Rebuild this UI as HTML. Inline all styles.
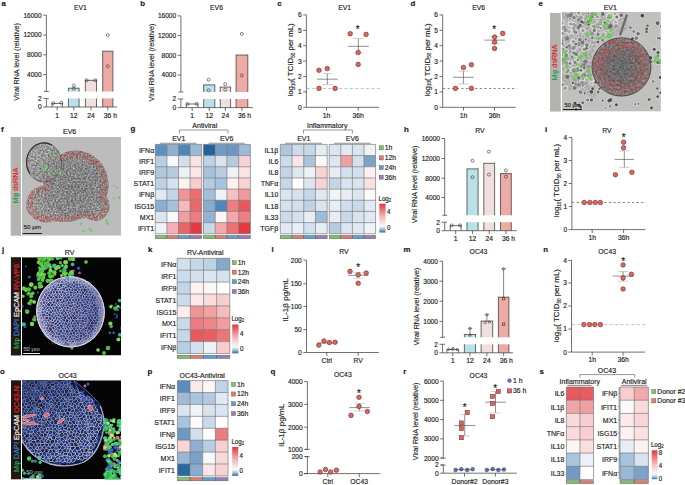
<!DOCTYPE html>
<html><head><meta charset="utf-8"><style>
html,body{margin:0;padding:0;background:#fff;}
svg{display:block;font-family:"Liberation Sans", sans-serif;font-size:6.8px;fill:#1e1e1e;}
text{stroke:#1e1e1e;stroke-width:0.16px;}
</style></head><body>
<svg width="685" height="485" viewBox="0 0 685 485">
<rect width="685" height="485" fill="#fff"/>
<text x="1.5" y="6" font-weight="bold" fill="#1a1414" stroke="#1a1414" font-size="7.9">a</text>
<line x1="46.4" y1="15.2" x2="46.4" y2="91.5" stroke="#333" stroke-width="0.7"/>
<line x1="43.2" y1="15.2" x2="46.4" y2="15.2" stroke="#333" stroke-width="0.7"/>
<text x="41.7" y="17.65" text-anchor="end" font-size="6.6" transform="matrix(1 0 0 1.1 0 -1.77)">16000</text>
<line x1="43.2" y1="35" x2="46.4" y2="35" stroke="#333" stroke-width="0.7"/>
<text x="41.7" y="37.45" text-anchor="end" font-size="6.6" transform="matrix(1 0 0 1.1 0 -3.75)">12000</text>
<line x1="43.2" y1="54.8" x2="46.4" y2="54.8" stroke="#333" stroke-width="0.7"/>
<text x="41.7" y="57.25" text-anchor="end" font-size="6.6" transform="matrix(1 0 0 1.1 0 -5.73)">8000</text>
<line x1="43.2" y1="74.6" x2="46.4" y2="74.6" stroke="#333" stroke-width="0.7"/>
<text x="41.7" y="77.05" text-anchor="end" font-size="6.6" transform="matrix(1 0 0 1.1 0 -7.71)">4000</text>
<line x1="44" y1="91.5" x2="48.8" y2="91.5" stroke="#333" stroke-width="0.7"/>
<line x1="46.4" y1="98.4" x2="46.4" y2="107" stroke="#333" stroke-width="0.7"/>
<line x1="43.2" y1="98.4" x2="46.4" y2="98.4" stroke="#333" stroke-width="0.7"/>
<text x="41.7" y="100.85" text-anchor="end" font-size="6.6" transform="matrix(1 0 0 1.1 0 -10.09)">2</text>
<line x1="43.2" y1="107" x2="46.4" y2="107" stroke="#333" stroke-width="0.7"/>
<text x="41.7" y="109.45" text-anchor="end" font-size="6.6" transform="matrix(1 0 0 1.1 0 -10.95)">0</text>
<line x1="46.4" y1="98.4" x2="48.8" y2="98.4" stroke="#333" stroke-width="0.7"/>
<rect x="52" y="103.4" width="10.4" height="3.6" fill="#ffffff"/>
<line x1="52" y1="103.4" x2="62.4" y2="103.4" stroke="#444" stroke-width="0.8"/>
<line x1="52" y1="103" x2="52" y2="107" stroke="#444" stroke-width="0.8"/>
<line x1="62.4" y1="103" x2="62.4" y2="107" stroke="#444" stroke-width="0.8"/>
<line x1="57.2" y1="107" x2="57.2" y2="110.4" stroke="#333" stroke-width="0.7"/>
<text x="57.2" y="117.6" text-anchor="middle" transform="matrix(1 0 0 1.15 0 -17.64)">1</text>
<rect x="68.4" y="88.2" width="10.7" height="3.3" fill="#b9e1e7"/>
<rect x="68.4" y="98.4" width="10.7" height="8.6" fill="#b9e1e7"/>
<line x1="68.4" y1="88.2" x2="79.1" y2="88.2" stroke="#444" stroke-width="0.8"/>
<line x1="68.4" y1="87.8" x2="68.4" y2="91.5" stroke="#444" stroke-width="0.8"/>
<line x1="68.4" y1="98.4" x2="68.4" y2="107" stroke="#444" stroke-width="0.8"/>
<line x1="79.1" y1="87.8" x2="79.1" y2="91.5" stroke="#444" stroke-width="0.8"/>
<line x1="79.1" y1="98.4" x2="79.1" y2="107" stroke="#444" stroke-width="0.8"/>
<line x1="73.75" y1="107" x2="73.75" y2="110.4" stroke="#333" stroke-width="0.7"/>
<text x="73.75" y="117.6" text-anchor="middle" transform="matrix(1 0 0 1.15 0 -17.64)">12</text>
<rect x="85.4" y="80.3" width="11.1" height="11.2" fill="#efdfdf"/>
<rect x="85.4" y="98.4" width="11.1" height="8.6" fill="#efdfdf"/>
<line x1="85.4" y1="80.3" x2="96.5" y2="80.3" stroke="#444" stroke-width="0.8"/>
<line x1="85.4" y1="79.9" x2="85.4" y2="91.5" stroke="#444" stroke-width="0.8"/>
<line x1="85.4" y1="98.4" x2="85.4" y2="107" stroke="#444" stroke-width="0.8"/>
<line x1="96.5" y1="79.9" x2="96.5" y2="91.5" stroke="#444" stroke-width="0.8"/>
<line x1="96.5" y1="98.4" x2="96.5" y2="107" stroke="#444" stroke-width="0.8"/>
<line x1="90.95" y1="107" x2="90.95" y2="110.4" stroke="#333" stroke-width="0.7"/>
<text x="90.95" y="117.6" text-anchor="middle" transform="matrix(1 0 0 1.15 0 -17.64)">24</text>
<rect x="102.7" y="51.2" width="10.2" height="40.3" fill="#eeaaa5"/>
<rect x="102.7" y="98.4" width="10.2" height="8.6" fill="#eeaaa5"/>
<line x1="102.7" y1="51.2" x2="112.9" y2="51.2" stroke="#444" stroke-width="0.8"/>
<line x1="102.7" y1="50.8" x2="102.7" y2="91.5" stroke="#444" stroke-width="0.8"/>
<line x1="102.7" y1="98.4" x2="102.7" y2="107" stroke="#444" stroke-width="0.8"/>
<line x1="112.9" y1="50.8" x2="112.9" y2="91.5" stroke="#444" stroke-width="0.8"/>
<line x1="112.9" y1="98.4" x2="112.9" y2="107" stroke="#444" stroke-width="0.8"/>
<line x1="107.8" y1="107" x2="107.8" y2="110.4" stroke="#333" stroke-width="0.7"/>
<text x="110.4" y="117.6" text-anchor="middle" transform="matrix(1 0 0 1.15 0 -17.64)">36 h</text>
<line x1="46.4" y1="107" x2="117" y2="107" stroke="#333" stroke-width="0.7"/>
<text x="80.4" y="9.8" text-anchor="middle" transform="matrix(1 0 0 1.09 0 -0.88)">EV1</text>
<text x="19.2" y="61.9" text-anchor="middle" font-size="7.2" transform="matrix(1 0 0 1 0 -0) rotate(-90 19.2 61.9)">Viral RNA level (relative)</text>
<circle cx="53.2" cy="103.2" r="1.5" fill="none" stroke="#333" stroke-width="0.6"/>
<circle cx="61.4" cy="102.8" r="1.5" fill="none" stroke="#333" stroke-width="0.6"/>
<circle cx="73.8" cy="85.6" r="1.5" fill="none" stroke="#333" stroke-width="0.6"/>
<circle cx="73.8" cy="88.6" r="1.5" fill="none" stroke="#333" stroke-width="0.6"/>
<circle cx="86.6" cy="80.3" r="1.5" fill="none" stroke="#333" stroke-width="0.6"/>
<circle cx="95.3" cy="80.3" r="1.5" fill="none" stroke="#333" stroke-width="0.6"/>
<circle cx="107.8" cy="35.1" r="1.5" fill="none" stroke="#333" stroke-width="0.6"/>
<circle cx="107.8" cy="66.3" r="1.5" fill="none" stroke="#333" stroke-width="0.6"/>
<text x="140.2" y="6" font-weight="bold" fill="#1a1414" stroke="#1a1414" font-size="7.9">b</text>
<line x1="180.9" y1="15.9" x2="180.9" y2="92" stroke="#333" stroke-width="0.7"/>
<line x1="177.7" y1="15.9" x2="180.9" y2="15.9" stroke="#333" stroke-width="0.7"/>
<text x="176.2" y="18.35" text-anchor="end" font-size="6.6" transform="matrix(1 0 0 1.1 0 -1.84)">16000</text>
<line x1="177.7" y1="35.6" x2="180.9" y2="35.6" stroke="#333" stroke-width="0.7"/>
<text x="176.2" y="38.05" text-anchor="end" font-size="6.6" transform="matrix(1 0 0 1.1 0 -3.81)">12000</text>
<line x1="177.7" y1="55.3" x2="180.9" y2="55.3" stroke="#333" stroke-width="0.7"/>
<text x="176.2" y="57.75" text-anchor="end" font-size="6.6" transform="matrix(1 0 0 1.1 0 -5.78)">8000</text>
<line x1="177.7" y1="75" x2="180.9" y2="75" stroke="#333" stroke-width="0.7"/>
<text x="176.2" y="77.45" text-anchor="end" font-size="6.6" transform="matrix(1 0 0 1.1 0 -7.75)">4000</text>
<line x1="178.5" y1="92" x2="183.3" y2="92" stroke="#333" stroke-width="0.7"/>
<line x1="180.9" y1="99" x2="180.9" y2="107.6" stroke="#333" stroke-width="0.7"/>
<line x1="177.7" y1="99" x2="180.9" y2="99" stroke="#333" stroke-width="0.7"/>
<text x="176.2" y="101.45" text-anchor="end" font-size="6.6" transform="matrix(1 0 0 1.1 0 -10.15)">2</text>
<line x1="177.7" y1="107.6" x2="180.9" y2="107.6" stroke="#333" stroke-width="0.7"/>
<text x="176.2" y="110.05" text-anchor="end" font-size="6.6" transform="matrix(1 0 0 1.1 0 -11.01)">0</text>
<line x1="180.9" y1="99" x2="183.3" y2="99" stroke="#333" stroke-width="0.7"/>
<rect x="186.3" y="104" width="11.7" height="3.6" fill="#ffffff"/>
<line x1="186.3" y1="104" x2="198" y2="104" stroke="#444" stroke-width="0.8"/>
<line x1="186.3" y1="103.6" x2="186.3" y2="107.6" stroke="#444" stroke-width="0.8"/>
<line x1="198" y1="103.6" x2="198" y2="107.6" stroke="#444" stroke-width="0.8"/>
<line x1="192.15" y1="107.6" x2="192.15" y2="111" stroke="#333" stroke-width="0.7"/>
<text x="192.15" y="118" text-anchor="middle" transform="matrix(1 0 0 1.15 0 -17.7)">1</text>
<rect x="203.7" y="84.9" width="11.1" height="7.1" fill="#b9e1e7"/>
<rect x="203.7" y="99" width="11.1" height="8.6" fill="#b9e1e7"/>
<line x1="203.7" y1="84.9" x2="214.8" y2="84.9" stroke="#444" stroke-width="0.8"/>
<line x1="203.7" y1="84.5" x2="203.7" y2="92" stroke="#444" stroke-width="0.8"/>
<line x1="203.7" y1="99" x2="203.7" y2="107.6" stroke="#444" stroke-width="0.8"/>
<line x1="214.8" y1="84.5" x2="214.8" y2="92" stroke="#444" stroke-width="0.8"/>
<line x1="214.8" y1="99" x2="214.8" y2="107.6" stroke="#444" stroke-width="0.8"/>
<line x1="209.25" y1="107.6" x2="209.25" y2="111" stroke="#333" stroke-width="0.7"/>
<text x="209.25" y="118" text-anchor="middle" transform="matrix(1 0 0 1.15 0 -17.7)">12</text>
<rect x="220.2" y="87.1" width="10.4" height="4.9" fill="#efdfdf"/>
<rect x="220.2" y="99" width="10.4" height="8.6" fill="#efdfdf"/>
<line x1="220.2" y1="87.1" x2="230.6" y2="87.1" stroke="#444" stroke-width="0.8"/>
<line x1="220.2" y1="86.7" x2="220.2" y2="92" stroke="#444" stroke-width="0.8"/>
<line x1="220.2" y1="99" x2="220.2" y2="107.6" stroke="#444" stroke-width="0.8"/>
<line x1="230.6" y1="86.7" x2="230.6" y2="92" stroke="#444" stroke-width="0.8"/>
<line x1="230.6" y1="99" x2="230.6" y2="107.6" stroke="#444" stroke-width="0.8"/>
<line x1="225.4" y1="107.6" x2="225.4" y2="111" stroke="#333" stroke-width="0.7"/>
<text x="225.4" y="118" text-anchor="middle" transform="matrix(1 0 0 1.15 0 -17.7)">24</text>
<rect x="236.1" y="55" width="11.7" height="37" fill="#eeaaa5"/>
<rect x="236.1" y="99" width="11.7" height="8.6" fill="#eeaaa5"/>
<line x1="236.1" y1="55" x2="247.8" y2="55" stroke="#444" stroke-width="0.8"/>
<line x1="236.1" y1="54.6" x2="236.1" y2="92" stroke="#444" stroke-width="0.8"/>
<line x1="236.1" y1="99" x2="236.1" y2="107.6" stroke="#444" stroke-width="0.8"/>
<line x1="247.8" y1="54.6" x2="247.8" y2="92" stroke="#444" stroke-width="0.8"/>
<line x1="247.8" y1="99" x2="247.8" y2="107.6" stroke="#444" stroke-width="0.8"/>
<line x1="241.95" y1="107.6" x2="241.95" y2="111" stroke="#333" stroke-width="0.7"/>
<text x="244.55" y="118" text-anchor="middle" transform="matrix(1 0 0 1.15 0 -17.7)">36 h</text>
<line x1="180.9" y1="107.6" x2="253" y2="107.6" stroke="#333" stroke-width="0.7"/>
<text x="216.5" y="10.2" text-anchor="middle" transform="matrix(1 0 0 1.09 0 -0.92)">EV6</text>
<text x="153.6" y="62.5" text-anchor="middle" font-size="7.2" transform="matrix(1 0 0 1 0 -0) rotate(-90 153.6 62.5)">Viral RNA level (relative)</text>
<circle cx="187.6" cy="104" r="1.5" fill="none" stroke="#333" stroke-width="0.6"/>
<circle cx="196.6" cy="103.8" r="1.5" fill="none" stroke="#333" stroke-width="0.6"/>
<circle cx="208.6" cy="79.7" r="1.5" fill="none" stroke="#333" stroke-width="0.6"/>
<circle cx="208.6" cy="90.3" r="1.5" fill="none" stroke="#333" stroke-width="0.6"/>
<circle cx="225.2" cy="84.2" r="1.5" fill="none" stroke="#333" stroke-width="0.6"/>
<circle cx="225.2" cy="89.6" r="1.5" fill="none" stroke="#333" stroke-width="0.6"/>
<circle cx="241.8" cy="33.9" r="1.5" fill="none" stroke="#333" stroke-width="0.6"/>
<circle cx="241.8" cy="75.5" r="1.5" fill="none" stroke="#333" stroke-width="0.6"/>
<text x="277.3" y="6" font-weight="bold" fill="#1a1414" stroke="#1a1414" font-size="7.9">c</text>
<line x1="306.4" y1="14.9" x2="306.4" y2="107.3" stroke="#333" stroke-width="0.7"/>
<line x1="303.2" y1="107.3" x2="306.4" y2="107.3" stroke="#333" stroke-width="0.7"/>
<text x="301.7" y="109.75" text-anchor="end" font-size="6.6" transform="matrix(1 0 0 1.1 0 -10.98)">0</text>
<line x1="303.2" y1="91.9" x2="306.4" y2="91.9" stroke="#333" stroke-width="0.7"/>
<text x="301.7" y="94.35" text-anchor="end" font-size="6.6" transform="matrix(1 0 0 1.1 0 -9.44)">1</text>
<line x1="303.2" y1="76.5" x2="306.4" y2="76.5" stroke="#333" stroke-width="0.7"/>
<text x="301.7" y="78.95" text-anchor="end" font-size="6.6" transform="matrix(1 0 0 1.1 0 -7.9)">2</text>
<line x1="303.2" y1="61.1" x2="306.4" y2="61.1" stroke="#333" stroke-width="0.7"/>
<text x="301.7" y="63.55" text-anchor="end" font-size="6.6" transform="matrix(1 0 0 1.1 0 -6.36)">3</text>
<line x1="303.2" y1="45.7" x2="306.4" y2="45.7" stroke="#333" stroke-width="0.7"/>
<text x="301.7" y="48.15" text-anchor="end" font-size="6.6" transform="matrix(1 0 0 1.1 0 -4.82)">4</text>
<line x1="303.2" y1="30.3" x2="306.4" y2="30.3" stroke="#333" stroke-width="0.7"/>
<text x="301.7" y="32.75" text-anchor="end" font-size="6.6" transform="matrix(1 0 0 1.1 0 -3.28)">5</text>
<line x1="303.2" y1="14.9" x2="306.4" y2="14.9" stroke="#333" stroke-width="0.7"/>
<text x="301.7" y="17.35" text-anchor="end" font-size="6.6" transform="matrix(1 0 0 1.1 0 -1.74)">6</text>
<line x1="306.4" y1="107.3" x2="379" y2="107.3" stroke="#333" stroke-width="0.7"/>
<line x1="326.6" y1="107.3" x2="326.6" y2="110.7" stroke="#333" stroke-width="0.7"/>
<text x="326.6" y="117.6" text-anchor="middle" transform="matrix(1 0 0 1.15 0 -17.64)">1h</text>
<line x1="358.2" y1="107.3" x2="358.2" y2="110.7" stroke="#333" stroke-width="0.7"/>
<text x="358.2" y="117.6" text-anchor="middle" transform="matrix(1 0 0 1.15 0 -17.64)">36h</text>
<text x="344.6" y="9.8" text-anchor="middle" transform="matrix(1 0 0 1.09 0 -0.88)">EV1</text>
<text x="293.4" y="59.9" text-anchor="middle" font-size="7.9" transform="matrix(1 0 0 1 0 -0) rotate(-90 293.4 59.9)">log<tspan font-size="4.6" dy="1.3">10</tspan><tspan dy="-1.3">( TCID</tspan><tspan font-size="4.6" dy="1.3">50</tspan><tspan dy="-1.3"> per mL)</tspan></text>
<line x1="306.7" y1="88.5" x2="381" y2="88.5" stroke="#bbb" stroke-width="0.9" stroke-dasharray="3 2.4"/>
<line x1="317" y1="79.2" x2="337.6" y2="79.2" stroke="#444" stroke-width="0.6"/>
<line x1="327.3" y1="73.5" x2="327.3" y2="84.7" stroke="#444" stroke-width="0.6"/>
<line x1="322.3" y1="73.5" x2="332.3" y2="73.5" stroke="#bbb" stroke-width="0.7"/>
<line x1="322.3" y1="84.7" x2="332.3" y2="84.7" stroke="#bbb" stroke-width="0.7"/>
<line x1="347.8" y1="46.3" x2="368.8" y2="46.3" stroke="#444" stroke-width="0.6"/>
<line x1="358.3" y1="38.4" x2="358.3" y2="53.2" stroke="#444" stroke-width="0.6"/>
<line x1="353.3" y1="38.4" x2="363.3" y2="38.4" stroke="#bbb" stroke-width="0.7"/>
<line x1="353.3" y1="53.2" x2="363.3" y2="53.2" stroke="#bbb" stroke-width="0.7"/>
<circle cx="319" cy="70.3" r="2.3" fill="#e8625c" stroke="#4a2828" stroke-width="0.55"/>
<circle cx="327.2" cy="68.6" r="2.3" fill="#e8625c" stroke="#4a2828" stroke-width="0.55"/>
<circle cx="319" cy="88.4" r="2.3" fill="#e8625c" stroke="#4a2828" stroke-width="0.55"/>
<circle cx="335.1" cy="88.4" r="2.3" fill="#e8625c" stroke="#4a2828" stroke-width="0.55"/>
<circle cx="350.2" cy="33.7" r="2.3" fill="#e8625c" stroke="#4a2828" stroke-width="0.55"/>
<circle cx="366.1" cy="34.4" r="2.3" fill="#e8625c" stroke="#4a2828" stroke-width="0.55"/>
<circle cx="358.2" cy="52.5" r="2.3" fill="#e8625c" stroke="#4a2828" stroke-width="0.55"/>
<circle cx="358.2" cy="64.4" r="2.3" fill="#e8625c" stroke="#4a2828" stroke-width="0.55"/>
<text x="357.6" y="33.5" text-anchor="middle" font-size="10" transform="matrix(1 0 0 1.09 0 -3.02)" stroke-width="0">*</text>
<text x="410.5" y="6" font-weight="bold" fill="#1a1414" stroke="#1a1414" font-size="7.9">d</text>
<line x1="442.7" y1="14.9" x2="442.7" y2="107.3" stroke="#333" stroke-width="0.7"/>
<line x1="439.5" y1="107.3" x2="442.7" y2="107.3" stroke="#333" stroke-width="0.7"/>
<text x="438" y="109.75" text-anchor="end" font-size="6.6" transform="matrix(1 0 0 1.1 0 -10.98)">0</text>
<line x1="439.5" y1="91.9" x2="442.7" y2="91.9" stroke="#333" stroke-width="0.7"/>
<text x="438" y="94.35" text-anchor="end" font-size="6.6" transform="matrix(1 0 0 1.1 0 -9.44)">1</text>
<line x1="439.5" y1="76.5" x2="442.7" y2="76.5" stroke="#333" stroke-width="0.7"/>
<text x="438" y="78.95" text-anchor="end" font-size="6.6" transform="matrix(1 0 0 1.1 0 -7.9)">2</text>
<line x1="439.5" y1="61.1" x2="442.7" y2="61.1" stroke="#333" stroke-width="0.7"/>
<text x="438" y="63.55" text-anchor="end" font-size="6.6" transform="matrix(1 0 0 1.1 0 -6.36)">3</text>
<line x1="439.5" y1="45.7" x2="442.7" y2="45.7" stroke="#333" stroke-width="0.7"/>
<text x="438" y="48.15" text-anchor="end" font-size="6.6" transform="matrix(1 0 0 1.1 0 -4.82)">4</text>
<line x1="439.5" y1="30.3" x2="442.7" y2="30.3" stroke="#333" stroke-width="0.7"/>
<text x="438" y="32.75" text-anchor="end" font-size="6.6" transform="matrix(1 0 0 1.1 0 -3.28)">5</text>
<line x1="439.5" y1="14.9" x2="442.7" y2="14.9" stroke="#333" stroke-width="0.7"/>
<text x="438" y="17.35" text-anchor="end" font-size="6.6" transform="matrix(1 0 0 1.1 0 -1.74)">6</text>
<line x1="442.7" y1="107.3" x2="515.7" y2="107.3" stroke="#333" stroke-width="0.7"/>
<line x1="463.5" y1="107.3" x2="463.5" y2="110.7" stroke="#333" stroke-width="0.7"/>
<text x="463.5" y="117.6" text-anchor="middle" transform="matrix(1 0 0 1.15 0 -17.64)">1h</text>
<line x1="494.4" y1="107.3" x2="494.4" y2="110.7" stroke="#333" stroke-width="0.7"/>
<text x="494.4" y="117.6" text-anchor="middle" transform="matrix(1 0 0 1.15 0 -17.64)">36h</text>
<text x="478.7" y="9.8" text-anchor="middle" transform="matrix(1 0 0 1.09 0 -0.88)">EV6</text>
<text x="429.8" y="59.9" text-anchor="middle" font-size="7.9" transform="matrix(1 0 0 1 0 -0) rotate(-90 429.8 59.9)">log<tspan font-size="4.6" dy="1.3">10</tspan><tspan dy="-1.3">( TCID</tspan><tspan font-size="4.6" dy="1.3">50</tspan><tspan dy="-1.3"> per mL)</tspan></text>
<line x1="443" y1="88.5" x2="517" y2="88.5" stroke="#555" stroke-width="0.7" stroke-dasharray="2.2 2.4"/>
<line x1="453" y1="77.3" x2="473.8" y2="77.3" stroke="#444" stroke-width="0.6"/>
<line x1="463.4" y1="71.1" x2="463.4" y2="83.9" stroke="#444" stroke-width="0.6"/>
<line x1="458.4" y1="71.1" x2="468.4" y2="71.1" stroke="#bbb" stroke-width="0.7"/>
<line x1="458.4" y1="83.9" x2="468.4" y2="83.9" stroke="#bbb" stroke-width="0.7"/>
<line x1="484.5" y1="40.1" x2="505.1" y2="40.1" stroke="#444" stroke-width="0.6"/>
<line x1="494.8" y1="36.6" x2="494.8" y2="43.6" stroke="#444" stroke-width="0.6"/>
<line x1="489.8" y1="36.6" x2="499.8" y2="36.6" stroke="#bbb" stroke-width="0.7"/>
<line x1="489.8" y1="43.6" x2="499.8" y2="43.6" stroke="#bbb" stroke-width="0.7"/>
<circle cx="463.4" cy="67.5" r="2.3" fill="#e8625c" stroke="#4a2828" stroke-width="0.55"/>
<circle cx="471.4" cy="64.7" r="2.3" fill="#e8625c" stroke="#4a2828" stroke-width="0.55"/>
<circle cx="455.4" cy="88.4" r="2.3" fill="#e8625c" stroke="#4a2828" stroke-width="0.55"/>
<circle cx="471.4" cy="88.4" r="2.3" fill="#e8625c" stroke="#4a2828" stroke-width="0.55"/>
<circle cx="494.6" cy="37.1" r="2.3" fill="#e8625c" stroke="#4a2828" stroke-width="0.55"/>
<circle cx="502.7" cy="33.4" r="2.3" fill="#e8625c" stroke="#4a2828" stroke-width="0.55"/>
<circle cx="494.6" cy="42.1" r="2.3" fill="#e8625c" stroke="#4a2828" stroke-width="0.55"/>
<circle cx="494.6" cy="48.5" r="2.3" fill="#e8625c" stroke="#4a2828" stroke-width="0.55"/>
<text x="494.3" y="33.5" text-anchor="middle" font-size="10" transform="matrix(1 0 0 1.09 0 -3.02)" stroke-width="0">*</text>
<text x="403.9" y="131.6" font-weight="bold" fill="#1a1414" stroke="#1a1414" font-size="7.9">h</text>
<line x1="444.7" y1="138.5" x2="444.7" y2="215.3" stroke="#333" stroke-width="0.7"/>
<line x1="441.5" y1="138.5" x2="444.7" y2="138.5" stroke="#333" stroke-width="0.7"/>
<text x="440" y="140.95" text-anchor="end" font-size="6.6" transform="matrix(1 0 0 1.1 0 -14.1)">16000</text>
<line x1="441.5" y1="158.5" x2="444.7" y2="158.5" stroke="#333" stroke-width="0.7"/>
<text x="440" y="160.95" text-anchor="end" font-size="6.6" transform="matrix(1 0 0 1.1 0 -16.1)">12000</text>
<line x1="441.5" y1="178.2" x2="444.7" y2="178.2" stroke="#333" stroke-width="0.7"/>
<text x="440" y="180.65" text-anchor="end" font-size="6.6" transform="matrix(1 0 0 1.1 0 -18.07)">8000</text>
<line x1="441.5" y1="197.5" x2="444.7" y2="197.5" stroke="#333" stroke-width="0.7"/>
<text x="440" y="199.95" text-anchor="end" font-size="6.6" transform="matrix(1 0 0 1.1 0 -20)">4000</text>
<line x1="442.3" y1="215.3" x2="447.1" y2="215.3" stroke="#333" stroke-width="0.7"/>
<line x1="444.7" y1="222.2" x2="444.7" y2="230.7" stroke="#333" stroke-width="0.7"/>
<line x1="441.5" y1="222.2" x2="444.7" y2="222.2" stroke="#333" stroke-width="0.7"/>
<text x="440" y="224.65" text-anchor="end" font-size="6.6" transform="matrix(1 0 0 1.1 0 -22.47)">2</text>
<line x1="441.5" y1="230.7" x2="444.7" y2="230.7" stroke="#333" stroke-width="0.7"/>
<text x="440" y="233.15" text-anchor="end" font-size="6.6" transform="matrix(1 0 0 1.1 0 -23.32)">0</text>
<line x1="444.7" y1="222.2" x2="447.1" y2="222.2" stroke="#333" stroke-width="0.7"/>
<rect x="450.3" y="225.6" width="10.8" height="5.1" fill="#ffffff"/>
<line x1="450.3" y1="225.6" x2="461.1" y2="225.6" stroke="#444" stroke-width="0.8"/>
<line x1="450.3" y1="225.2" x2="450.3" y2="230.7" stroke="#444" stroke-width="0.8"/>
<line x1="461.1" y1="225.2" x2="461.1" y2="230.7" stroke="#444" stroke-width="0.8"/>
<line x1="455.7" y1="230.7" x2="455.7" y2="234.1" stroke="#333" stroke-width="0.7"/>
<text x="455.7" y="241.3" text-anchor="middle" transform="matrix(1 0 0 1.15 0 -36.19)">1</text>
<rect x="467" y="168.9" width="11.1" height="46.4" fill="#b9e1e7"/>
<rect x="467" y="222.2" width="11.1" height="8.5" fill="#b9e1e7"/>
<line x1="467" y1="168.9" x2="478.1" y2="168.9" stroke="#444" stroke-width="0.8"/>
<line x1="467" y1="168.5" x2="467" y2="215.3" stroke="#444" stroke-width="0.8"/>
<line x1="467" y1="222.2" x2="467" y2="230.7" stroke="#444" stroke-width="0.8"/>
<line x1="478.1" y1="168.5" x2="478.1" y2="215.3" stroke="#444" stroke-width="0.8"/>
<line x1="478.1" y1="222.2" x2="478.1" y2="230.7" stroke="#444" stroke-width="0.8"/>
<line x1="472.55" y1="230.7" x2="472.55" y2="234.1" stroke="#333" stroke-width="0.7"/>
<text x="472.55" y="241.3" text-anchor="middle" transform="matrix(1 0 0 1.15 0 -36.19)">12</text>
<rect x="483.8" y="163.3" width="10.8" height="52" fill="#efdfdf"/>
<rect x="483.8" y="222.2" width="10.8" height="8.5" fill="#efdfdf"/>
<line x1="483.8" y1="163.3" x2="494.6" y2="163.3" stroke="#444" stroke-width="0.8"/>
<line x1="483.8" y1="162.9" x2="483.8" y2="215.3" stroke="#444" stroke-width="0.8"/>
<line x1="483.8" y1="222.2" x2="483.8" y2="230.7" stroke="#444" stroke-width="0.8"/>
<line x1="494.6" y1="162.9" x2="494.6" y2="215.3" stroke="#444" stroke-width="0.8"/>
<line x1="494.6" y1="222.2" x2="494.6" y2="230.7" stroke="#444" stroke-width="0.8"/>
<line x1="489.2" y1="230.7" x2="489.2" y2="234.1" stroke="#333" stroke-width="0.7"/>
<text x="489.2" y="241.3" text-anchor="middle" transform="matrix(1 0 0 1.15 0 -36.19)">24</text>
<rect x="500.5" y="173.6" width="10.8" height="41.7" fill="#eeaaa5"/>
<rect x="500.5" y="222.2" width="10.8" height="8.5" fill="#eeaaa5"/>
<line x1="500.5" y1="173.6" x2="511.3" y2="173.6" stroke="#444" stroke-width="0.8"/>
<line x1="500.5" y1="173.2" x2="500.5" y2="215.3" stroke="#444" stroke-width="0.8"/>
<line x1="500.5" y1="222.2" x2="500.5" y2="230.7" stroke="#444" stroke-width="0.8"/>
<line x1="511.3" y1="173.2" x2="511.3" y2="215.3" stroke="#444" stroke-width="0.8"/>
<line x1="511.3" y1="222.2" x2="511.3" y2="230.7" stroke="#444" stroke-width="0.8"/>
<line x1="505.9" y1="230.7" x2="505.9" y2="234.1" stroke="#333" stroke-width="0.7"/>
<text x="508.5" y="241.3" text-anchor="middle" transform="matrix(1 0 0 1.15 0 -36.19)">36 h</text>
<line x1="444.7" y1="230.7" x2="516.7" y2="230.7" stroke="#333" stroke-width="0.7"/>
<text x="479.9" y="133.2" text-anchor="middle" transform="matrix(1 0 0 1.09 0 -11.99)">RV</text>
<text x="417.1" y="184.4" text-anchor="middle" font-size="7.2" transform="matrix(1 0 0 1 0 -0) rotate(-90 417.1 184.4)">Viral RNA level (relative)</text>
<circle cx="451.6" cy="225.4" r="1.5" fill="none" stroke="#333" stroke-width="0.6"/>
<circle cx="460" cy="225.4" r="1.5" fill="none" stroke="#333" stroke-width="0.6"/>
<circle cx="472.5" cy="160.7" r="1.5" fill="none" stroke="#333" stroke-width="0.6"/>
<circle cx="472.5" cy="177.2" r="1.5" fill="none" stroke="#333" stroke-width="0.6"/>
<circle cx="488.9" cy="151.7" r="1.5" fill="none" stroke="#333" stroke-width="0.6"/>
<circle cx="488.9" cy="174.6" r="1.5" fill="none" stroke="#333" stroke-width="0.6"/>
<circle cx="505.9" cy="170.5" r="1.5" fill="none" stroke="#333" stroke-width="0.6"/>
<circle cx="505.9" cy="176.7" r="1.5" fill="none" stroke="#333" stroke-width="0.6"/>
<text x="544.9" y="131.6" font-weight="bold" fill="#1a1414" stroke="#1a1414" font-size="7.9">i</text>
<line x1="571.9" y1="137.4" x2="571.9" y2="229.6" stroke="#333" stroke-width="0.7"/>
<line x1="568.7" y1="229.6" x2="571.9" y2="229.6" stroke="#333" stroke-width="0.7"/>
<text x="567.2" y="232.05" text-anchor="end" font-size="6.6" transform="matrix(1 0 0 1.1 0 -23.21)">0</text>
<line x1="568.7" y1="206.55" x2="571.9" y2="206.55" stroke="#333" stroke-width="0.7"/>
<text x="567.2" y="209" text-anchor="end" font-size="6.6" transform="matrix(1 0 0 1.1 0 -20.9)">1</text>
<line x1="568.7" y1="183.5" x2="571.9" y2="183.5" stroke="#333" stroke-width="0.7"/>
<text x="567.2" y="185.95" text-anchor="end" font-size="6.6" transform="matrix(1 0 0 1.1 0 -18.6)">2</text>
<line x1="568.7" y1="160.45" x2="571.9" y2="160.45" stroke="#333" stroke-width="0.7"/>
<text x="567.2" y="162.9" text-anchor="end" font-size="6.6" transform="matrix(1 0 0 1.1 0 -16.29)">3</text>
<line x1="568.7" y1="137.4" x2="571.9" y2="137.4" stroke="#333" stroke-width="0.7"/>
<text x="567.2" y="139.85" text-anchor="end" font-size="6.6" transform="matrix(1 0 0 1.1 0 -13.99)">4</text>
<line x1="571.9" y1="229.6" x2="645.3" y2="229.6" stroke="#333" stroke-width="0.7"/>
<line x1="592.2" y1="229.6" x2="592.2" y2="233" stroke="#333" stroke-width="0.7"/>
<text x="592.2" y="239.9" text-anchor="middle" transform="matrix(1 0 0 1.15 0 -35.98)">1h</text>
<line x1="623.6" y1="229.6" x2="623.6" y2="233" stroke="#333" stroke-width="0.7"/>
<text x="623.6" y="239.9" text-anchor="middle" transform="matrix(1 0 0 1.15 0 -35.98)">36h</text>
<text x="606.9" y="133.2" text-anchor="middle" transform="matrix(1 0 0 1.09 0 -11.99)">RV</text>
<text x="559.5" y="180.6" text-anchor="middle" font-size="7.9" transform="matrix(1 0 0 1 0 -0) rotate(-90 559.5 180.6)">log<tspan font-size="4.6" dy="1.3">10</tspan><tspan dy="-1.3">( TCID</tspan><tspan font-size="4.6" dy="1.3">50</tspan><tspan dy="-1.3"> per mL)</tspan></text>
<line x1="572.2" y1="202.5" x2="646" y2="202.5" stroke="#555" stroke-width="0.7" stroke-dasharray="2.2 2.4"/>
<line x1="614.6" y1="159.4" x2="634" y2="159.4" stroke="#444" stroke-width="0.6"/>
<line x1="624.3" y1="150.9" x2="624.3" y2="167.4" stroke="#444" stroke-width="0.6"/>
<line x1="619.3" y1="150.9" x2="629.3" y2="150.9" stroke="#bbb" stroke-width="0.7"/>
<line x1="619.3" y1="167.4" x2="629.3" y2="167.4" stroke="#bbb" stroke-width="0.7"/>
<circle cx="584.2" cy="202.5" r="2.3" fill="#e8625c" stroke="#4a2828" stroke-width="0.55"/>
<circle cx="589.9" cy="202.5" r="2.3" fill="#e8625c" stroke="#4a2828" stroke-width="0.55"/>
<circle cx="595.3" cy="202.5" r="2.3" fill="#e8625c" stroke="#4a2828" stroke-width="0.55"/>
<circle cx="600.4" cy="202.5" r="2.3" fill="#e8625c" stroke="#4a2828" stroke-width="0.55"/>
<circle cx="623.6" cy="142.2" r="2.3" fill="#e8625c" stroke="#4a2828" stroke-width="0.55"/>
<circle cx="623.6" cy="147.8" r="2.3" fill="#e8625c" stroke="#4a2828" stroke-width="0.55"/>
<circle cx="615.4" cy="174.7" r="2.3" fill="#e8625c" stroke="#4a2828" stroke-width="0.55"/>
<circle cx="631.9" cy="172.3" r="2.3" fill="#e8625c" stroke="#4a2828" stroke-width="0.55"/>
<text x="623.6" y="141.3" text-anchor="middle" font-size="10" transform="matrix(1 0 0 1.09 0 -12.72)" stroke-width="0">*</text>
<text x="271.6" y="252.3" font-weight="bold" fill="#1a1414" stroke="#1a1414" font-size="7.9">l</text>
<line x1="306.5" y1="260.1" x2="306.5" y2="352.5" stroke="#333" stroke-width="0.7"/>
<line x1="303.3" y1="352.5" x2="306.5" y2="352.5" stroke="#333" stroke-width="0.7"/>
<text x="301.8" y="354.95" text-anchor="end" font-size="6.6" transform="matrix(1 0 0 1.1 0 -35.5)">0</text>
<line x1="303.3" y1="329.6" x2="306.5" y2="329.6" stroke="#333" stroke-width="0.7"/>
<text x="301.8" y="332.05" text-anchor="end" font-size="6.6" transform="matrix(1 0 0 1.1 0 -33.21)">50</text>
<line x1="303.3" y1="306.4" x2="306.5" y2="306.4" stroke="#333" stroke-width="0.7"/>
<text x="301.8" y="308.85" text-anchor="end" font-size="6.6" transform="matrix(1 0 0 1.1 0 -30.89)">100</text>
<line x1="303.3" y1="283.8" x2="306.5" y2="283.8" stroke="#333" stroke-width="0.7"/>
<text x="301.8" y="286.25" text-anchor="end" font-size="6.6" transform="matrix(1 0 0 1.1 0 -28.63)">150</text>
<line x1="303.3" y1="260.1" x2="306.5" y2="260.1" stroke="#333" stroke-width="0.7"/>
<text x="301.8" y="262.55" text-anchor="end" font-size="6.6" transform="matrix(1 0 0 1.1 0 -26.26)">200</text>
<line x1="306.5" y1="352.5" x2="378.8" y2="352.5" stroke="#333" stroke-width="0.7"/>
<line x1="326.8" y1="352.5" x2="326.8" y2="355.9" stroke="#333" stroke-width="0.7"/>
<text x="326.8" y="362.8" text-anchor="middle" transform="matrix(1 0 0 1.15 0 -54.42)">Ctrl</text>
<line x1="358.2" y1="352.5" x2="358.2" y2="355.9" stroke="#333" stroke-width="0.7"/>
<text x="358.2" y="362.8" text-anchor="middle" transform="matrix(1 0 0 1.15 0 -54.42)">RV</text>
<text x="344" y="254" text-anchor="middle" transform="matrix(1 0 0 1.09 0 -22.86)">RV</text>
<text x="288" y="300" text-anchor="middle" font-size="8.1" transform="matrix(1 0 0 1 0 -0) rotate(-90 288 300)">IL-1β pg/mL</text>
<line x1="348" y1="275.3" x2="368.4" y2="275.3" stroke="#444" stroke-width="0.6"/>
<line x1="358.2" y1="272.7" x2="358.2" y2="278.1" stroke="#444" stroke-width="0.6"/>
<line x1="353.2" y1="272.7" x2="363.2" y2="272.7" stroke="#bbb" stroke-width="0.7"/>
<line x1="353.2" y1="278.1" x2="363.2" y2="278.1" stroke="#bbb" stroke-width="0.7"/>
<line x1="318" y1="343" x2="336" y2="343" stroke="#444" stroke-width="0.6"/>
<circle cx="318.8" cy="345.1" r="2.3" fill="#e8625c" stroke="#4a2828" stroke-width="0.55"/>
<circle cx="324" cy="341" r="2.3" fill="#e8625c" stroke="#4a2828" stroke-width="0.55"/>
<circle cx="329.4" cy="342.5" r="2.3" fill="#e8625c" stroke="#4a2828" stroke-width="0.55"/>
<circle cx="335.1" cy="342.2" r="2.3" fill="#e8625c" stroke="#4a2828" stroke-width="0.55"/>
<circle cx="350" cy="271.4" r="2.3" fill="#e8625c" stroke="#4a2828" stroke-width="0.55"/>
<circle cx="358.2" cy="274.8" r="2.3" fill="#e8625c" stroke="#4a2828" stroke-width="0.55"/>
<circle cx="366.2" cy="273" r="2.3" fill="#e8625c" stroke="#4a2828" stroke-width="0.55"/>
<circle cx="358.2" cy="283.3" r="2.3" fill="#e8625c" stroke="#4a2828" stroke-width="0.55"/>
<text x="358.2" y="271.5" text-anchor="middle" font-size="10" transform="matrix(1 0 0 1.09 0 -24.44)" stroke-width="0">*</text>
<text x="403.5" y="252.3" font-weight="bold" fill="#1a1414" stroke="#1a1414" font-size="7.9">m</text>
<line x1="442.6" y1="261.3" x2="442.6" y2="337.3" stroke="#333" stroke-width="0.7"/>
<line x1="439.4" y1="261.3" x2="442.6" y2="261.3" stroke="#333" stroke-width="0.7"/>
<text x="437.9" y="263.75" text-anchor="end" font-size="6.6" transform="matrix(1 0 0 1.1 0 -26.38)">4000</text>
<line x1="439.4" y1="281.2" x2="442.6" y2="281.2" stroke="#333" stroke-width="0.7"/>
<text x="437.9" y="283.65" text-anchor="end" font-size="6.6" transform="matrix(1 0 0 1.1 0 -28.37)">3000</text>
<line x1="439.4" y1="301.3" x2="442.6" y2="301.3" stroke="#333" stroke-width="0.7"/>
<text x="437.9" y="303.75" text-anchor="end" font-size="6.6" transform="matrix(1 0 0 1.1 0 -30.38)">2000</text>
<line x1="439.4" y1="321.4" x2="442.6" y2="321.4" stroke="#333" stroke-width="0.7"/>
<text x="437.9" y="323.85" text-anchor="end" font-size="6.6" transform="matrix(1 0 0 1.1 0 -32.39)">1000</text>
<line x1="440.2" y1="337.3" x2="445" y2="337.3" stroke="#333" stroke-width="0.7"/>
<line x1="442.6" y1="344.3" x2="442.6" y2="352.8" stroke="#333" stroke-width="0.7"/>
<line x1="439.4" y1="344.3" x2="442.6" y2="344.3" stroke="#333" stroke-width="0.7"/>
<text x="437.9" y="346.75" text-anchor="end" font-size="6.6" transform="matrix(1 0 0 1.1 0 -34.68)">2</text>
<line x1="439.4" y1="352.8" x2="442.6" y2="352.8" stroke="#333" stroke-width="0.7"/>
<text x="437.9" y="355.25" text-anchor="end" font-size="6.6" transform="matrix(1 0 0 1.1 0 -35.53)">0</text>
<line x1="442.6" y1="344.3" x2="445" y2="344.3" stroke="#333" stroke-width="0.7"/>
<rect x="446.9" y="349.5" width="11.8" height="3.3" fill="#ffffff"/>
<line x1="446.9" y1="349.5" x2="458.7" y2="349.5" stroke="#444" stroke-width="0.8"/>
<line x1="446.9" y1="349.1" x2="446.9" y2="352.8" stroke="#444" stroke-width="0.8"/>
<line x1="458.7" y1="349.1" x2="458.7" y2="352.8" stroke="#444" stroke-width="0.8"/>
<line x1="452.8" y1="352.8" x2="452.8" y2="356.2" stroke="#333" stroke-width="0.7"/>
<text x="452.8" y="362.8" text-anchor="middle" transform="matrix(1 0 0 1.15 0 -54.42)">1</text>
<rect x="464.4" y="334.5" width="11.1" height="2.8" fill="#b9e1e7"/>
<rect x="464.4" y="344.3" width="11.1" height="8.5" fill="#b9e1e7"/>
<line x1="464.4" y1="334.5" x2="475.5" y2="334.5" stroke="#444" stroke-width="0.8"/>
<line x1="464.4" y1="334.1" x2="464.4" y2="337.3" stroke="#444" stroke-width="0.8"/>
<line x1="464.4" y1="344.3" x2="464.4" y2="352.8" stroke="#444" stroke-width="0.8"/>
<line x1="475.5" y1="334.1" x2="475.5" y2="337.3" stroke="#444" stroke-width="0.8"/>
<line x1="475.5" y1="344.3" x2="475.5" y2="352.8" stroke="#444" stroke-width="0.8"/>
<line x1="469.95" y1="352.8" x2="469.95" y2="356.2" stroke="#333" stroke-width="0.7"/>
<text x="469.95" y="362.8" text-anchor="middle" transform="matrix(1 0 0 1.15 0 -54.42)">12</text>
<rect x="481.1" y="321.1" width="11.6" height="16.2" fill="#efdfdf"/>
<rect x="481.1" y="344.3" width="11.6" height="8.5" fill="#efdfdf"/>
<line x1="481.1" y1="321.1" x2="492.7" y2="321.1" stroke="#444" stroke-width="0.8"/>
<line x1="481.1" y1="320.7" x2="481.1" y2="337.3" stroke="#444" stroke-width="0.8"/>
<line x1="481.1" y1="344.3" x2="481.1" y2="352.8" stroke="#444" stroke-width="0.8"/>
<line x1="492.7" y1="320.7" x2="492.7" y2="337.3" stroke="#444" stroke-width="0.8"/>
<line x1="492.7" y1="344.3" x2="492.7" y2="352.8" stroke="#444" stroke-width="0.8"/>
<line x1="486.9" y1="352.8" x2="486.9" y2="356.2" stroke="#333" stroke-width="0.7"/>
<text x="486.9" y="362.8" text-anchor="middle" transform="matrix(1 0 0 1.15 0 -54.42)">24</text>
<rect x="498.4" y="297.2" width="10.5" height="40.1" fill="#eeaaa5"/>
<rect x="498.4" y="344.3" width="10.5" height="8.5" fill="#eeaaa5"/>
<line x1="498.4" y1="297.2" x2="508.9" y2="297.2" stroke="#444" stroke-width="0.8"/>
<line x1="498.4" y1="296.8" x2="498.4" y2="337.3" stroke="#444" stroke-width="0.8"/>
<line x1="498.4" y1="344.3" x2="498.4" y2="352.8" stroke="#444" stroke-width="0.8"/>
<line x1="508.9" y1="296.8" x2="508.9" y2="337.3" stroke="#444" stroke-width="0.8"/>
<line x1="508.9" y1="344.3" x2="508.9" y2="352.8" stroke="#444" stroke-width="0.8"/>
<line x1="503.65" y1="352.8" x2="503.65" y2="356.2" stroke="#333" stroke-width="0.7"/>
<text x="506.25" y="362.8" text-anchor="middle" transform="matrix(1 0 0 1.15 0 -54.42)">36 h</text>
<line x1="442.6" y1="352.8" x2="513" y2="352.8" stroke="#333" stroke-width="0.7"/>
<text x="478.5" y="254" text-anchor="middle" transform="matrix(1 0 0 1.09 0 -22.86)">OC43</text>
<text x="418.6" y="306.7" text-anchor="middle" font-size="7.2" transform="matrix(1 0 0 1 0 -0) rotate(-90 418.6 306.7)">Viral RNA level (relative)</text>
<line x1="470" y1="334.5" x2="470" y2="328.3" stroke="#333" stroke-width="0.6"/>
<line x1="468" y1="328.3" x2="472" y2="328.3" stroke="#333" stroke-width="0.6"/>
<line x1="486.9" y1="321.1" x2="486.9" y2="314.7" stroke="#333" stroke-width="0.6"/>
<line x1="484.9" y1="314.7" x2="488.9" y2="314.7" stroke="#333" stroke-width="0.6"/>
<line x1="503.6" y1="297.2" x2="503.6" y2="268.8" stroke="#333" stroke-width="0.6"/>
<line x1="501.6" y1="268.8" x2="505.6" y2="268.8" stroke="#333" stroke-width="0.6"/>
<circle cx="448.7" cy="349.3" r="1.1" fill="none" stroke="#333" stroke-width="0.6"/>
<path d="M453 347L454.3 348.3L453 349.6L451.7 348.3Z" fill="none" stroke="#333" stroke-width="0.6"/>
<circle cx="452.5" cy="349.5" r="1" fill="none" stroke="#333" stroke-width="0.6"/>
<circle cx="457" cy="349.5" r="1.1" fill="none" stroke="#333" stroke-width="0.6"/>
<path d="M470 326.8L471.5 328.3L470 329.8L468.5 328.3Z" fill="none" stroke="#333" stroke-width="0.6"/>
<path d="M470 333.7L471.3 336.04L468.7 336.04Z" fill="none" stroke="#333" stroke-width="0.6"/>
<path d="M486.9 313.2L488.4 314.7L486.9 316.2L485.4 314.7Z" fill="none" stroke="#333" stroke-width="0.6"/>
<circle cx="485.2" cy="322.5" r="1.2" fill="none" stroke="#333" stroke-width="0.6"/>
<circle cx="489.5" cy="322" r="1.2" fill="none" stroke="#333" stroke-width="0.6"/>
<path d="M503.6 267.3L505.1 268.8L503.6 270.3L502.1 268.8Z" fill="none" stroke="#333" stroke-width="0.6"/>
<rect x="502.4" y="297.5" width="2.4" height="2.4" fill="none" stroke="#333" stroke-width="0.6"/>
<rect x="502.4" y="323" width="2.4" height="2.4" fill="none" stroke="#333" stroke-width="0.6"/>
<text x="543.3" y="252.3" font-weight="bold" fill="#1a1414" stroke="#1a1414" font-size="7.9">n</text>
<line x1="571.5" y1="260.4" x2="571.5" y2="352.1" stroke="#333" stroke-width="0.7"/>
<line x1="568.3" y1="352.1" x2="571.5" y2="352.1" stroke="#333" stroke-width="0.7"/>
<text x="566.8" y="354.55" text-anchor="end" font-size="6.6" transform="matrix(1 0 0 1.1 0 -35.46)">0</text>
<line x1="568.3" y1="329.05" x2="571.5" y2="329.05" stroke="#333" stroke-width="0.7"/>
<text x="566.8" y="331.5" text-anchor="end" font-size="6.6" transform="matrix(1 0 0 1.1 0 -33.15)">1</text>
<line x1="568.3" y1="306" x2="571.5" y2="306" stroke="#333" stroke-width="0.7"/>
<text x="566.8" y="308.45" text-anchor="end" font-size="6.6" transform="matrix(1 0 0 1.1 0 -30.85)">2</text>
<line x1="568.3" y1="282.95" x2="571.5" y2="282.95" stroke="#333" stroke-width="0.7"/>
<text x="566.8" y="285.4" text-anchor="end" font-size="6.6" transform="matrix(1 0 0 1.1 0 -28.54)">3</text>
<line x1="568.3" y1="260.4" x2="571.5" y2="260.4" stroke="#333" stroke-width="0.7"/>
<text x="566.8" y="262.85" text-anchor="end" font-size="6.6" transform="matrix(1 0 0 1.1 0 -26.29)">4</text>
<line x1="571.5" y1="352.1" x2="645" y2="352.1" stroke="#333" stroke-width="0.7"/>
<line x1="592.2" y1="352.1" x2="592.2" y2="355.5" stroke="#333" stroke-width="0.7"/>
<text x="592.2" y="362.4" text-anchor="middle" transform="matrix(1 0 0 1.15 0 -54.36)">1h</text>
<line x1="623.1" y1="352.1" x2="623.1" y2="355.5" stroke="#333" stroke-width="0.7"/>
<text x="623.1" y="362.4" text-anchor="middle" transform="matrix(1 0 0 1.15 0 -54.36)">36h</text>
<text x="607.1" y="254" text-anchor="middle" transform="matrix(1 0 0 1.09 0 -22.86)">OC43</text>
<text x="559.4" y="305.7" text-anchor="middle" font-size="7.9" transform="matrix(1 0 0 1 0 -0) rotate(-90 559.4 305.7)">log<tspan font-size="4.6" dy="1.3">10</tspan><tspan dy="-1.3">( TCID</tspan><tspan font-size="4.6" dy="1.3">50</tspan><tspan dy="-1.3"> per mL)</tspan></text>
<line x1="571.9" y1="324.6" x2="646.5" y2="324.6" stroke="#bbb" stroke-width="0.9" stroke-dasharray="3 2.4"/>
<line x1="612.8" y1="276.1" x2="633.4" y2="276.1" stroke="#444" stroke-width="0.6"/>
<line x1="623.1" y1="271.5" x2="623.1" y2="281.2" stroke="#444" stroke-width="0.6"/>
<line x1="618.1" y1="271.5" x2="628.1" y2="271.5" stroke="#bbb" stroke-width="0.7"/>
<line x1="618.1" y1="281.2" x2="628.1" y2="281.2" stroke="#bbb" stroke-width="0.7"/>
<circle cx="583.9" cy="324.6" r="2.3" fill="#e8625c" stroke="#4a2828" stroke-width="0.55"/>
<circle cx="589.6" cy="324.6" r="2.3" fill="#e8625c" stroke="#4a2828" stroke-width="0.55"/>
<circle cx="594.8" cy="324.6" r="2.3" fill="#e8625c" stroke="#4a2828" stroke-width="0.55"/>
<circle cx="600.4" cy="324.6" r="2.3" fill="#e8625c" stroke="#4a2828" stroke-width="0.55"/>
<circle cx="623.1" cy="265" r="2.3" fill="#e8625c" stroke="#4a2828" stroke-width="0.55"/>
<circle cx="623.1" cy="277.9" r="2.3" fill="#e8625c" stroke="#4a2828" stroke-width="0.55"/>
<circle cx="631.4" cy="274.3" r="2.3" fill="#e8625c" stroke="#4a2828" stroke-width="0.55"/>
<circle cx="623.1" cy="289" r="2.3" fill="#e8625c" stroke="#4a2828" stroke-width="0.55"/>
<text x="623.1" y="264.9" text-anchor="middle" font-size="10" transform="matrix(1 0 0 1.09 0 -23.84)" stroke-width="0">*</text>
<text x="270.4" y="374" font-weight="bold" fill="#1a1414" stroke="#1a1414" font-size="7.9">q</text>
<line x1="307.4" y1="381.6" x2="307.4" y2="449.4" stroke="#333" stroke-width="0.7"/>
<line x1="304.2" y1="381.6" x2="307.4" y2="381.6" stroke="#333" stroke-width="0.7"/>
<text x="302.7" y="384.05" text-anchor="end" font-size="6.6" transform="matrix(1 0 0 1.1 0 -38.41)">4000</text>
<line x1="304.2" y1="404.4" x2="307.4" y2="404.4" stroke="#333" stroke-width="0.7"/>
<text x="302.7" y="406.85" text-anchor="end" font-size="6.6" transform="matrix(1 0 0 1.1 0 -40.69)">3000</text>
<line x1="304.2" y1="427.2" x2="307.4" y2="427.2" stroke="#333" stroke-width="0.7"/>
<text x="302.7" y="429.65" text-anchor="end" font-size="6.6" transform="matrix(1 0 0 1.1 0 -42.97)">2000</text>
<line x1="304.2" y1="449.4" x2="307.4" y2="449.4" stroke="#333" stroke-width="0.7"/>
<text x="302.7" y="451.85" text-anchor="end" font-size="6.6" transform="matrix(1 0 0 1.1 0 -45.19)">1000</text>
<line x1="305.1" y1="449.4" x2="309.7" y2="449.4" stroke="#333" stroke-width="0.7"/>
<line x1="305.1" y1="456.6" x2="309.7" y2="456.6" stroke="#333" stroke-width="0.7"/>
<line x1="307.4" y1="456.6" x2="307.4" y2="473.6" stroke="#333" stroke-width="0.7"/>
<line x1="304.2" y1="456.6" x2="307.4" y2="456.6" stroke="#333" stroke-width="0.7"/>
<text x="302.7" y="459.05" text-anchor="end" font-size="6.6" transform="matrix(1 0 0 1.1 0 -45.91)">200</text>
<line x1="304.2" y1="473.6" x2="307.4" y2="473.6" stroke="#333" stroke-width="0.7"/>
<text x="302.7" y="476.05" text-anchor="end" font-size="6.6" transform="matrix(1 0 0 1.1 0 -47.61)">0</text>
<line x1="304" y1="473.6" x2="380.2" y2="473.6" stroke="#333" stroke-width="0.7"/>
<line x1="327.8" y1="473.6" x2="327.8" y2="477" stroke="#333" stroke-width="0.7"/>
<text x="327.8" y="483.6" text-anchor="middle" transform="matrix(1 0 0 1.15 0 -72.54)">Ctrl</text>
<line x1="359.2" y1="473.6" x2="359.2" y2="477" stroke="#333" stroke-width="0.7"/>
<text x="359.2" y="483.6" text-anchor="middle" transform="matrix(1 0 0 1.15 0 -72.54)">OC43</text>
<text x="342.8" y="377" text-anchor="middle" transform="matrix(1 0 0 1.09 0 -33.93)">OC43</text>
<text x="284" y="425.4" text-anchor="middle" font-size="8.1" transform="matrix(1 0 0 1 0 -0) rotate(-90 284 425.4)">IL-1β pg/mL</text>
<line x1="349.2" y1="407.6" x2="369.8" y2="407.6" stroke="#444" stroke-width="0.6"/>
<line x1="359.5" y1="403.3" x2="359.5" y2="411" stroke="#444" stroke-width="0.6"/>
<line x1="354.5" y1="403.3" x2="364.5" y2="403.3" stroke="#bbb" stroke-width="0.7"/>
<line x1="354.5" y1="411" x2="364.5" y2="411" stroke="#bbb" stroke-width="0.7"/>
<circle cx="320.1" cy="472" r="2.3" fill="#e8625c" stroke="#4a2828" stroke-width="0.55"/>
<circle cx="325.5" cy="469.5" r="2.3" fill="#e8625c" stroke="#4a2828" stroke-width="0.55"/>
<circle cx="330.7" cy="472" r="2.3" fill="#e8625c" stroke="#4a2828" stroke-width="0.55"/>
<circle cx="336.4" cy="470.2" r="2.3" fill="#e8625c" stroke="#4a2828" stroke-width="0.55"/>
<circle cx="359" cy="397.3" r="2.3" fill="#e8625c" stroke="#4a2828" stroke-width="0.55"/>
<circle cx="359" cy="406.4" r="2.3" fill="#e8625c" stroke="#4a2828" stroke-width="0.55"/>
<circle cx="351" cy="415.4" r="2.3" fill="#e8625c" stroke="#4a2828" stroke-width="0.55"/>
<circle cx="367.3" cy="411.5" r="2.3" fill="#e8625c" stroke="#4a2828" stroke-width="0.55"/>
<text x="359" y="396.7" text-anchor="middle" font-size="10" transform="matrix(1 0 0 1.09 0 -35.7)" stroke-width="0">*</text>
<text x="403.2" y="374" font-weight="bold" fill="#1a1414" stroke="#1a1414" font-size="7.9">r</text>
<line x1="443.3" y1="381.1" x2="443.3" y2="458.1" stroke="#333" stroke-width="0.7"/>
<line x1="440.1" y1="381.1" x2="443.3" y2="381.1" stroke="#333" stroke-width="0.7"/>
<text x="438.6" y="383.55" text-anchor="end" font-size="6.6" transform="matrix(1 0 0 1.1 0 -38.36)">6000</text>
<line x1="440.1" y1="400.35" x2="443.3" y2="400.35" stroke="#333" stroke-width="0.7"/>
<text x="438.6" y="402.8" text-anchor="end" font-size="6.6" transform="matrix(1 0 0 1.1 0 -40.28)">5000</text>
<line x1="440.1" y1="419.6" x2="443.3" y2="419.6" stroke="#333" stroke-width="0.7"/>
<text x="438.6" y="422.05" text-anchor="end" font-size="6.6" transform="matrix(1 0 0 1.1 0 -42.21)">4000</text>
<line x1="440.1" y1="438.85" x2="443.3" y2="438.85" stroke="#333" stroke-width="0.7"/>
<text x="438.6" y="441.3" text-anchor="end" font-size="6.6" transform="matrix(1 0 0 1.1 0 -44.13)">3000</text>
<line x1="440.1" y1="458.1" x2="443.3" y2="458.1" stroke="#333" stroke-width="0.7"/>
<text x="438.6" y="460.55" text-anchor="end" font-size="6.6" transform="matrix(1 0 0 1.1 0 -46.06)">2000</text>
<line x1="441" y1="458.1" x2="445.6" y2="458.1" stroke="#333" stroke-width="0.7"/>
<line x1="443.3" y1="465" x2="443.3" y2="473.2" stroke="#333" stroke-width="0.7"/>
<line x1="441" y1="465" x2="445.6" y2="465" stroke="#333" stroke-width="0.7"/>
<line x1="440.1" y1="465" x2="443.3" y2="465" stroke="#333" stroke-width="0.7"/>
<text x="438.6" y="467.45" text-anchor="end" font-size="6.6" transform="matrix(1 0 0 1.1 0 -46.75)">2</text>
<line x1="440.1" y1="473.2" x2="443.3" y2="473.2" stroke="#333" stroke-width="0.7"/>
<text x="438.6" y="475.65" text-anchor="end" font-size="6.6" transform="matrix(1 0 0 1.1 0 -47.57)">0</text>
<line x1="443.3" y1="473.2" x2="516.7" y2="473.2" stroke="#333" stroke-width="0.7"/>
<line x1="464.5" y1="473.2" x2="464.5" y2="476.6" stroke="#333" stroke-width="0.7"/>
<text x="464.5" y="483.6" text-anchor="middle" transform="matrix(1 0 0 1.15 0 -72.54)">Donor#2</text>
<line x1="495.4" y1="473.2" x2="495.4" y2="476.6" stroke="#333" stroke-width="0.7"/>
<text x="495.4" y="483.6" text-anchor="middle" transform="matrix(1 0 0 1.15 0 -72.54)">Donor#3</text>
<text x="478.5" y="378" text-anchor="middle" transform="matrix(1 0 0 1.09 0 -34.02)">OC43</text>
<text x="418.4" y="421.4" text-anchor="middle" font-size="7.2" transform="matrix(1 0 0 1 0 -0) rotate(-90 418.4 421.4)">Viral RNA level (relative)</text>
<line x1="454.3" y1="425.5" x2="475.1" y2="425.5" stroke="#444" stroke-width="0.6"/>
<line x1="464.7" y1="414.6" x2="464.7" y2="435.9" stroke="#444" stroke-width="0.6"/>
<line x1="459.7" y1="414.6" x2="469.7" y2="414.6" stroke="#bbb" stroke-width="0.7"/>
<line x1="459.7" y1="435.9" x2="469.7" y2="435.9" stroke="#bbb" stroke-width="0.7"/>
<line x1="485.1" y1="402.2" x2="505.9" y2="402.2" stroke="#444" stroke-width="0.6"/>
<line x1="495.5" y1="391.4" x2="495.5" y2="413" stroke="#444" stroke-width="0.6"/>
<line x1="490.5" y1="391.4" x2="500.5" y2="391.4" stroke="#bbb" stroke-width="0.7"/>
<line x1="490.5" y1="413" x2="500.5" y2="413" stroke="#bbb" stroke-width="0.7"/>
<circle cx="455.6" cy="470" r="1.9" fill="#5b7fc4" stroke="#333" stroke-width="0.4"/>
<circle cx="461.3" cy="469.2" r="1.9" fill="#5b7fc4" stroke="#333" stroke-width="0.4"/>
<circle cx="467.2" cy="470" r="1.9" fill="#5b7fc4" stroke="#333" stroke-width="0.4"/>
<circle cx="472.7" cy="469.2" r="1.9" fill="#5b7fc4" stroke="#333" stroke-width="0.4"/>
<circle cx="486.8" cy="470" r="1.9" fill="#5b7fc4" stroke="#333" stroke-width="0.4"/>
<circle cx="492.7" cy="469" r="1.9" fill="#5b7fc4" stroke="#333" stroke-width="0.4"/>
<circle cx="498.3" cy="470" r="1.9" fill="#5b7fc4" stroke="#333" stroke-width="0.4"/>
<circle cx="504" cy="469.5" r="1.9" fill="#5b7fc4" stroke="#333" stroke-width="0.4"/>
<line x1="455.6" y1="469.6" x2="472.7" y2="469.6" stroke="#333" stroke-width="0.5"/>
<line x1="486.8" y1="469.6" x2="504" y2="469.6" stroke="#333" stroke-width="0.5"/>
<rect x="465.1" y="410.3" width="4.2" height="4.2" fill="#e8625c" stroke="#4a2828" stroke-width="0.45"/>
<rect x="459.3" y="420.9" width="4.2" height="4.2" fill="#e8625c" stroke="#4a2828" stroke-width="0.45"/>
<rect x="459.3" y="426.5" width="4.2" height="4.2" fill="#e8625c" stroke="#4a2828" stroke-width="0.45"/>
<rect x="459.3" y="435.6" width="4.2" height="4.2" fill="#e8625c" stroke="#4a2828" stroke-width="0.45"/>
<rect x="496.2" y="389.4" width="4.2" height="4.2" fill="#e8625c" stroke="#4a2828" stroke-width="0.45"/>
<rect x="490.4" y="394.3" width="4.2" height="4.2" fill="#e8625c" stroke="#4a2828" stroke-width="0.45"/>
<rect x="490.4" y="401.4" width="4.2" height="4.2" fill="#e8625c" stroke="#4a2828" stroke-width="0.45"/>
<rect x="490.4" y="414.6" width="4.2" height="4.2" fill="#e8625c" stroke="#4a2828" stroke-width="0.45"/>
<text x="464.7" y="411.3" text-anchor="middle" font-size="10" transform="matrix(1 0 0 1.09 0 -37.02)" stroke-width="0">*</text>
<text x="495.3" y="391.9" text-anchor="middle" font-size="10" transform="matrix(1 0 0 1.09 0 -35.27)" stroke-width="0">*</text>
<circle cx="509.5" cy="380.6" r="1.9" fill="#5b7fc4" stroke="#333" stroke-width="0.4"/>
<rect x="507.4" y="388.8" width="4.2" height="4.2" fill="#e8625c" stroke="#4a2828" stroke-width="0.45"/>
<text x="513" y="383.1" transform="matrix(1 0 0 1.09 0 -34.48)">1 h</text>
<text x="513" y="393.4" transform="matrix(1 0 0 1.09 0 -35.41)">36 h</text>
<text x="130.5" y="131.4" font-weight="bold" fill="#1a1414" stroke="#1a1414" font-size="7.9">g</text>
<text x="204.8" y="128.3" text-anchor="middle" font-size="7" transform="matrix(1 0 0 1.09 0 -11.55)">Antiviral</text>
<path d="M179.4 133.6V130H227.9V133.6" fill="none" stroke="#857a7a" stroke-width="0.8"/>
<text x="178.8" y="140.8" text-anchor="middle" font-size="7" transform="matrix(1 0 0 1.09 0 -12.67)">EV1</text>
<line x1="160" y1="143.2" x2="196.6" y2="143.2" stroke="#968e8e" stroke-width="1.1"/>
<text x="226.7" y="140.8" text-anchor="middle" font-size="7" transform="matrix(1 0 0 1.09 0 -12.67)">EV6</text>
<line x1="208.6" y1="143.2" x2="244.7" y2="143.2" stroke="#968e8e" stroke-width="1.1"/>
<text x="327.2" y="128.3" text-anchor="middle" font-size="7" transform="matrix(1 0 0 1.09 0 -11.55)">Inflammatory</text>
<path d="M303.5 133.6V130H352.4V133.6" fill="none" stroke="#857a7a" stroke-width="0.8"/>
<text x="303.8" y="140.8" text-anchor="middle" font-size="7" transform="matrix(1 0 0 1.09 0 -12.67)">EV1</text>
<line x1="285" y1="143.2" x2="322" y2="143.2" stroke="#968e8e" stroke-width="1.1"/>
<text x="352.4" y="140.8" text-anchor="middle" font-size="7" transform="matrix(1 0 0 1.09 0 -12.67)">EV6</text>
<line x1="334" y1="143.2" x2="370.5" y2="143.2" stroke="#968e8e" stroke-width="1.1"/>
<rect x="155.3" y="144.4" width="11.6" height="11.18" fill="#5e8fbf"/>
<rect x="166.9" y="144.4" width="11.6" height="11.18" fill="#8eb0d0"/>
<rect x="178.5" y="144.4" width="11.6" height="11.18" fill="#4f85ba"/>
<rect x="190.1" y="144.4" width="11.6" height="11.18" fill="#9cbad7"/>
<rect x="155.3" y="155.58" width="11.6" height="11.18" fill="#b8cfe3"/>
<rect x="166.9" y="155.58" width="11.6" height="11.18" fill="#f7f9fc"/>
<rect x="178.5" y="155.58" width="11.6" height="11.18" fill="#d3e0ec"/>
<rect x="190.1" y="155.58" width="11.6" height="11.18" fill="#fbe3e4"/>
<rect x="155.3" y="166.75" width="11.6" height="11.18" fill="#b0c9df"/>
<rect x="166.9" y="166.75" width="11.6" height="11.18" fill="#b7cce1"/>
<rect x="178.5" y="166.75" width="11.6" height="11.18" fill="#edf2f6"/>
<rect x="190.1" y="166.75" width="11.6" height="11.18" fill="#fce6e7"/>
<rect x="155.3" y="177.93" width="11.6" height="11.18" fill="#bdd2e5"/>
<rect x="166.9" y="177.93" width="11.6" height="11.18" fill="#d5e2ee"/>
<rect x="178.5" y="177.93" width="11.6" height="11.18" fill="#fdf2f2"/>
<rect x="190.1" y="177.93" width="11.6" height="11.18" fill="#f8cdd0"/>
<rect x="155.3" y="189.1" width="11.6" height="11.18" fill="#e0e8f1"/>
<rect x="166.9" y="189.1" width="11.6" height="11.18" fill="#c3d6e7"/>
<rect x="178.5" y="189.1" width="11.6" height="11.18" fill="#f09496"/>
<rect x="190.1" y="189.1" width="11.6" height="11.18" fill="#ec6c70"/>
<rect x="155.3" y="200.28" width="11.6" height="11.18" fill="#8cafd0"/>
<rect x="166.9" y="200.28" width="11.6" height="11.18" fill="#a5c0da"/>
<rect x="178.5" y="200.28" width="11.6" height="11.18" fill="#f7b9bc"/>
<rect x="190.1" y="200.28" width="11.6" height="11.18" fill="#e9686b"/>
<rect x="155.3" y="211.45" width="11.6" height="11.18" fill="#dce6f0"/>
<rect x="166.9" y="211.45" width="11.6" height="11.18" fill="#f7f9fc"/>
<rect x="178.5" y="211.45" width="11.6" height="11.18" fill="#f19fa2"/>
<rect x="190.1" y="211.45" width="11.6" height="11.18" fill="#ee7b7e"/>
<rect x="155.3" y="222.62" width="11.6" height="11.18" fill="#eef3f8"/>
<rect x="166.9" y="222.62" width="11.6" height="11.18" fill="#f5b2b5"/>
<rect x="178.5" y="222.62" width="11.6" height="11.18" fill="#ea6568"/>
<rect x="190.1" y="222.62" width="11.6" height="11.18" fill="#e33b40"/>
<line x1="155.3" y1="144.4" x2="201.7" y2="144.4" stroke="#737373" stroke-width="0.65"/>
<line x1="155.3" y1="155.58" x2="201.7" y2="155.58" stroke="#737373" stroke-width="0.65"/>
<line x1="155.3" y1="166.75" x2="201.7" y2="166.75" stroke="#737373" stroke-width="0.65"/>
<line x1="155.3" y1="177.93" x2="201.7" y2="177.93" stroke="#737373" stroke-width="0.65"/>
<line x1="155.3" y1="189.1" x2="201.7" y2="189.1" stroke="#737373" stroke-width="0.65"/>
<line x1="155.3" y1="200.28" x2="201.7" y2="200.28" stroke="#737373" stroke-width="0.65"/>
<line x1="155.3" y1="211.45" x2="201.7" y2="211.45" stroke="#737373" stroke-width="0.65"/>
<line x1="155.3" y1="222.62" x2="201.7" y2="222.62" stroke="#737373" stroke-width="0.65"/>
<line x1="155.3" y1="233.8" x2="201.7" y2="233.8" stroke="#737373" stroke-width="0.65"/>
<line x1="155.3" y1="144.4" x2="155.3" y2="233.8" stroke="#737373" stroke-width="0.65"/>
<line x1="166.9" y1="144.4" x2="166.9" y2="233.8" stroke="#737373" stroke-width="0.65"/>
<line x1="178.5" y1="144.4" x2="178.5" y2="233.8" stroke="#737373" stroke-width="0.65"/>
<line x1="190.1" y1="144.4" x2="190.1" y2="233.8" stroke="#737373" stroke-width="0.65"/>
<line x1="201.7" y1="144.4" x2="201.7" y2="233.8" stroke="#737373" stroke-width="0.65"/>
<rect x="155.3" y="235.6" width="11.6" height="3.1" fill="#7dc26a" stroke="#5a5a5a" stroke-width="0.5"/>
<rect x="166.9" y="235.6" width="11.6" height="3.1" fill="#e57a6b" stroke="#5a5a5a" stroke-width="0.5"/>
<rect x="178.5" y="235.6" width="11.6" height="3.1" fill="#5c9ed6" stroke="#5a5a5a" stroke-width="0.5"/>
<rect x="190.1" y="235.6" width="11.6" height="3.1" fill="#9a7bbd" stroke="#5a5a5a" stroke-width="0.5"/>
<text x="154.2" y="152.74" text-anchor="end" font-size="7" transform="matrix(1 0 0 1.06 0 -9.16)">IFNα</text>
<text x="154.2" y="163.91" text-anchor="end" font-size="7" transform="matrix(1 0 0 1.06 0 -9.83)">IRF1</text>
<text x="154.2" y="175.09" text-anchor="end" font-size="7" transform="matrix(1 0 0 1.06 0 -10.51)">IRF9</text>
<text x="154.2" y="186.26" text-anchor="end" font-size="7" transform="matrix(1 0 0 1.06 0 -11.18)">STAT1</text>
<text x="154.2" y="197.44" text-anchor="end" font-size="7" transform="matrix(1 0 0 1.06 0 -11.85)">IFNβ</text>
<text x="154.2" y="208.61" text-anchor="end" font-size="7" transform="matrix(1 0 0 1.06 0 -12.52)">ISG15</text>
<text x="154.2" y="219.79" text-anchor="end" font-size="7" transform="matrix(1 0 0 1.06 0 -13.19)">MX1</text>
<text x="154.2" y="230.96" text-anchor="end" font-size="7" transform="matrix(1 0 0 1.06 0 -13.86)">IFIT1</text>
<rect x="203.5" y="144.4" width="11.72" height="11.18" fill="#24629c"/>
<rect x="215.22" y="144.4" width="11.72" height="11.18" fill="#6f9ac4"/>
<rect x="226.94" y="144.4" width="11.72" height="11.18" fill="#6b97c2"/>
<rect x="238.66" y="144.4" width="11.72" height="11.18" fill="#9dbbd8"/>
<rect x="203.5" y="155.58" width="11.72" height="11.18" fill="#bcd1e4"/>
<rect x="215.22" y="155.58" width="11.72" height="11.18" fill="#d8e4ef"/>
<rect x="226.94" y="155.58" width="11.72" height="11.18" fill="#b4cbe1"/>
<rect x="238.66" y="155.58" width="11.72" height="11.18" fill="#f9d2d4"/>
<rect x="203.5" y="166.75" width="11.72" height="11.18" fill="#a7c3dc"/>
<rect x="215.22" y="166.75" width="11.72" height="11.18" fill="#b8cde2"/>
<rect x="226.94" y="166.75" width="11.72" height="11.18" fill="#eef3f7"/>
<rect x="238.66" y="166.75" width="11.72" height="11.18" fill="#fbe2e3"/>
<rect x="203.5" y="177.93" width="11.72" height="11.18" fill="#b4cbe1"/>
<rect x="215.22" y="177.93" width="11.72" height="11.18" fill="#a8c3dd"/>
<rect x="226.94" y="177.93" width="11.72" height="11.18" fill="#fdf0f0"/>
<rect x="238.66" y="177.93" width="11.72" height="11.18" fill="#f9d2d4"/>
<rect x="203.5" y="189.1" width="11.72" height="11.18" fill="#a3bfda"/>
<rect x="215.22" y="189.1" width="11.72" height="11.18" fill="#eef3f7"/>
<rect x="226.94" y="189.1" width="11.72" height="11.18" fill="#f6c1c3"/>
<rect x="238.66" y="189.1" width="11.72" height="11.18" fill="#f09a9c"/>
<rect x="203.5" y="200.28" width="11.72" height="11.18" fill="#8aadcf"/>
<rect x="215.22" y="200.28" width="11.72" height="11.18" fill="#4f86bb"/>
<rect x="226.94" y="200.28" width="11.72" height="11.18" fill="#ef7e81"/>
<rect x="238.66" y="200.28" width="11.72" height="11.18" fill="#e9585c"/>
<rect x="203.5" y="211.45" width="11.72" height="11.18" fill="#95b4d3"/>
<rect x="215.22" y="211.45" width="11.72" height="11.18" fill="#fcf6f6"/>
<rect x="226.94" y="211.45" width="11.72" height="11.18" fill="#f3a9ab"/>
<rect x="238.66" y="211.45" width="11.72" height="11.18" fill="#ee8083"/>
<rect x="203.5" y="222.62" width="11.72" height="11.18" fill="#c7d8e8"/>
<rect x="215.22" y="222.62" width="11.72" height="11.18" fill="#f4aaad"/>
<rect x="226.94" y="222.62" width="11.72" height="11.18" fill="#ed7175"/>
<rect x="238.66" y="222.62" width="11.72" height="11.18" fill="#e33a3f"/>
<line x1="203.5" y1="144.4" x2="250.38" y2="144.4" stroke="#737373" stroke-width="0.65"/>
<line x1="203.5" y1="155.58" x2="250.38" y2="155.58" stroke="#737373" stroke-width="0.65"/>
<line x1="203.5" y1="166.75" x2="250.38" y2="166.75" stroke="#737373" stroke-width="0.65"/>
<line x1="203.5" y1="177.93" x2="250.38" y2="177.93" stroke="#737373" stroke-width="0.65"/>
<line x1="203.5" y1="189.1" x2="250.38" y2="189.1" stroke="#737373" stroke-width="0.65"/>
<line x1="203.5" y1="200.28" x2="250.38" y2="200.28" stroke="#737373" stroke-width="0.65"/>
<line x1="203.5" y1="211.45" x2="250.38" y2="211.45" stroke="#737373" stroke-width="0.65"/>
<line x1="203.5" y1="222.62" x2="250.38" y2="222.62" stroke="#737373" stroke-width="0.65"/>
<line x1="203.5" y1="233.8" x2="250.38" y2="233.8" stroke="#737373" stroke-width="0.65"/>
<line x1="203.5" y1="144.4" x2="203.5" y2="233.8" stroke="#737373" stroke-width="0.65"/>
<line x1="215.22" y1="144.4" x2="215.22" y2="233.8" stroke="#737373" stroke-width="0.65"/>
<line x1="226.94" y1="144.4" x2="226.94" y2="233.8" stroke="#737373" stroke-width="0.65"/>
<line x1="238.66" y1="144.4" x2="238.66" y2="233.8" stroke="#737373" stroke-width="0.65"/>
<line x1="250.38" y1="144.4" x2="250.38" y2="233.8" stroke="#737373" stroke-width="0.65"/>
<rect x="203.5" y="235.6" width="11.72" height="3.1" fill="#7dc26a" stroke="#5a5a5a" stroke-width="0.5"/>
<rect x="215.22" y="235.6" width="11.72" height="3.1" fill="#e57a6b" stroke="#5a5a5a" stroke-width="0.5"/>
<rect x="226.94" y="235.6" width="11.72" height="3.1" fill="#5c9ed6" stroke="#5a5a5a" stroke-width="0.5"/>
<rect x="238.66" y="235.6" width="11.72" height="3.1" fill="#9a7bbd" stroke="#5a5a5a" stroke-width="0.5"/>
<rect x="280.3" y="144.4" width="11.72" height="11.18" fill="#b0c8de"/>
<rect x="292.02" y="144.4" width="11.72" height="11.18" fill="#cddced"/>
<rect x="303.74" y="144.4" width="11.72" height="11.18" fill="#c6d8e8"/>
<rect x="315.46" y="144.4" width="11.72" height="11.18" fill="#e4ecf4"/>
<rect x="280.3" y="155.58" width="11.72" height="11.18" fill="#cbdbea"/>
<rect x="292.02" y="155.58" width="11.72" height="11.18" fill="#fbe4e6"/>
<rect x="303.74" y="155.58" width="11.72" height="11.18" fill="#a9c3dc"/>
<rect x="315.46" y="155.58" width="11.72" height="11.18" fill="#fdf9f9"/>
<rect x="280.3" y="166.75" width="11.72" height="11.18" fill="#c3d5e6"/>
<rect x="292.02" y="166.75" width="11.72" height="11.18" fill="#dfe7f1"/>
<rect x="303.74" y="166.75" width="11.72" height="11.18" fill="#edf2f6"/>
<rect x="315.46" y="166.75" width="11.72" height="11.18" fill="#f8d3d5"/>
<rect x="280.3" y="177.93" width="11.72" height="11.18" fill="#c6d8e8"/>
<rect x="292.02" y="177.93" width="11.72" height="11.18" fill="#fdfdfd"/>
<rect x="303.74" y="177.93" width="11.72" height="11.18" fill="#dde6f0"/>
<rect x="315.46" y="177.93" width="11.72" height="11.18" fill="#f8d3d5"/>
<rect x="280.3" y="189.1" width="11.72" height="11.18" fill="#d9e4ef"/>
<rect x="292.02" y="189.1" width="11.72" height="11.18" fill="#d5e1ee"/>
<rect x="303.74" y="189.1" width="11.72" height="11.18" fill="#c6d7e8"/>
<rect x="315.46" y="189.1" width="11.72" height="11.18" fill="#e1e9f2"/>
<rect x="280.3" y="200.28" width="11.72" height="11.18" fill="#d3e0ed"/>
<rect x="292.02" y="200.28" width="11.72" height="11.18" fill="#d1deec"/>
<rect x="303.74" y="200.28" width="11.72" height="11.18" fill="#bfd3e6"/>
<rect x="315.46" y="200.28" width="11.72" height="11.18" fill="#d9e4ef"/>
<rect x="280.3" y="211.45" width="11.72" height="11.18" fill="#cddced"/>
<rect x="292.02" y="211.45" width="11.72" height="11.18" fill="#d3e0ed"/>
<rect x="303.74" y="211.45" width="11.72" height="11.18" fill="#e8eef5"/>
<rect x="315.46" y="211.45" width="11.72" height="11.18" fill="#9ebcd8"/>
<rect x="280.3" y="222.62" width="11.72" height="11.18" fill="#e1e9f2"/>
<rect x="292.02" y="222.62" width="11.72" height="11.18" fill="#e8eef5"/>
<rect x="303.74" y="222.62" width="11.72" height="11.18" fill="#d3e0ed"/>
<rect x="315.46" y="222.62" width="11.72" height="11.18" fill="#e6edf4"/>
<line x1="280.3" y1="144.4" x2="327.18" y2="144.4" stroke="#737373" stroke-width="0.65"/>
<line x1="280.3" y1="155.58" x2="327.18" y2="155.58" stroke="#737373" stroke-width="0.65"/>
<line x1="280.3" y1="166.75" x2="327.18" y2="166.75" stroke="#737373" stroke-width="0.65"/>
<line x1="280.3" y1="177.93" x2="327.18" y2="177.93" stroke="#737373" stroke-width="0.65"/>
<line x1="280.3" y1="189.1" x2="327.18" y2="189.1" stroke="#737373" stroke-width="0.65"/>
<line x1="280.3" y1="200.28" x2="327.18" y2="200.28" stroke="#737373" stroke-width="0.65"/>
<line x1="280.3" y1="211.45" x2="327.18" y2="211.45" stroke="#737373" stroke-width="0.65"/>
<line x1="280.3" y1="222.62" x2="327.18" y2="222.62" stroke="#737373" stroke-width="0.65"/>
<line x1="280.3" y1="233.8" x2="327.18" y2="233.8" stroke="#737373" stroke-width="0.65"/>
<line x1="280.3" y1="144.4" x2="280.3" y2="233.8" stroke="#737373" stroke-width="0.65"/>
<line x1="292.02" y1="144.4" x2="292.02" y2="233.8" stroke="#737373" stroke-width="0.65"/>
<line x1="303.74" y1="144.4" x2="303.74" y2="233.8" stroke="#737373" stroke-width="0.65"/>
<line x1="315.46" y1="144.4" x2="315.46" y2="233.8" stroke="#737373" stroke-width="0.65"/>
<line x1="327.18" y1="144.4" x2="327.18" y2="233.8" stroke="#737373" stroke-width="0.65"/>
<rect x="280.3" y="235.6" width="11.72" height="3.1" fill="#7dc26a" stroke="#5a5a5a" stroke-width="0.5"/>
<rect x="292.02" y="235.6" width="11.72" height="3.1" fill="#e57a6b" stroke="#5a5a5a" stroke-width="0.5"/>
<rect x="303.74" y="235.6" width="11.72" height="3.1" fill="#5c9ed6" stroke="#5a5a5a" stroke-width="0.5"/>
<rect x="315.46" y="235.6" width="11.72" height="3.1" fill="#9a7bbd" stroke="#5a5a5a" stroke-width="0.5"/>
<text x="278.3" y="152.74" text-anchor="end" font-size="7" transform="matrix(1 0 0 1.06 0 -9.16)">IL1β</text>
<text x="278.3" y="163.91" text-anchor="end" font-size="7" transform="matrix(1 0 0 1.06 0 -9.83)">IL6</text>
<text x="278.3" y="175.09" text-anchor="end" font-size="7" transform="matrix(1 0 0 1.06 0 -10.51)">IL8</text>
<text x="278.3" y="186.26" text-anchor="end" font-size="7" transform="matrix(1 0 0 1.06 0 -11.18)">TNFα</text>
<text x="278.3" y="197.44" text-anchor="end" font-size="7" transform="matrix(1 0 0 1.06 0 -11.85)">IL10</text>
<text x="278.3" y="208.61" text-anchor="end" font-size="7" transform="matrix(1 0 0 1.06 0 -12.52)">IL18</text>
<text x="278.3" y="219.79" text-anchor="end" font-size="7" transform="matrix(1 0 0 1.06 0 -13.19)">IL33</text>
<text x="278.3" y="230.96" text-anchor="end" font-size="7" transform="matrix(1 0 0 1.06 0 -13.86)">TGFβ</text>
<rect x="329.2" y="144.4" width="11.6" height="11.18" fill="#dbe5ef"/>
<rect x="340.8" y="144.4" width="11.6" height="11.18" fill="#e1e9f2"/>
<rect x="352.4" y="144.4" width="11.6" height="11.18" fill="#d9e4ef"/>
<rect x="364" y="144.4" width="11.6" height="11.18" fill="#eef3f7"/>
<rect x="329.2" y="155.58" width="11.6" height="11.18" fill="#dde6f0"/>
<rect x="340.8" y="155.58" width="11.6" height="11.18" fill="#f09fa2"/>
<rect x="352.4" y="155.58" width="11.6" height="11.18" fill="#d3e0ed"/>
<rect x="364" y="155.58" width="11.6" height="11.18" fill="#7da3c9"/>
<rect x="329.2" y="166.75" width="11.6" height="11.18" fill="#e6edf4"/>
<rect x="340.8" y="166.75" width="11.6" height="11.18" fill="#d3e0ed"/>
<rect x="352.4" y="166.75" width="11.6" height="11.18" fill="#d3e0ed"/>
<rect x="364" y="166.75" width="11.6" height="11.18" fill="#fcf1f2"/>
<rect x="329.2" y="177.93" width="11.6" height="11.18" fill="#c3d5e6"/>
<rect x="340.8" y="177.93" width="11.6" height="11.18" fill="#d9e4ef"/>
<rect x="352.4" y="177.93" width="11.6" height="11.18" fill="#d9e4ef"/>
<rect x="364" y="177.93" width="11.6" height="11.18" fill="#fae0e2"/>
<rect x="329.2" y="189.1" width="11.6" height="11.18" fill="#f0f4f8"/>
<rect x="340.8" y="189.1" width="11.6" height="11.18" fill="#e6edf4"/>
<rect x="352.4" y="189.1" width="11.6" height="11.18" fill="#dde6f0"/>
<rect x="364" y="189.1" width="11.6" height="11.18" fill="#fdf9f9"/>
<rect x="329.2" y="200.28" width="11.6" height="11.18" fill="#e8eef5"/>
<rect x="340.8" y="200.28" width="11.6" height="11.18" fill="#d1deec"/>
<rect x="352.4" y="200.28" width="11.6" height="11.18" fill="#c8d9e9"/>
<rect x="364" y="200.28" width="11.6" height="11.18" fill="#e1e9f2"/>
<rect x="329.2" y="211.45" width="11.6" height="11.18" fill="#e6edf4"/>
<rect x="340.8" y="211.45" width="11.6" height="11.18" fill="#c8d9e9"/>
<rect x="352.4" y="211.45" width="11.6" height="11.18" fill="#d9e4ef"/>
<rect x="364" y="211.45" width="11.6" height="11.18" fill="#e1e9f2"/>
<rect x="329.2" y="222.62" width="11.6" height="11.18" fill="#b4cbe1"/>
<rect x="340.8" y="222.62" width="11.6" height="11.18" fill="#dde6f0"/>
<rect x="352.4" y="222.62" width="11.6" height="11.18" fill="#e1e9f2"/>
<rect x="364" y="222.62" width="11.6" height="11.18" fill="#eef3f7"/>
<line x1="329.2" y1="144.4" x2="375.6" y2="144.4" stroke="#737373" stroke-width="0.65"/>
<line x1="329.2" y1="155.58" x2="375.6" y2="155.58" stroke="#737373" stroke-width="0.65"/>
<line x1="329.2" y1="166.75" x2="375.6" y2="166.75" stroke="#737373" stroke-width="0.65"/>
<line x1="329.2" y1="177.93" x2="375.6" y2="177.93" stroke="#737373" stroke-width="0.65"/>
<line x1="329.2" y1="189.1" x2="375.6" y2="189.1" stroke="#737373" stroke-width="0.65"/>
<line x1="329.2" y1="200.28" x2="375.6" y2="200.28" stroke="#737373" stroke-width="0.65"/>
<line x1="329.2" y1="211.45" x2="375.6" y2="211.45" stroke="#737373" stroke-width="0.65"/>
<line x1="329.2" y1="222.62" x2="375.6" y2="222.62" stroke="#737373" stroke-width="0.65"/>
<line x1="329.2" y1="233.8" x2="375.6" y2="233.8" stroke="#737373" stroke-width="0.65"/>
<line x1="329.2" y1="144.4" x2="329.2" y2="233.8" stroke="#737373" stroke-width="0.65"/>
<line x1="340.8" y1="144.4" x2="340.8" y2="233.8" stroke="#737373" stroke-width="0.65"/>
<line x1="352.4" y1="144.4" x2="352.4" y2="233.8" stroke="#737373" stroke-width="0.65"/>
<line x1="364" y1="144.4" x2="364" y2="233.8" stroke="#737373" stroke-width="0.65"/>
<line x1="375.6" y1="144.4" x2="375.6" y2="233.8" stroke="#737373" stroke-width="0.65"/>
<rect x="329.2" y="235.6" width="11.6" height="3.1" fill="#7dc26a" stroke="#5a5a5a" stroke-width="0.5"/>
<rect x="340.8" y="235.6" width="11.6" height="3.1" fill="#e57a6b" stroke="#5a5a5a" stroke-width="0.5"/>
<rect x="352.4" y="235.6" width="11.6" height="3.1" fill="#5c9ed6" stroke="#5a5a5a" stroke-width="0.5"/>
<rect x="364" y="235.6" width="11.6" height="3.1" fill="#9a7bbd" stroke="#5a5a5a" stroke-width="0.5"/>
<rect x="379.2" y="145.7" width="4.2" height="4.2" fill="#7dc26a" stroke="#555" stroke-width="0.35"/>
<text x="384.8" y="150.3" transform="matrix(1 0 0 1.09 0 -13.53)">1h</text>
<rect x="379.2" y="155.8" width="4.2" height="4.2" fill="#e57a6b" stroke="#555" stroke-width="0.35"/>
<text x="384.8" y="160.4" transform="matrix(1 0 0 1.09 0 -14.44)">12h</text>
<rect x="379.2" y="165.5" width="4.2" height="4.2" fill="#5c9ed6" stroke="#555" stroke-width="0.35"/>
<text x="384.8" y="170.1" transform="matrix(1 0 0 1.09 0 -15.31)">24h</text>
<rect x="379.2" y="175.1" width="4.2" height="4.2" fill="#9a7bbd" stroke="#555" stroke-width="0.35"/>
<text x="384.8" y="179.7" transform="matrix(1 0 0 1.09 0 -16.17)">36h</text>
<defs><linearGradient id="cs767" x1="0" y1="0" x2="0" y2="1"><stop offset="0" stop-color="#e0383e"/><stop offset="0.45" stop-color="#f4b8ba"/><stop offset="0.78" stop-color="#f8f8f8"/><stop offset="0.88" stop-color="#a9c6df"/><stop offset="1" stop-color="#2b69a5"/></linearGradient></defs>
<rect x="379.3" y="203.7" width="6.3" height="28.8" fill="url(#cs767)"/>
<text x="378.5" y="200.6" font-size="6.2" transform="matrix(1 0 0 1.09 0 -18.05)">Log<tspan font-size="4.2" dy="1">2</tspan></text>
<line x1="385" y1="212.2" x2="386.4" y2="212.2" stroke="#fff" stroke-width="0.5"/>
<text x="387" y="214.4" font-size="6.2" transform="matrix(1 0 0 1.09 0 -19.3)">4</text>
<line x1="385" y1="228.2" x2="386.4" y2="228.2" stroke="#fff" stroke-width="0.5"/>
<text x="387" y="230.4" font-size="6.2" transform="matrix(1 0 0 1.09 0 -20.74)">0</text>
<text x="148" y="252.2" font-weight="bold" fill="#1a1414" stroke="#1a1414" font-size="7.9">k</text>
<text x="205.3" y="254.6" text-anchor="middle" font-size="7" transform="matrix(1 0 0 1.09 0 -22.91)">RV-Antiviral</text>
<rect x="177.2" y="258.3" width="13.15" height="11.9" fill="#d3e0ed"/>
<rect x="190.35" y="258.3" width="13.15" height="11.9" fill="#c6d7e8"/>
<rect x="203.5" y="258.3" width="13.15" height="11.9" fill="#bdd2e5"/>
<rect x="216.65" y="258.3" width="13.15" height="11.9" fill="#85a9cd"/>
<rect x="177.2" y="270.2" width="13.15" height="11.9" fill="#cddced"/>
<rect x="190.35" y="270.2" width="13.15" height="11.9" fill="#d3e0ed"/>
<rect x="203.5" y="270.2" width="13.15" height="11.9" fill="#dbe5ef"/>
<rect x="216.65" y="270.2" width="13.15" height="11.9" fill="#d3e0ed"/>
<rect x="177.2" y="282.1" width="13.15" height="11.9" fill="#c3d5e6"/>
<rect x="190.35" y="282.1" width="13.15" height="11.9" fill="#fdf3f3"/>
<rect x="203.5" y="282.1" width="13.15" height="11.9" fill="#fdf8f8"/>
<rect x="216.65" y="282.1" width="13.15" height="11.9" fill="#ffffff"/>
<rect x="177.2" y="294" width="13.15" height="11.9" fill="#cddced"/>
<rect x="190.35" y="294" width="13.15" height="11.9" fill="#fbe9ea"/>
<rect x="203.5" y="294" width="13.15" height="11.9" fill="#fadcdd"/>
<rect x="216.65" y="294" width="13.15" height="11.9" fill="#f8cfd1"/>
<rect x="177.2" y="305.9" width="13.15" height="11.9" fill="#fcecec"/>
<rect x="190.35" y="305.9" width="13.15" height="11.9" fill="#ef9496"/>
<rect x="203.5" y="305.9" width="13.15" height="11.9" fill="#f29fa2"/>
<rect x="216.65" y="305.9" width="13.15" height="11.9" fill="#f6bdbf"/>
<rect x="177.2" y="317.8" width="13.15" height="11.9" fill="#c8d9e9"/>
<rect x="190.35" y="317.8" width="13.15" height="11.9" fill="#ec7c80"/>
<rect x="203.5" y="317.8" width="13.15" height="11.9" fill="#ee8588"/>
<rect x="216.65" y="317.8" width="13.15" height="11.9" fill="#f19c9f"/>
<rect x="177.2" y="329.7" width="13.15" height="11.9" fill="#c6d7e8"/>
<rect x="190.35" y="329.7" width="13.15" height="11.9" fill="#e65a5e"/>
<rect x="203.5" y="329.7" width="13.15" height="11.9" fill="#e85e62"/>
<rect x="216.65" y="329.7" width="13.15" height="11.9" fill="#ec7679"/>
<rect x="177.2" y="341.6" width="13.15" height="11.9" fill="#b8cee3"/>
<rect x="190.35" y="341.6" width="13.15" height="11.9" fill="#d3e0ed"/>
<rect x="203.5" y="341.6" width="13.15" height="11.9" fill="#edf2f7"/>
<rect x="216.65" y="341.6" width="13.15" height="11.9" fill="#f8cdd0"/>
<line x1="177.2" y1="258.3" x2="229.8" y2="258.3" stroke="#737373" stroke-width="0.65"/>
<line x1="177.2" y1="270.2" x2="229.8" y2="270.2" stroke="#737373" stroke-width="0.65"/>
<line x1="177.2" y1="282.1" x2="229.8" y2="282.1" stroke="#737373" stroke-width="0.65"/>
<line x1="177.2" y1="294" x2="229.8" y2="294" stroke="#737373" stroke-width="0.65"/>
<line x1="177.2" y1="305.9" x2="229.8" y2="305.9" stroke="#737373" stroke-width="0.65"/>
<line x1="177.2" y1="317.8" x2="229.8" y2="317.8" stroke="#737373" stroke-width="0.65"/>
<line x1="177.2" y1="329.7" x2="229.8" y2="329.7" stroke="#737373" stroke-width="0.65"/>
<line x1="177.2" y1="341.6" x2="229.8" y2="341.6" stroke="#737373" stroke-width="0.65"/>
<line x1="177.2" y1="353.5" x2="229.8" y2="353.5" stroke="#737373" stroke-width="0.65"/>
<line x1="177.2" y1="258.3" x2="177.2" y2="353.5" stroke="#737373" stroke-width="0.65"/>
<line x1="190.35" y1="258.3" x2="190.35" y2="353.5" stroke="#737373" stroke-width="0.65"/>
<line x1="203.5" y1="258.3" x2="203.5" y2="353.5" stroke="#737373" stroke-width="0.65"/>
<line x1="216.65" y1="258.3" x2="216.65" y2="353.5" stroke="#737373" stroke-width="0.65"/>
<line x1="229.8" y1="258.3" x2="229.8" y2="353.5" stroke="#737373" stroke-width="0.65"/>
<rect x="177.2" y="355.3" width="13.15" height="3.1" fill="#7dc26a" stroke="#5a5a5a" stroke-width="0.5"/>
<rect x="190.35" y="355.3" width="13.15" height="3.1" fill="#e57a6b" stroke="#5a5a5a" stroke-width="0.5"/>
<rect x="203.5" y="355.3" width="13.15" height="3.1" fill="#5c9ed6" stroke="#5a5a5a" stroke-width="0.5"/>
<rect x="216.65" y="355.3" width="13.15" height="3.1" fill="#9a7bbd" stroke="#5a5a5a" stroke-width="0.5"/>
<text x="176.3" y="267" text-anchor="end" font-size="7" transform="matrix(1 0 0 1.06 0 -16.02)">IFNα</text>
<text x="176.3" y="278.9" text-anchor="end" font-size="7" transform="matrix(1 0 0 1.06 0 -16.73)">IRF1</text>
<text x="176.3" y="290.8" text-anchor="end" font-size="7" transform="matrix(1 0 0 1.06 0 -17.45)">IRF9</text>
<text x="176.3" y="302.7" text-anchor="end" font-size="7" transform="matrix(1 0 0 1.06 0 -18.16)">STAT1</text>
<text x="176.3" y="314.6" text-anchor="end" font-size="7" transform="matrix(1 0 0 1.06 0 -18.88)">ISG15</text>
<text x="176.3" y="326.5" text-anchor="end" font-size="7" transform="matrix(1 0 0 1.06 0 -19.59)">MX1</text>
<text x="176.3" y="338.4" text-anchor="end" font-size="7" transform="matrix(1 0 0 1.06 0 -20.3)">IFIT1</text>
<text x="176.3" y="350.3" text-anchor="end" font-size="7" transform="matrix(1 0 0 1.06 0 -21.02)">IFNβ</text>
<rect x="232.2" y="260.6" width="4.2" height="4.2" fill="#7dc26a" stroke="#555" stroke-width="0.35"/>
<text x="237.8" y="265.2" transform="matrix(1 0 0 1.09 0 -23.87)">1h</text>
<rect x="232.2" y="270.1" width="4.2" height="4.2" fill="#e57a6b" stroke="#555" stroke-width="0.35"/>
<text x="237.8" y="274.7" transform="matrix(1 0 0 1.09 0 -24.72)">12h</text>
<rect x="232.2" y="279.6" width="4.2" height="4.2" fill="#5c9ed6" stroke="#555" stroke-width="0.35"/>
<text x="237.8" y="284.2" transform="matrix(1 0 0 1.09 0 -25.58)">24h</text>
<rect x="232.2" y="289.4" width="4.2" height="4.2" fill="#9a7bbd" stroke="#555" stroke-width="0.35"/>
<text x="237.8" y="294" transform="matrix(1 0 0 1.09 0 -26.46)">36h</text>
<defs><linearGradient id="cs842" x1="0" y1="0" x2="0" y2="1"><stop offset="0" stop-color="#e0383e"/><stop offset="0.45" stop-color="#f4b8ba"/><stop offset="0.78" stop-color="#f8f8f8"/><stop offset="0.88" stop-color="#a9c6df"/><stop offset="1" stop-color="#2b69a5"/></linearGradient></defs>
<rect x="232.2" y="324.5" width="6.3" height="28.8" fill="url(#cs842)"/>
<text x="231.4" y="321.4" font-size="6.2" transform="matrix(1 0 0 1.09 0 -28.93)">Log<tspan font-size="4.2" dy="1">2</tspan></text>
<line x1="237.9" y1="334" x2="239.3" y2="334" stroke="#fff" stroke-width="0.5"/>
<text x="239.9" y="336.2" font-size="6.2" transform="matrix(1 0 0 1.09 0 -30.26)">4</text>
<line x1="237.9" y1="349.2" x2="239.3" y2="349.2" stroke="#fff" stroke-width="0.5"/>
<text x="239.9" y="351.4" font-size="6.2" transform="matrix(1 0 0 1.09 0 -31.63)">0</text>
<text x="147.6" y="374" font-weight="bold" fill="#1a1414" stroke="#1a1414" font-size="7.9">p</text>
<text x="202.2" y="377.6" text-anchor="middle" font-size="7" transform="matrix(1 0 0 1.09 0 -33.98)">OC43-Antiviral</text>
<rect x="177.4" y="380.6" width="12.65" height="11.91" fill="#5c8dbd"/>
<rect x="190.05" y="380.6" width="12.65" height="11.91" fill="#fbeaeb"/>
<rect x="202.7" y="380.6" width="12.65" height="11.91" fill="#fdf8f8"/>
<rect x="215.35" y="380.6" width="12.65" height="11.91" fill="#c1d4e6"/>
<rect x="177.4" y="392.51" width="12.65" height="11.91" fill="#9fbbd8"/>
<rect x="190.05" y="392.51" width="12.65" height="11.91" fill="#a9c4dc"/>
<rect x="202.7" y="392.51" width="12.65" height="11.91" fill="#b2cae0"/>
<rect x="215.35" y="392.51" width="12.65" height="11.91" fill="#e1e9f2"/>
<rect x="177.4" y="404.43" width="12.65" height="11.91" fill="#dbe5ef"/>
<rect x="190.05" y="404.43" width="12.65" height="11.91" fill="#eff3f8"/>
<rect x="202.7" y="404.43" width="12.65" height="11.91" fill="#d8e3ee"/>
<rect x="215.35" y="404.43" width="12.65" height="11.91" fill="#dbe5ef"/>
<rect x="177.4" y="416.34" width="12.65" height="11.91" fill="#a9c4dc"/>
<rect x="190.05" y="416.34" width="12.65" height="11.91" fill="#fdfbfb"/>
<rect x="202.7" y="416.34" width="12.65" height="11.91" fill="#c9d9e9"/>
<rect x="215.35" y="416.34" width="12.65" height="11.91" fill="#ffffff"/>
<rect x="177.4" y="428.25" width="12.65" height="11.91" fill="#6d99c4"/>
<rect x="190.05" y="428.25" width="12.65" height="11.91" fill="#d1dfec"/>
<rect x="202.7" y="428.25" width="12.65" height="11.91" fill="#ffffff"/>
<rect x="215.35" y="428.25" width="12.65" height="11.91" fill="#eb7c80"/>
<rect x="177.4" y="440.16" width="12.65" height="11.91" fill="#f9d5d7"/>
<rect x="190.05" y="440.16" width="12.65" height="11.91" fill="#8db0d1"/>
<rect x="202.7" y="440.16" width="12.65" height="11.91" fill="#b7cde2"/>
<rect x="215.35" y="440.16" width="12.65" height="11.91" fill="#f8d0d2"/>
<rect x="177.4" y="452.07" width="12.65" height="11.91" fill="#9ab8d6"/>
<rect x="190.05" y="452.07" width="12.65" height="11.91" fill="#7ba2c9"/>
<rect x="202.7" y="452.07" width="12.65" height="11.91" fill="#f6f8fb"/>
<rect x="215.35" y="452.07" width="12.65" height="11.91" fill="#f9dadc"/>
<rect x="177.4" y="463.99" width="12.65" height="11.91" fill="#28679f"/>
<rect x="190.05" y="463.99" width="12.65" height="11.91" fill="#88acd0"/>
<rect x="202.7" y="463.99" width="12.65" height="11.91" fill="#fbe7e8"/>
<rect x="215.35" y="463.99" width="12.65" height="11.91" fill="#f8d4d6"/>
<line x1="177.4" y1="380.6" x2="228" y2="380.6" stroke="#737373" stroke-width="0.65"/>
<line x1="177.4" y1="392.51" x2="228" y2="392.51" stroke="#737373" stroke-width="0.65"/>
<line x1="177.4" y1="404.43" x2="228" y2="404.43" stroke="#737373" stroke-width="0.65"/>
<line x1="177.4" y1="416.34" x2="228" y2="416.34" stroke="#737373" stroke-width="0.65"/>
<line x1="177.4" y1="428.25" x2="228" y2="428.25" stroke="#737373" stroke-width="0.65"/>
<line x1="177.4" y1="440.16" x2="228" y2="440.16" stroke="#737373" stroke-width="0.65"/>
<line x1="177.4" y1="452.07" x2="228" y2="452.07" stroke="#737373" stroke-width="0.65"/>
<line x1="177.4" y1="463.99" x2="228" y2="463.99" stroke="#737373" stroke-width="0.65"/>
<line x1="177.4" y1="475.9" x2="228" y2="475.9" stroke="#737373" stroke-width="0.65"/>
<line x1="177.4" y1="380.6" x2="177.4" y2="475.9" stroke="#737373" stroke-width="0.65"/>
<line x1="190.05" y1="380.6" x2="190.05" y2="475.9" stroke="#737373" stroke-width="0.65"/>
<line x1="202.7" y1="380.6" x2="202.7" y2="475.9" stroke="#737373" stroke-width="0.65"/>
<line x1="215.35" y1="380.6" x2="215.35" y2="475.9" stroke="#737373" stroke-width="0.65"/>
<line x1="228" y1="380.6" x2="228" y2="475.9" stroke="#737373" stroke-width="0.65"/>
<rect x="177.4" y="477.7" width="12.65" height="3.1" fill="#7dc26a" stroke="#5a5a5a" stroke-width="0.5"/>
<rect x="190.05" y="477.7" width="12.65" height="3.1" fill="#e57a6b" stroke="#5a5a5a" stroke-width="0.5"/>
<rect x="202.7" y="477.7" width="12.65" height="3.1" fill="#5c9ed6" stroke="#5a5a5a" stroke-width="0.5"/>
<rect x="215.35" y="477.7" width="12.65" height="3.1" fill="#9a7bbd" stroke="#5a5a5a" stroke-width="0.5"/>
<text x="175" y="389.31" text-anchor="end" font-size="7" transform="matrix(1 0 0 1.06 0 -23.36)">IFNα</text>
<text x="175" y="401.22" text-anchor="end" font-size="7" transform="matrix(1 0 0 1.06 0 -24.07)">IRF1</text>
<text x="175" y="413.13" text-anchor="end" font-size="7" transform="matrix(1 0 0 1.06 0 -24.79)">IRF9</text>
<text x="175" y="425.04" text-anchor="end" font-size="7" transform="matrix(1 0 0 1.06 0 -25.5)">STAT1</text>
<text x="175" y="436.96" text-anchor="end" font-size="7" transform="matrix(1 0 0 1.06 0 -26.22)">IFNβ</text>
<text x="175" y="448.87" text-anchor="end" font-size="7" transform="matrix(1 0 0 1.06 0 -26.93)">ISG15</text>
<text x="175" y="460.78" text-anchor="end" font-size="7" transform="matrix(1 0 0 1.06 0 -27.65)">MX1</text>
<text x="175" y="472.69" text-anchor="end" font-size="7" transform="matrix(1 0 0 1.06 0 -28.36)">IFIT1</text>
<rect x="231.4" y="382.4" width="4.2" height="4.2" fill="#7dc26a" stroke="#555" stroke-width="0.35"/>
<text x="237" y="387" transform="matrix(1 0 0 1.09 0 -34.83)">1h</text>
<rect x="231.4" y="391.9" width="4.2" height="4.2" fill="#e57a6b" stroke="#555" stroke-width="0.35"/>
<text x="237" y="396.5" transform="matrix(1 0 0 1.09 0 -35.69)">12h</text>
<rect x="231.4" y="401.7" width="4.2" height="4.2" fill="#5c9ed6" stroke="#555" stroke-width="0.35"/>
<text x="237" y="406.3" transform="matrix(1 0 0 1.09 0 -36.57)">24h</text>
<rect x="231.4" y="411.5" width="4.2" height="4.2" fill="#9a7bbd" stroke="#555" stroke-width="0.35"/>
<text x="237" y="416.1" transform="matrix(1 0 0 1.09 0 -37.45)">36h</text>
<defs><linearGradient id="cs917" x1="0" y1="0" x2="0" y2="1"><stop offset="0" stop-color="#e0383e"/><stop offset="0.45" stop-color="#f4b8ba"/><stop offset="0.78" stop-color="#f8f8f8"/><stop offset="0.88" stop-color="#a9c6df"/><stop offset="1" stop-color="#2b69a5"/></linearGradient></defs>
<rect x="232.2" y="447" width="6" height="28.9" fill="url(#cs917)"/>
<text x="231.4" y="443.8" font-size="6.2" transform="matrix(1 0 0 1.09 0 -39.94)">Log<tspan font-size="4.2" dy="1">2</tspan></text>
<line x1="237.6" y1="456" x2="239" y2="456" stroke="#fff" stroke-width="0.5"/>
<text x="239.6" y="458.2" font-size="6.2" transform="matrix(1 0 0 1.09 0 -41.24)">4</text>
<line x1="237.6" y1="471.3" x2="239" y2="471.3" stroke="#fff" stroke-width="0.5"/>
<text x="239.6" y="473.5" font-size="6.2" transform="matrix(1 0 0 1.09 0 -42.62)">0</text>
<text x="539.4" y="374" font-weight="bold" fill="#1a1414" stroke="#1a1414" font-size="7.9">s</text>
<text x="606.9" y="373.3" text-anchor="middle" font-size="7" transform="matrix(1 0 0 1.09 0 -33.6)">OC43</text>
<path d="M579.8 377.6V374.6H634.7V377.6" fill="none" stroke="#857a7a" stroke-width="0.8"/>
<text x="579.8" y="384" text-anchor="middle" font-size="7" transform="matrix(1 0 0 1.09 0 -34.56)">Inflammatory</text>
<line x1="567.5" y1="385.4" x2="591.4" y2="385.4" stroke="#968e8e" stroke-width="1.1"/>
<text x="634.2" y="384" text-anchor="middle" font-size="7" transform="matrix(1 0 0 1.09 0 -34.56)">Antiviral</text>
<line x1="621" y1="385.4" x2="647" y2="385.4" stroke="#968e8e" stroke-width="1.1"/>
<rect x="566.4" y="387" width="13.55" height="13.21" fill="#e85a5e"/>
<rect x="579.95" y="387" width="13.55" height="13.21" fill="#e85d61"/>
<rect x="566.4" y="400.21" width="13.55" height="13.21" fill="#f2a5a8"/>
<rect x="579.95" y="400.21" width="13.55" height="13.21" fill="#f0a0a3"/>
<rect x="566.4" y="413.43" width="13.55" height="13.21" fill="#fadadc"/>
<rect x="579.95" y="413.43" width="13.55" height="13.21" fill="#f8cdcf"/>
<rect x="566.4" y="426.64" width="13.55" height="13.21" fill="#fadadc"/>
<rect x="579.95" y="426.64" width="13.55" height="13.21" fill="#f8cfd1"/>
<rect x="566.4" y="439.86" width="13.55" height="13.21" fill="#fdf6f6"/>
<rect x="579.95" y="439.86" width="13.55" height="13.21" fill="#fadfe0"/>
<rect x="566.4" y="453.07" width="13.55" height="13.21" fill="#a9c4dc"/>
<rect x="579.95" y="453.07" width="13.55" height="13.21" fill="#edf1f7"/>
<rect x="566.4" y="466.29" width="13.55" height="13.21" fill="#6f9bc5"/>
<rect x="579.95" y="466.29" width="13.55" height="13.21" fill="#ffffff"/>
<line x1="566.4" y1="387" x2="593.5" y2="387" stroke="#737373" stroke-width="0.65"/>
<line x1="566.4" y1="400.21" x2="593.5" y2="400.21" stroke="#737373" stroke-width="0.65"/>
<line x1="566.4" y1="413.43" x2="593.5" y2="413.43" stroke="#737373" stroke-width="0.65"/>
<line x1="566.4" y1="426.64" x2="593.5" y2="426.64" stroke="#737373" stroke-width="0.65"/>
<line x1="566.4" y1="439.86" x2="593.5" y2="439.86" stroke="#737373" stroke-width="0.65"/>
<line x1="566.4" y1="453.07" x2="593.5" y2="453.07" stroke="#737373" stroke-width="0.65"/>
<line x1="566.4" y1="466.29" x2="593.5" y2="466.29" stroke="#737373" stroke-width="0.65"/>
<line x1="566.4" y1="479.5" x2="593.5" y2="479.5" stroke="#737373" stroke-width="0.65"/>
<line x1="566.4" y1="387" x2="566.4" y2="479.5" stroke="#737373" stroke-width="0.65"/>
<line x1="579.95" y1="387" x2="579.95" y2="479.5" stroke="#737373" stroke-width="0.65"/>
<line x1="593.5" y1="387" x2="593.5" y2="479.5" stroke="#737373" stroke-width="0.65"/>
<rect x="566.4" y="480.7" width="13.55" height="2.8" fill="#7dc26a" stroke="#5a5a5a" stroke-width="0.5"/>
<rect x="579.95" y="480.7" width="13.55" height="2.8" fill="#e57a6b" stroke="#5a5a5a" stroke-width="0.5"/>
<text x="564.4" y="396.36" text-anchor="end" font-size="7" transform="matrix(1 0 0 1.06 0 -23.78)">IL6</text>
<text x="564.4" y="409.57" text-anchor="end" font-size="7" transform="matrix(1 0 0 1.06 0 -24.57)">IL1β</text>
<text x="564.4" y="422.79" text-anchor="end" font-size="7" transform="matrix(1 0 0 1.06 0 -25.37)">IL8</text>
<text x="564.4" y="436" text-anchor="end" font-size="7" transform="matrix(1 0 0 1.06 0 -26.16)">TNFα</text>
<text x="564.4" y="449.21" text-anchor="end" font-size="7" transform="matrix(1 0 0 1.06 0 -26.95)">IL10</text>
<text x="564.4" y="462.43" text-anchor="end" font-size="7" transform="matrix(1 0 0 1.06 0 -27.75)">IL18</text>
<text x="564.4" y="475.64" text-anchor="end" font-size="7" transform="matrix(1 0 0 1.06 0 -28.54)">IL33</text>
<rect x="620" y="387" width="14.2" height="13.21" fill="#f8cdcf"/>
<rect x="634.2" y="387" width="14.2" height="13.21" fill="#f2a8aa"/>
<rect x="620" y="400.21" width="14.2" height="13.21" fill="#fbfbfc"/>
<rect x="634.2" y="400.21" width="14.2" height="13.21" fill="#fadadc"/>
<rect x="620" y="413.43" width="14.2" height="13.21" fill="#fce9ea"/>
<rect x="634.2" y="413.43" width="14.2" height="13.21" fill="#f9d5d7"/>
<rect x="620" y="426.64" width="14.2" height="13.21" fill="#fdf1f1"/>
<rect x="634.2" y="426.64" width="14.2" height="13.21" fill="#fbe1e2"/>
<rect x="620" y="439.86" width="14.2" height="13.21" fill="#e8eef5"/>
<rect x="634.2" y="439.86" width="14.2" height="13.21" fill="#fdf3f3"/>
<rect x="620" y="453.07" width="14.2" height="13.21" fill="#a8c3dc"/>
<rect x="634.2" y="453.07" width="14.2" height="13.21" fill="#d9e4ef"/>
<rect x="620" y="466.29" width="14.2" height="13.21" fill="#9ab8d6"/>
<rect x="634.2" y="466.29" width="14.2" height="13.21" fill="#7ba2c9"/>
<line x1="620" y1="387" x2="648.4" y2="387" stroke="#737373" stroke-width="0.65"/>
<line x1="620" y1="400.21" x2="648.4" y2="400.21" stroke="#737373" stroke-width="0.65"/>
<line x1="620" y1="413.43" x2="648.4" y2="413.43" stroke="#737373" stroke-width="0.65"/>
<line x1="620" y1="426.64" x2="648.4" y2="426.64" stroke="#737373" stroke-width="0.65"/>
<line x1="620" y1="439.86" x2="648.4" y2="439.86" stroke="#737373" stroke-width="0.65"/>
<line x1="620" y1="453.07" x2="648.4" y2="453.07" stroke="#737373" stroke-width="0.65"/>
<line x1="620" y1="466.29" x2="648.4" y2="466.29" stroke="#737373" stroke-width="0.65"/>
<line x1="620" y1="479.5" x2="648.4" y2="479.5" stroke="#737373" stroke-width="0.65"/>
<line x1="620" y1="387" x2="620" y2="479.5" stroke="#737373" stroke-width="0.65"/>
<line x1="634.2" y1="387" x2="634.2" y2="479.5" stroke="#737373" stroke-width="0.65"/>
<line x1="648.4" y1="387" x2="648.4" y2="479.5" stroke="#737373" stroke-width="0.65"/>
<rect x="620" y="480.7" width="14.2" height="2.8" fill="#7dc26a" stroke="#5a5a5a" stroke-width="0.5"/>
<rect x="634.2" y="480.7" width="14.2" height="2.8" fill="#e57a6b" stroke="#5a5a5a" stroke-width="0.5"/>
<text x="617.2" y="396.36" text-anchor="end" font-size="7" transform="matrix(1 0 0 1.06 0 -23.78)">IFNβ</text>
<text x="617.2" y="409.57" text-anchor="end" font-size="7" transform="matrix(1 0 0 1.06 0 -24.57)">IFIT1</text>
<text x="617.2" y="422.79" text-anchor="end" font-size="7" transform="matrix(1 0 0 1.06 0 -25.37)">MX1</text>
<text x="617.2" y="436" text-anchor="end" font-size="7" transform="matrix(1 0 0 1.06 0 -26.16)">ISG15</text>
<text x="617.2" y="449.21" text-anchor="end" font-size="7" transform="matrix(1 0 0 1.06 0 -26.95)">STAT1</text>
<text x="617.2" y="462.43" text-anchor="end" font-size="7" transform="matrix(1 0 0 1.06 0 -27.75)">IRF9</text>
<text x="617.2" y="475.64" text-anchor="end" font-size="7" transform="matrix(1 0 0 1.06 0 -28.54)">IFNα</text>
<line x1="619.2" y1="387" x2="619.2" y2="479" stroke="#555" stroke-width="0.6"/>
<line x1="617.6" y1="393.57" x2="619.2" y2="393.57" stroke="#555" stroke-width="0.5"/>
<line x1="617.6" y1="406.71" x2="619.2" y2="406.71" stroke="#555" stroke-width="0.5"/>
<line x1="617.6" y1="419.86" x2="619.2" y2="419.86" stroke="#555" stroke-width="0.5"/>
<line x1="617.6" y1="433" x2="619.2" y2="433" stroke="#555" stroke-width="0.5"/>
<line x1="617.6" y1="446.14" x2="619.2" y2="446.14" stroke="#555" stroke-width="0.5"/>
<line x1="617.6" y1="459.29" x2="619.2" y2="459.29" stroke="#555" stroke-width="0.5"/>
<line x1="617.6" y1="472.43" x2="619.2" y2="472.43" stroke="#555" stroke-width="0.5"/>
<rect x="651.7" y="389.4" width="4.2" height="4.2" fill="#7dc26a" stroke="#555" stroke-width="0.35"/>
<text x="657.3" y="394" transform="matrix(1 0 0 1.09 0 -35.46)">Donor #2</text>
<rect x="651.7" y="398.7" width="4.2" height="4.2" fill="#e57a6b" stroke="#555" stroke-width="0.35"/>
<text x="657.3" y="403.3" transform="matrix(1 0 0 1.09 0 -36.3)">Donor #3</text>
<defs><linearGradient id="css" x1="0" y1="0" x2="0" y2="1"><stop offset="0" stop-color="#e0383e"/><stop offset="0.5" stop-color="#f4c0c2"/><stop offset="0.82" stop-color="#f8f8f8"/><stop offset="0.92" stop-color="#a9c6df"/><stop offset="1" stop-color="#2b69a5"/></linearGradient></defs>
<rect x="651.7" y="450.3" width="5.7" height="28.9" fill="url(#css)"/>
<text x="650.9" y="447" font-size="6.2" transform="matrix(1 0 0 1.09 0 -40.23)">Log<tspan font-size="4.2" dy="1">2</tspan></text>
<text x="658.8" y="454.6" font-size="6.2" transform="matrix(1 0 0 1.09 0 -40.91)">8</text>
<text x="658.8" y="468" font-size="6.2" transform="matrix(1 0 0 1.09 0 -42.12)">4</text>
<text x="658.8" y="481.4" font-size="6.2" transform="matrix(1 0 0 1.09 0 -43.33)">0</text>
<defs><filter id="grF" x="0" y="0" width="100%" height="100%" color-interpolation-filters="sRGB"><feTurbulence type="fractalNoise" baseFrequency="0.6" numOctaves="2" seed="3"/><feColorMatrix type="matrix" values="1.3 0 0 0 -0.09 1.3 0 0 0 -0.09 1.3 0 0 0 -0.09 0 0 0 0 1"/><feGaussianBlur stdDeviation="0.4"/></filter></defs>
<defs><filter id="grS" x="0" y="0" width="100%" height="100%" color-interpolation-filters="sRGB"><feTurbulence type="fractalNoise" baseFrequency="0.45" numOctaves="2" seed="7"/><feColorMatrix type="matrix" values="1.0 0 0 0 -0.03 1.0 0 0 0 -0.03 1.0 0 0 0 -0.03 0 0 0 0 1"/><feGaussianBlur stdDeviation="0.45"/></filter></defs>
<defs><filter id="grC" x="0" y="0" width="100%" height="100%" color-interpolation-filters="sRGB"><feTurbulence type="fractalNoise" baseFrequency="0.5" numOctaves="2" seed="12"/><feColorMatrix type="matrix" values="1.0 0 0 0 0.1 1.0 0 0 0 0.1 1.0 0 0 0 0.1 0 0 0 0 1"/><feGaussianBlur stdDeviation="0.4"/></filter></defs>
<defs><filter id="rdF" x="0" y="0" width="100%" height="100%" color-interpolation-filters="sRGB"><feTurbulence type="fractalNoise" baseFrequency="0.75" numOctaves="1" seed="21"/><feColorMatrix type="matrix" values="0 0 0 0 0.9 0 0 0 0 0.16 0 0 0 0 0.16 0 8 0 0 -4.68"/><feGaussianBlur stdDeviation="0.25"/></filter></defs>
<defs><filter id="rdS" x="0" y="0" width="100%" height="100%" color-interpolation-filters="sRGB"><feTurbulence type="fractalNoise" baseFrequency="0.55" numOctaves="1" seed="22"/><feColorMatrix type="matrix" values="0 0 0 0 0.9 0 0 0 0 0.18 0 0 0 0 0.18 0 6 0 0 -3.18"/><feGaussianBlur stdDeviation="0.35"/></filter></defs>
<text x="538.5" y="6" font-weight="bold" fill="#1a1414" stroke="#1a1414" font-size="7.9">e</text>
<text x="610.3" y="9.8" text-anchor="middle" font-size="7" transform="matrix(1 0 0 1.09 0 -0.88)">EV1</text>
<rect x="550" y="12.9" width="10.8" height="98.7" fill="#b4b3af"/>
<text x="557.3" y="62.5" text-anchor="middle" font-size="7.3" transform="matrix(1 0 0 1 0 -0) rotate(-90 557.3 62.5)"><tspan fill="#1fa04c" stroke="#1fa04c">Mφ </tspan><tspan fill="#e0202a" stroke="#e0202a">dsRNA</tspan></text>
<defs><clipPath id="ce"><rect x="561.9" y="12.0" width="99" height="99.6"/></clipPath><clipPath id="ceC"><path d="M561 12H626C622 22 614 30 606 36C596 42 592 52 592 64C590 76 598 90 596 98C588 96 580 90 568 90L561 92Z"/><ellipse cx="612" cy="24" rx="16" ry="12"/></clipPath><clipPath id="ceS"><ellipse cx="621.5" cy="66.9" rx="29.5" ry="29.2"/></clipPath></defs>
<g clip-path="url(#ce)">
<rect x="561.9" y="12" width="99" height="99.6" fill="#c0c0be"/>
<g clip-path="url(#ceC)"><rect x="561" y="12" width="70" height="90" filter="url(#grC)" opacity="0.35"/></g>
<g fill="#dedede" opacity="0.8"><circle cx="573.7" cy="53" r="2.3"/><circle cx="567.5" cy="36.3" r="1.9"/><circle cx="567.3" cy="76.8" r="2.2"/><circle cx="608.8" cy="15.4" r="3.1"/><circle cx="571.9" cy="13.2" r="2.6"/><circle cx="597.5" cy="16.8" r="2.5"/><circle cx="574.1" cy="31.4" r="3.2"/><circle cx="563.1" cy="49.1" r="2.6"/><circle cx="591.4" cy="79.4" r="3.2"/><circle cx="592.6" cy="34.3" r="2.7"/><circle cx="582.8" cy="30.4" r="2.9"/><circle cx="580.9" cy="17.6" r="1.9"/><circle cx="561" cy="28.8" r="2.6"/><circle cx="566" cy="62.4" r="2.9"/><circle cx="567" cy="38.6" r="1.9"/><circle cx="569.1" cy="31.7" r="3.1"/><circle cx="568" cy="16.8" r="2"/><circle cx="616" cy="26.2" r="2.5"/><circle cx="574.2" cy="70.6" r="2"/><circle cx="570" cy="63.5" r="2.5"/><circle cx="569" cy="45.7" r="2.7"/><circle cx="575.7" cy="33.6" r="1.9"/><circle cx="582" cy="82.8" r="3.1"/><circle cx="575.5" cy="43.5" r="2.4"/><circle cx="575.7" cy="32.7" r="2.5"/><circle cx="581.4" cy="17.9" r="2.6"/><circle cx="567.2" cy="58.6" r="2.3"/><circle cx="577.8" cy="60.1" r="2.2"/><circle cx="586.6" cy="48.3" r="2.7"/><circle cx="573.6" cy="24.3" r="2.6"/><circle cx="578.2" cy="27.2" r="2.2"/><circle cx="574.6" cy="88" r="2.8"/><circle cx="590.1" cy="20.3" r="2.2"/><circle cx="563.7" cy="89" r="1.8"/><circle cx="577.5" cy="68.4" r="2.1"/><circle cx="578.7" cy="77.9" r="1.9"/><circle cx="602.2" cy="35.5" r="2"/><circle cx="573.1" cy="69.6" r="2.9"/><circle cx="565.7" cy="30.3" r="2.3"/><circle cx="603.4" cy="34.4" r="3.1"/><circle cx="562.1" cy="33.5" r="2.8"/><circle cx="591.8" cy="16.8" r="1.9"/><circle cx="573.2" cy="41.5" r="3.2"/><circle cx="600.5" cy="22.5" r="3.1"/><circle cx="586" cy="83.3" r="1.9"/><circle cx="570.7" cy="14.8" r="3.1"/><circle cx="562.2" cy="84.8" r="2.4"/><circle cx="562.5" cy="62.9" r="2.5"/><circle cx="566.2" cy="55.7" r="3.2"/><circle cx="585.3" cy="66.8" r="2.1"/><circle cx="589.8" cy="75.2" r="2.5"/><circle cx="566.5" cy="63.2" r="3.1"/><circle cx="591.4" cy="79.1" r="2.8"/><circle cx="566.8" cy="72" r="2.5"/><circle cx="563.1" cy="60.1" r="3.2"/><circle cx="594.2" cy="30.4" r="2.9"/><circle cx="578.7" cy="12.9" r="2.6"/><circle cx="581.8" cy="66.3" r="2"/><circle cx="575" cy="25.6" r="2.7"/><circle cx="591.5" cy="83.3" r="2.4"/><circle cx="583.6" cy="65.3" r="2.1"/><circle cx="574.7" cy="46.5" r="1.9"/><circle cx="570.4" cy="51.7" r="2.5"/><circle cx="580.1" cy="25.5" r="2"/><circle cx="592.1" cy="34" r="2.4"/><circle cx="575.8" cy="45.1" r="2.7"/><circle cx="582.8" cy="79.1" r="2.4"/><circle cx="566.2" cy="14.5" r="2.2"/><circle cx="621.2" cy="15.3" r="2.6"/><circle cx="582.3" cy="75.3" r="2.4"/><circle cx="562.3" cy="22.9" r="2.9"/><circle cx="592.4" cy="14" r="2.5"/><circle cx="570.7" cy="15.8" r="3.2"/><circle cx="608.2" cy="27.9" r="3.1"/><circle cx="593.8" cy="26.3" r="2.8"/><circle cx="561.7" cy="49.8" r="2.1"/><circle cx="610.3" cy="26.3" r="2"/><circle cx="579.8" cy="39.7" r="3"/><circle cx="588.2" cy="75.4" r="2.9"/><circle cx="570" cy="48.3" r="2.7"/><circle cx="587" cy="57.5" r="2.3"/><circle cx="605.9" cy="28.4" r="2.2"/><circle cx="575.7" cy="84" r="2.8"/><circle cx="583.1" cy="84.8" r="2.6"/><circle cx="566.7" cy="47.3" r="2.6"/><circle cx="594.6" cy="14.3" r="2.7"/><circle cx="616.8" cy="17.1" r="2.9"/><circle cx="616.2" cy="25.8" r="2.1"/><circle cx="584.1" cy="75" r="2.1"/><circle cx="570.7" cy="23.9" r="3.2"/><circle cx="576.3" cy="54.1" r="3.1"/><circle cx="581" cy="70.3" r="3"/><circle cx="582.5" cy="42.5" r="1.9"/><circle cx="575.4" cy="80.1" r="1.9"/><circle cx="600.5" cy="28.1" r="2.2"/><circle cx="602.8" cy="14.2" r="2.4"/><circle cx="588.6" cy="76.1" r="2.7"/><circle cx="608.7" cy="17.3" r="1.9"/><circle cx="579.6" cy="49.9" r="2.6"/><circle cx="569.8" cy="46.7" r="1.9"/><circle cx="593.9" cy="37.4" r="1.9"/><circle cx="574.2" cy="61.4" r="2.7"/><circle cx="614.8" cy="13.8" r="2.6"/><circle cx="574.4" cy="30.2" r="2.7"/><circle cx="585.5" cy="61.6" r="2.3"/><circle cx="568.2" cy="70.5" r="2.5"/><circle cx="569.5" cy="52.8" r="2.1"/><circle cx="578.3" cy="27.8" r="2.3"/><circle cx="586.9" cy="45.1" r="2.8"/><circle cx="597.5" cy="24.8" r="3"/><circle cx="575.1" cy="62.5" r="1.9"/><circle cx="582.7" cy="85.8" r="2"/><circle cx="577.5" cy="70.1" r="2.9"/><circle cx="578.9" cy="19.8" r="2.7"/><circle cx="615.5" cy="22.1" r="2.9"/><circle cx="588.8" cy="66.8" r="2.1"/><circle cx="562.2" cy="28.1" r="2.4"/><circle cx="574" cy="17.6" r="2.2"/><circle cx="568.3" cy="15" r="2.9"/><circle cx="600.2" cy="23.7" r="2.3"/><circle cx="573.7" cy="28.3" r="2.7"/><circle cx="565.3" cy="88.1" r="3.2"/><circle cx="592.9" cy="73.2" r="2.3"/><circle cx="583.6" cy="49.4" r="2.6"/><circle cx="602.5" cy="13.1" r="2.8"/><circle cx="573.5" cy="48.3" r="3.1"/><circle cx="574.5" cy="25.2" r="2.4"/><circle cx="596.4" cy="13.2" r="2.3"/><circle cx="578.8" cy="84.9" r="1.9"/><circle cx="610.9" cy="17.6" r="3"/><circle cx="584.6" cy="49.5" r="1.9"/><circle cx="561.7" cy="40.5" r="1.9"/><circle cx="577" cy="87.6" r="2.6"/><circle cx="578.7" cy="44.1" r="2.5"/><circle cx="564.5" cy="27.6" r="2.8"/></g>
<g fill="#7a7a7a"><circle cx="573.7" cy="53" r="1.4"/><circle cx="563.1" cy="49.1" r="1.4"/><circle cx="567" cy="38.6" r="2"/><circle cx="573.6" cy="24.3" r="1.1"/><circle cx="578.2" cy="27.2" r="1.3"/><circle cx="574.6" cy="88" r="2.1"/><circle cx="562.1" cy="33.5" r="1.6"/><circle cx="591.8" cy="16.8" r="1.8"/><circle cx="570.7" cy="14.8" r="2.1"/><circle cx="562.2" cy="84.8" r="1.6"/><circle cx="563.1" cy="60.1" r="2.2"/><circle cx="594.2" cy="30.4" r="1.6"/><circle cx="583.6" cy="65.3" r="2.1"/><circle cx="570.7" cy="15.8" r="1.8"/><circle cx="579.8" cy="39.7" r="1.9"/><circle cx="584.1" cy="75" r="1.9"/><circle cx="576.3" cy="54.1" r="2"/><circle cx="582.5" cy="42.5" r="1.9"/><circle cx="608.7" cy="17.3" r="1.5"/><circle cx="585.5" cy="61.6" r="2.2"/><circle cx="578.3" cy="27.8" r="1.8"/><circle cx="586.9" cy="45.1" r="1.8"/><circle cx="582.7" cy="85.8" r="1.1"/><circle cx="574" cy="17.6" r="1.7"/><circle cx="600.2" cy="23.7" r="1.5"/><circle cx="578.8" cy="84.9" r="1.7"/><circle cx="610.9" cy="17.6" r="1.1"/><circle cx="584.6" cy="49.5" r="1.2"/><circle cx="561.7" cy="40.5" r="1.5"/></g>
<g fill="#8a8a8a"><circle cx="567.5" cy="36.3" r="1.1"/><circle cx="597.5" cy="16.8" r="1.3"/><circle cx="580.9" cy="17.6" r="1.5"/><circle cx="568" cy="16.8" r="1.7"/><circle cx="569" cy="45.7" r="1.7"/><circle cx="575.5" cy="43.5" r="2"/><circle cx="590.1" cy="20.3" r="1"/><circle cx="577.5" cy="68.4" r="1.3"/><circle cx="566.2" cy="55.7" r="2.1"/><circle cx="585.3" cy="66.8" r="1.3"/><circle cx="578.7" cy="12.9" r="1.4"/><circle cx="581.8" cy="66.3" r="1.9"/><circle cx="574.7" cy="46.5" r="1.4"/><circle cx="570.4" cy="51.7" r="1.2"/><circle cx="608.2" cy="27.9" r="1.6"/><circle cx="593.8" cy="26.3" r="1.5"/><circle cx="588.2" cy="75.4" r="1.8"/><circle cx="575.7" cy="84" r="1.7"/><circle cx="570.7" cy="23.9" r="1.2"/><circle cx="588.6" cy="76.1" r="1.4"/><circle cx="568.2" cy="70.5" r="1.4"/><circle cx="577.5" cy="70.1" r="2"/><circle cx="578.9" cy="19.8" r="2.1"/><circle cx="568.3" cy="15" r="1.3"/><circle cx="583.6" cy="49.4" r="1.1"/><circle cx="602.5" cy="13.1" r="1.7"/><circle cx="573.5" cy="48.3" r="1.8"/><circle cx="578.7" cy="44.1" r="2.1"/><circle cx="564.5" cy="27.6" r="1.8"/></g>
<g fill="#6a6a6a"><circle cx="567.3" cy="76.8" r="2.1"/><circle cx="561" cy="28.8" r="1.5"/><circle cx="574.2" cy="70.6" r="2"/><circle cx="570" cy="63.5" r="1.2"/><circle cx="575.7" cy="32.7" r="1.6"/><circle cx="577.8" cy="60.1" r="1.1"/><circle cx="586.6" cy="48.3" r="1.4"/><circle cx="578.7" cy="77.9" r="1.6"/><circle cx="580.1" cy="25.5" r="1.7"/><circle cx="592.1" cy="34" r="1.9"/><circle cx="621.2" cy="15.3" r="1.8"/><circle cx="610.3" cy="26.3" r="2.2"/><circle cx="566.7" cy="47.3" r="1.2"/><circle cx="594.6" cy="14.3" r="1.2"/><circle cx="616.8" cy="17.1" r="1.3"/><circle cx="616.2" cy="25.8" r="1.1"/><circle cx="581" cy="70.3" r="1.4"/><circle cx="600.5" cy="28.1" r="1.1"/><circle cx="602.8" cy="14.2" r="1.7"/><circle cx="569.8" cy="46.7" r="1.3"/><circle cx="575.1" cy="62.5" r="1.3"/></g>
<g fill="#969696"><circle cx="608.8" cy="15.4" r="1.1"/><circle cx="571.9" cy="13.2" r="1.6"/><circle cx="574.1" cy="31.4" r="1.3"/><circle cx="592.6" cy="34.3" r="1.7"/><circle cx="582.8" cy="30.4" r="1.5"/><circle cx="566" cy="62.4" r="1.3"/><circle cx="616" cy="26.2" r="1.9"/><circle cx="582" cy="82.8" r="2.1"/><circle cx="581.4" cy="17.9" r="1.2"/><circle cx="573.1" cy="69.6" r="1.5"/><circle cx="565.7" cy="30.3" r="2"/><circle cx="573.2" cy="41.5" r="1.5"/><circle cx="566.5" cy="63.2" r="1.8"/><circle cx="566.8" cy="72" r="1.6"/><circle cx="582.8" cy="79.1" r="1.2"/><circle cx="566.2" cy="14.5" r="1.5"/><circle cx="582.3" cy="75.3" r="1.6"/><circle cx="592.4" cy="14" r="2.1"/><circle cx="583.1" cy="84.8" r="1.5"/><circle cx="574.2" cy="61.4" r="1.2"/><circle cx="574.4" cy="30.2" r="1.1"/><circle cx="588.8" cy="66.8" r="2.1"/><circle cx="573.7" cy="28.3" r="1.4"/><circle cx="565.3" cy="88.1" r="1.7"/></g>
<g fill="#a4a4a4"><circle cx="591.4" cy="79.4" r="1.4"/><circle cx="569.1" cy="31.7" r="1.4"/><circle cx="575.7" cy="33.6" r="1.1"/><circle cx="567.2" cy="58.6" r="2.2"/><circle cx="563.7" cy="89" r="1.1"/><circle cx="602.2" cy="35.5" r="1.4"/><circle cx="603.4" cy="34.4" r="1.8"/><circle cx="600.5" cy="22.5" r="2"/><circle cx="586" cy="83.3" r="2"/><circle cx="562.5" cy="62.9" r="2"/><circle cx="589.8" cy="75.2" r="2.2"/><circle cx="591.4" cy="79.1" r="1.2"/><circle cx="575" cy="25.6" r="2.1"/><circle cx="591.5" cy="83.3" r="1"/><circle cx="575.8" cy="45.1" r="1.6"/><circle cx="562.3" cy="22.9" r="1.6"/><circle cx="561.7" cy="49.8" r="2.1"/><circle cx="570" cy="48.3" r="2.1"/><circle cx="587" cy="57.5" r="2.1"/><circle cx="605.9" cy="28.4" r="2"/><circle cx="575.4" cy="80.1" r="2.1"/><circle cx="579.6" cy="49.9" r="1.9"/><circle cx="593.9" cy="37.4" r="1.5"/><circle cx="614.8" cy="13.8" r="1.4"/><circle cx="569.5" cy="52.8" r="1.1"/><circle cx="597.5" cy="24.8" r="2"/><circle cx="615.5" cy="22.1" r="1.3"/><circle cx="562.2" cy="28.1" r="2.1"/><circle cx="592.9" cy="73.2" r="1.5"/><circle cx="574.5" cy="25.2" r="1.2"/><circle cx="596.4" cy="13.2" r="1"/><circle cx="577" cy="87.6" r="1.4"/></g>
<g fill="#e2e2e2"><circle cx="597.9" cy="42.1" r="2.1"/><circle cx="575.9" cy="44.1" r="2"/><circle cx="561.7" cy="43.3" r="2"/><circle cx="592.5" cy="88.6" r="1.8"/><circle cx="596.5" cy="63.5" r="1.7"/><circle cx="588.4" cy="13.4" r="1.5"/><circle cx="575.9" cy="38.7" r="1.6"/><circle cx="590.3" cy="20.3" r="1.8"/><circle cx="578" cy="51.7" r="1.5"/><circle cx="596.5" cy="76.4" r="1.7"/><circle cx="588.5" cy="24.4" r="1.8"/><circle cx="595.5" cy="82.4" r="1.8"/><circle cx="585.7" cy="39.5" r="1.6"/><circle cx="583.5" cy="23.1" r="1.6"/><circle cx="593.1" cy="89" r="1.4"/><circle cx="584.2" cy="67.8" r="1.9"/><circle cx="598.6" cy="27.4" r="1.7"/><circle cx="603.5" cy="60.9" r="1.8"/><circle cx="569.9" cy="18.5" r="1.6"/><circle cx="572" cy="57" r="2"/><circle cx="592.4" cy="37.7" r="2.1"/><circle cx="602.8" cy="40.2" r="2"/><circle cx="581.8" cy="21.7" r="2"/><circle cx="604.8" cy="22.6" r="1.8"/><circle cx="601.7" cy="54.4" r="1.8"/><circle cx="586.2" cy="55.7" r="1.7"/><circle cx="572.9" cy="82.9" r="1.6"/><circle cx="605.6" cy="75.8" r="1.6"/><circle cx="588.1" cy="21.6" r="1.9"/><circle cx="598.1" cy="34.5" r="2"/><circle cx="658" cy="38.3" r="1.6"/><circle cx="636.3" cy="37.3" r="1.6"/><circle cx="636.2" cy="38.2" r="2.4"/><circle cx="661.1" cy="26.3" r="1.7"/><circle cx="631.6" cy="39.3" r="1.6"/><circle cx="646.5" cy="31.7" r="2"/><circle cx="660" cy="38.4" r="1.9"/><circle cx="662" cy="33.9" r="1.7"/><circle cx="657.6" cy="23.1" r="2.4"/><circle cx="646.6" cy="28.9" r="1.8"/><circle cx="633.6" cy="31.5" r="1.7"/><circle cx="642.3" cy="15.7" r="2.4"/><circle cx="630.4" cy="27.6" r="1.7"/><circle cx="632.4" cy="38.5" r="2.1"/><circle cx="647.6" cy="25.6" r="1.7"/><circle cx="638.1" cy="33.8" r="2.2"/><circle cx="658.2" cy="62.2" r="2.5"/><circle cx="660.6" cy="92.8" r="1.8"/><circle cx="658" cy="52.4" r="2"/><circle cx="657.7" cy="96.6" r="2"/><circle cx="654.2" cy="49.3" r="2.1"/><circle cx="651.1" cy="61.9" r="1.6"/><circle cx="657.9" cy="55.8" r="2.1"/><circle cx="650.5" cy="57.9" r="2.4"/><circle cx="657.3" cy="88.5" r="1.7"/><circle cx="653.2" cy="81.4" r="1.8"/><circle cx="660.4" cy="77.4" r="2.3"/><circle cx="651.2" cy="61.6" r="1.7"/><circle cx="599.5" cy="88.8" r="2"/><circle cx="579" cy="105.3" r="2.3"/><circle cx="576" cy="109.4" r="1.8"/><circle cx="580.5" cy="92.1" r="2.4"/><circle cx="582.7" cy="102.8" r="1.8"/><circle cx="575" cy="103.1" r="2.1"/><circle cx="591.5" cy="99.9" r="2.1"/><circle cx="580.7" cy="107.4" r="1.9"/><circle cx="587.7" cy="100" r="2.2"/><circle cx="598.1" cy="92" r="2.1"/><circle cx="591.4" cy="91.8" r="2.4"/><circle cx="584.7" cy="93.4" r="1.6"/><circle cx="635.3" cy="104.1" r="1.6"/><circle cx="649.1" cy="99.6" r="2"/><circle cx="609.1" cy="100.7" r="2.3"/><circle cx="602.6" cy="100.7" r="1.7"/><circle cx="638.5" cy="103.9" r="1.7"/><circle cx="616.4" cy="104.8" r="2.1"/><circle cx="605.5" cy="108.3" r="1.6"/><circle cx="610.6" cy="99.8" r="2.4"/><circle cx="609.9" cy="106.4" r="1.6"/><circle cx="651.5" cy="107.8" r="2"/></g>
<g fill="#5a5a5a"><circle cx="597.9" cy="42.1" r="1.5"/><circle cx="561.7" cy="43.3" r="1.5"/><circle cx="588.4" cy="13.4" r="0.9"/><circle cx="596.5" cy="76.4" r="1.2"/><circle cx="595.5" cy="82.4" r="1.3"/><circle cx="585.7" cy="39.5" r="1.1"/><circle cx="584.2" cy="67.8" r="1.4"/><circle cx="658" cy="38.3" r="1"/><circle cx="661.1" cy="26.3" r="1.1"/><circle cx="657.6" cy="23.1" r="1.9"/><circle cx="630.4" cy="27.6" r="1.2"/><circle cx="632.4" cy="38.5" r="1.5"/><circle cx="658.2" cy="62.2" r="1.9"/><circle cx="657.3" cy="88.5" r="1.2"/><circle cx="651.2" cy="61.6" r="1.2"/><circle cx="579" cy="105.3" r="1.8"/><circle cx="576" cy="109.4" r="1.3"/><circle cx="582.7" cy="102.8" r="1.3"/><circle cx="591.5" cy="99.9" r="1.6"/><circle cx="584.7" cy="93.4" r="1.1"/><circle cx="649.1" cy="99.6" r="1.5"/><circle cx="602.6" cy="100.7" r="1.1"/><circle cx="610.6" cy="99.8" r="1.9"/></g>
<g fill="#6a6a6a"><circle cx="575.9" cy="44.1" r="1.4"/><circle cx="583.5" cy="23.1" r="1"/><circle cx="604.8" cy="22.6" r="1.3"/><circle cx="588.1" cy="21.6" r="1.4"/><circle cx="598.1" cy="34.5" r="1.4"/><circle cx="646.5" cy="31.7" r="1.5"/><circle cx="633.6" cy="31.5" r="1.2"/><circle cx="638.1" cy="33.8" r="1.7"/><circle cx="651.1" cy="61.9" r="1"/><circle cx="653.2" cy="81.4" r="1.2"/><circle cx="599.5" cy="88.8" r="1.4"/><circle cx="598.1" cy="92" r="1.5"/><circle cx="609.9" cy="106.4" r="1.1"/></g>
<g fill="#4a4a4a"><circle cx="592.5" cy="88.6" r="1.3"/><circle cx="590.3" cy="20.3" r="1.3"/><circle cx="588.5" cy="24.4" r="1.2"/><circle cx="593.1" cy="89" r="0.8"/><circle cx="581.8" cy="21.7" r="1.5"/><circle cx="586.2" cy="55.7" r="1.1"/><circle cx="572.9" cy="82.9" r="1.1"/><circle cx="631.6" cy="39.3" r="1"/><circle cx="646.6" cy="28.9" r="1.3"/><circle cx="642.3" cy="15.7" r="1.9"/><circle cx="647.6" cy="25.6" r="1.2"/><circle cx="660.6" cy="92.8" r="1.3"/><circle cx="658" cy="52.4" r="1.5"/><circle cx="657.7" cy="96.6" r="1.4"/><circle cx="654.2" cy="49.3" r="1.5"/><circle cx="650.5" cy="57.9" r="1.8"/><circle cx="660.4" cy="77.4" r="1.7"/><circle cx="575" cy="103.1" r="1.6"/><circle cx="580.7" cy="107.4" r="1.3"/><circle cx="591.4" cy="91.8" r="1.9"/><circle cx="609.1" cy="100.7" r="1.7"/><circle cx="616.4" cy="104.8" r="1.5"/><circle cx="651.5" cy="107.8" r="1.5"/></g>
<g fill="#7a7a7a"><circle cx="596.5" cy="63.5" r="1.2"/><circle cx="575.9" cy="38.7" r="1"/><circle cx="578" cy="51.7" r="0.9"/><circle cx="598.6" cy="27.4" r="1.1"/><circle cx="603.5" cy="60.9" r="1.3"/><circle cx="569.9" cy="18.5" r="1.1"/><circle cx="572" cy="57" r="1.4"/><circle cx="592.4" cy="37.7" r="1.5"/><circle cx="602.8" cy="40.2" r="1.5"/><circle cx="601.7" cy="54.4" r="1.2"/><circle cx="605.6" cy="75.8" r="1"/><circle cx="636.3" cy="37.3" r="1.1"/><circle cx="636.2" cy="38.2" r="1.8"/><circle cx="660" cy="38.4" r="1.3"/><circle cx="662" cy="33.9" r="1.1"/><circle cx="657.9" cy="55.8" r="1.5"/><circle cx="580.5" cy="92.1" r="1.9"/><circle cx="587.7" cy="100" r="1.6"/><circle cx="635.3" cy="104.1" r="1.1"/><circle cx="638.5" cy="103.9" r="1.1"/><circle cx="605.5" cy="108.3" r="1"/></g>
<path d="M626 14L628 15L621 36L619 35Z" fill="#6a6a6a"/>
<g fill="#62cc48" opacity="0.8"><circle cx="611.2" cy="29.7" r="1.9"/><circle cx="604.1" cy="37.4" r="1.4"/><circle cx="601.1" cy="19.7" r="1.5"/><circle cx="587.3" cy="34.2" r="1.8"/><circle cx="595.7" cy="14.2" r="1.9"/><circle cx="590.4" cy="20" r="2.2"/><circle cx="610.5" cy="36" r="1.9"/><circle cx="590.1" cy="16.2" r="2"/><circle cx="600.4" cy="37.9" r="1.6"/><circle cx="604.6" cy="26.8" r="1.8"/><circle cx="609.5" cy="35" r="1.7"/><circle cx="609.9" cy="16.6" r="2.4"/><circle cx="608.1" cy="36.3" r="2.4"/><circle cx="590" cy="21.8" r="1.9"/><circle cx="585.4" cy="22.9" r="1.8"/><circle cx="590.9" cy="32.6" r="1.4"/><circle cx="606.5" cy="24.5" r="1.9"/><circle cx="595.2" cy="27.4" r="1.7"/><circle cx="583.3" cy="66.1" r="1.3"/><circle cx="575.7" cy="71.3" r="1.7"/><circle cx="567.1" cy="66.6" r="2.1"/><circle cx="577.1" cy="64.3" r="1.4"/><circle cx="563.3" cy="59.4" r="2.4"/><circle cx="588.6" cy="71.1" r="2.2"/><circle cx="576.5" cy="75.2" r="1.9"/><circle cx="576.3" cy="69.3" r="1.2"/><circle cx="580.2" cy="57.4" r="2.3"/><circle cx="564.9" cy="51.9" r="2.2"/><circle cx="582.4" cy="76.4" r="2.1"/><circle cx="565.8" cy="58.2" r="1.3"/><circle cx="585.5" cy="54.1" r="2.4"/><circle cx="589.9" cy="78.5" r="2"/><circle cx="574.6" cy="79.1" r="1.7"/><circle cx="572.7" cy="58.7" r="1.4"/><circle cx="659.9" cy="61.4" r="2.3"/><circle cx="654.7" cy="60.9" r="1.7"/><circle cx="656.4" cy="57.5" r="2.3"/></g>
<defs><radialGradient id="gS"><stop offset="0" stop-color="#606060"/><stop offset="0.6" stop-color="#6c6c6c"/><stop offset="1" stop-color="#848484"/></radialGradient><radialGradient id="gSm"><stop offset="0.3" stop-color="#000"/><stop offset="0.7" stop-color="#fff"/><stop offset="1" stop-color="#fff"/></radialGradient><mask id="mS"><ellipse cx="621.5" cy="66.9" rx="29.5" ry="29.2" fill="url(#gSm)"/></mask></defs>
<g clip-path="url(#ceS)"><ellipse cx="621.5" cy="66.9" rx="29.5" ry="29.2" fill="url(#gS)"/><rect x="592" y="37" width="60" height="60" filter="url(#grS)" opacity="0.4"/><rect x="592" y="37" width="60" height="60" filter="url(#rdS)" mask="url(#mS)"/></g>
<ellipse cx="621.5" cy="66.9" rx="29.5" ry="29.2" fill="none" stroke="#3c3c3c" stroke-width="0.8"/>
</g>
<text x="564.6" y="107" fill="#2a2222" stroke="#2a2222" font-size="5.7">50 μm</text>
<line x1="563.1" y1="109.5" x2="581.9" y2="109.5" stroke="#2a2020" stroke-width="1"/>
<text x="0.9" y="131.6" font-weight="bold" fill="#1a1414" stroke="#1a1414" font-size="7.9">f</text>
<text x="69.6" y="133.9" text-anchor="middle" font-size="7" transform="matrix(1 0 0 1.09 0 -12.05)">EV6</text>
<rect x="10.7" y="137" width="10.3" height="98.7" fill="#b4b3af"/>
<text x="17.6" y="185.6" text-anchor="middle" font-size="7.3" transform="matrix(1 0 0 1 0 -0) rotate(-90 17.6 185.6)"><tspan fill="#1fa04c" stroke="#1fa04c">Mφ </tspan><tspan fill="#e0202a" stroke="#e0202a">dsRNA</tspan></text>
<defs><clipPath id="cf"><rect x="21.9" y="137.0" width="99.2" height="98.7"/></clipPath><clipPath id="cfO"><ellipse cx="44" cy="162.5" rx="17.5" ry="19.5"/><ellipse cx="76" cy="185" rx="32.5" ry="34.5"/><ellipse cx="46" cy="204" rx="20" ry="18.5"/><ellipse cx="95" cy="206" rx="14.5" ry="15"/><ellipse cx="64" cy="212" rx="22" ry="10"/></clipPath><mask id="mfR"><rect x="21" y="137" width="101" height="99" fill="#000"/><ellipse cx="76" cy="185" rx="32.5" ry="34.5" fill="none" stroke="#fff" stroke-width="14"/><ellipse cx="46" cy="204" rx="20" ry="18.5" fill="none" stroke="#fff" stroke-width="14"/><ellipse cx="95" cy="206" rx="14.5" ry="15" fill="none" stroke="#fff" stroke-width="14"/><ellipse cx="64" cy="212" rx="22" ry="10" fill="none" stroke="#fff" stroke-width="14"/><ellipse cx="76" cy="185" rx="25.5" ry="27.5" fill="#000"/><ellipse cx="46" cy="204" rx="13" ry="11.5" fill="#000"/><ellipse cx="95" cy="206" rx="7.5" ry="8" fill="#000"/><ellipse cx="64" cy="212" rx="15" ry="3" fill="#000"/><ellipse cx="44" cy="162.5" rx="17" ry="19" fill="#000"/></mask></defs>
<defs><radialGradient id="gF" cx="0.58" cy="0.5" r="0.55"><stop offset="0" stop-color="#767676"/><stop offset="0.6" stop-color="#848484"/><stop offset="1" stop-color="#a8a8a8"/></radialGradient></defs>
<g clip-path="url(#cf)">
<rect x="21.9" y="137" width="99.2" height="98.7" fill="#bcbcbc"/>
<g clip-path="url(#cfO)"><rect x="24" y="141" width="90" height="88" fill="url(#gF)"/><rect x="24" y="141" width="90" height="88" filter="url(#grF)" opacity="0.5"/><rect x="24" y="141" width="90" height="88" fill="#d04040" opacity="0.1" mask="url(#mfR)"/><rect x="24" y="141" width="90" height="88" filter="url(#rdF)" mask="url(#mfR)"/></g>
<path d="M30 174A17.5 19.5 0 0 1 52 145" fill="none" stroke="#2a2a2a" stroke-width="1.1"/>
<ellipse cx="44" cy="162.5" rx="17.5" ry="19.5" fill="none" stroke="#333" stroke-width="0.5"/>
<g fill="#6cc860" opacity="0.85"><circle cx="44.2" cy="169.8" r="0.9"/><circle cx="40.9" cy="160.3" r="1.5"/><circle cx="49.8" cy="173.9" r="1.1"/><circle cx="44.8" cy="166.8" r="1"/><circle cx="43.3" cy="173.7" r="0.9"/><circle cx="42.8" cy="168.8" r="1.4"/><circle cx="46.4" cy="167.1" r="1.5"/><circle cx="50.5" cy="168" r="1"/><circle cx="59.8" cy="169.9" r="1"/><circle cx="49.5" cy="153" r="1.3"/><circle cx="58.5" cy="154.6" r="1.3"/><circle cx="59.9" cy="173" r="1.8"/><circle cx="83.6" cy="230.9" r="1.2"/><circle cx="107.4" cy="223.3" r="1.6"/><circle cx="91.3" cy="230.2" r="1.5"/><circle cx="89" cy="228.6" r="1.1"/><circle cx="106.6" cy="220.9" r="1.3"/><circle cx="81.1" cy="223.9" r="1.3"/><circle cx="114.1" cy="185.9" r="0.9"/><circle cx="119" cy="197.7" r="1.4"/><circle cx="117.1" cy="187.7" r="1.1"/><circle cx="113.8" cy="198" r="1.1"/></g>
</g>
<text x="23.6" y="229.4" fill="#2a2222" stroke="#2a2222" font-size="6.2">50 μm</text>
<line x1="22.9" y1="233.5" x2="41.9" y2="233.5" stroke="#2a2020" stroke-width="1"/>
<text x="1.9" y="252.3" font-weight="bold" fill="#1a1414" stroke="#1a1414" font-size="7.9">j</text>
<text x="69.6" y="255.3" text-anchor="middle" font-size="7" transform="matrix(1 0 0 1.09 0 -22.98)">RV</text>
<rect x="10.9" y="257.2" width="10.1" height="98.3" fill="#241816"/>
<text x="18.6" y="306.4" text-anchor="middle" font-size="7.3" transform="matrix(1 0 0 1 0 -0) rotate(-90 18.6 306.4)"><tspan fill="#1fa84a" stroke="#1fa84a">Mφ </tspan><tspan fill="#2a8ad6" stroke="#2a8ad6">DAPI </tspan><tspan fill="#f2f2f2" stroke="#f2f2f2">EpCAM </tspan><tspan fill="#e2262d" stroke="#e2262d">RV-VP6</tspan></text>
<defs><clipPath id="cj"><rect x="21.9" y="257.2" width="99.2" height="98.3"/></clipPath><radialGradient id="gj" cx="0.42" cy="0.55" r="0.6"><stop offset="0" stop-color="#5c64b0"/><stop offset="0.6" stop-color="#5a62b0"/><stop offset="0.85" stop-color="#8a8ccc"/><stop offset="1" stop-color="#e8dcf0"/></radialGradient></defs>
<g clip-path="url(#cj)">
<rect x="21.9" y="257.2" width="99.2" height="98.3" fill="#050505"/>
<g fill="#2a55c8"><circle cx="30.4" cy="304" r="1.4"/><circle cx="22.1" cy="306" r="1.6"/><circle cx="25" cy="326.8" r="1.4"/><circle cx="55.6" cy="316.8" r="1.2"/><circle cx="25.9" cy="266.5" r="1"/><circle cx="47.4" cy="302.4" r="1.5"/><circle cx="46.6" cy="292.2" r="1.2"/><circle cx="54.3" cy="303.4" r="1.3"/><circle cx="116.7" cy="317.4" r="1.1"/><circle cx="114.7" cy="314.2" r="1"/><circle cx="117.7" cy="309.9" r="1.3"/><circle cx="117.6" cy="306.6" r="1.4"/><circle cx="115.9" cy="304.1" r="1"/><circle cx="110.8" cy="327.2" r="1.2"/><circle cx="73.9" cy="280.2" r="1.1"/><circle cx="78.6" cy="268.2" r="1.6"/></g>
<g fill="#b05a8a"><circle cx="57.2" cy="338.5" r="0.9"/><circle cx="52.6" cy="280.6" r="1.1"/><circle cx="34.7" cy="316.7" r="1.4"/><circle cx="52.6" cy="287" r="1.2"/><circle cx="111.8" cy="305.6" r="1.1"/><circle cx="65.8" cy="277" r="1.1"/><circle cx="79.5" cy="272.9" r="1.4"/><circle cx="73.3" cy="270.9" r="1.3"/></g>
<g fill="#3566d0"><circle cx="54.3" cy="322.4" r="1"/><circle cx="52.3" cy="284.8" r="1.5"/><circle cx="37.1" cy="276.7" r="1.1"/><circle cx="29.3" cy="277.1" r="1.4"/><circle cx="37.8" cy="292.5" r="1.1"/><circle cx="48.8" cy="333.8" r="1.3"/><circle cx="50" cy="330.8" r="1.5"/><circle cx="59.6" cy="326.3" r="1"/><circle cx="55.7" cy="288.3" r="1.5"/><circle cx="47.8" cy="268" r="1.1"/><circle cx="113.6" cy="332.8" r="1.2"/><circle cx="116.9" cy="315.3" r="0.9"/><circle cx="120" cy="307.6" r="1"/><circle cx="121.8" cy="328.1" r="1.6"/><circle cx="109.8" cy="332.8" r="1.2"/><circle cx="65.4" cy="267.8" r="1.6"/></g>
<g fill="#7cd858"><circle cx="39.7" cy="283.6" r="1.9"/><circle cx="38.9" cy="274.2" r="2.4"/><circle cx="47.5" cy="264.6" r="2.4"/><circle cx="43.1" cy="267" r="2.1"/><circle cx="61.5" cy="275.4" r="1.5"/><circle cx="68.2" cy="280.6" r="1.6"/><circle cx="58.8" cy="267" r="2"/><circle cx="40.5" cy="269.1" r="1.9"/><circle cx="61.8" cy="285.2" r="2.1"/><circle cx="50.4" cy="270.6" r="2"/><circle cx="56.1" cy="268.6" r="1.9"/><circle cx="57.5" cy="258.3" r="1.7"/><circle cx="54.9" cy="274.1" r="1.5"/><circle cx="39.9" cy="287" r="1.8"/><circle cx="54.8" cy="272.2" r="1.7"/><circle cx="65.6" cy="262.3" r="2.4"/><circle cx="32" cy="324" r="2.2"/><circle cx="25.9" cy="290.2" r="1.8"/><circle cx="31.3" cy="284.6" r="2.3"/><circle cx="30.5" cy="284.7" r="1.6"/><circle cx="27.2" cy="311.3" r="1.9"/><circle cx="34.1" cy="301.9" r="1.9"/><circle cx="110.4" cy="323.6" r="2.1"/><circle cx="118.4" cy="339.6" r="2"/><circle cx="118" cy="306.2" r="1.5"/><circle cx="110.9" cy="306.8" r="1.7"/><circle cx="98" cy="350" r="1.8"/></g>
<g fill="#3cb8a0"><circle cx="72" cy="273.7" r="2.1"/><circle cx="49.1" cy="273.5" r="1.9"/><circle cx="65.6" cy="286" r="2.2"/><circle cx="52.7" cy="284.9" r="1.4"/><circle cx="47.5" cy="263.6" r="1.9"/><circle cx="42.7" cy="266.4" r="1.7"/><circle cx="44.6" cy="257.7" r="2.1"/><circle cx="56" cy="281.2" r="2.2"/><circle cx="70" cy="282.2" r="1.6"/><circle cx="40" cy="276.1" r="1.6"/><circle cx="72.9" cy="285.7" r="2.3"/><circle cx="71.1" cy="273.4" r="1.6"/><circle cx="54.3" cy="265.8" r="2.3"/><circle cx="49.8" cy="264.9" r="1.7"/><circle cx="42" cy="262.8" r="1.4"/><circle cx="71.3" cy="281.5" r="1.5"/><circle cx="45.5" cy="257.4" r="1.9"/><circle cx="72.6" cy="264.4" r="1.8"/><circle cx="71.9" cy="282.2" r="2"/><circle cx="71.4" cy="286.6" r="1.9"/><circle cx="39.1" cy="278.1" r="1.6"/><circle cx="58.9" cy="258.3" r="1.4"/><circle cx="23.7" cy="324.3" r="2.1"/><circle cx="31.1" cy="294.4" r="1.8"/><circle cx="119.5" cy="300.6" r="1.8"/><circle cx="119.8" cy="334.9" r="1.8"/></g>
<g fill="#6cd048"><circle cx="62.3" cy="265.4" r="1.5"/><circle cx="40.3" cy="271.4" r="1.8"/><circle cx="71.3" cy="272.3" r="2.2"/><circle cx="48" cy="287.8" r="1.8"/><circle cx="43.6" cy="268.6" r="2"/><circle cx="41.4" cy="286.5" r="1.8"/><circle cx="38.7" cy="262.4" r="1.9"/><circle cx="40.4" cy="275.3" r="2"/><circle cx="41.8" cy="264.8" r="1.8"/><circle cx="56.6" cy="267.8" r="1.9"/><circle cx="73" cy="259" r="2.2"/><circle cx="44.4" cy="267.3" r="1.5"/><circle cx="58.2" cy="287.8" r="1.5"/><circle cx="63.2" cy="283.2" r="1.4"/><circle cx="48" cy="265" r="1.5"/><circle cx="49.1" cy="257.2" r="2"/><circle cx="27.2" cy="312.2" r="1.8"/><circle cx="28.7" cy="293.1" r="1.5"/><circle cx="25.9" cy="288.7" r="1.5"/><circle cx="86" cy="262" r="1.8"/></g>
<g fill="#5cc840"><circle cx="69.9" cy="259" r="2"/><circle cx="51.1" cy="280.8" r="2.4"/><circle cx="55.4" cy="283" r="1.8"/><circle cx="64.1" cy="272.7" r="2.2"/><circle cx="49.2" cy="259.1" r="2.3"/><circle cx="44.5" cy="258.5" r="2.4"/><circle cx="45.4" cy="267.8" r="2"/><circle cx="55" cy="286.1" r="1.5"/><circle cx="71.2" cy="284.3" r="2"/><circle cx="66" cy="273.3" r="1.8"/><circle cx="38.4" cy="279.6" r="1.6"/><circle cx="42.4" cy="279.9" r="2"/><circle cx="39.7" cy="258.7" r="2.4"/><circle cx="65.1" cy="284.8" r="1.7"/><circle cx="53.4" cy="272.2" r="1.9"/><circle cx="41.9" cy="270.7" r="2.4"/><circle cx="53" cy="276" r="1.5"/><circle cx="72.5" cy="287.1" r="2"/><circle cx="45.5" cy="263.5" r="2"/><circle cx="50.4" cy="276.3" r="2.3"/><circle cx="40.5" cy="263.4" r="2"/><circle cx="32.8" cy="293.2" r="1.8"/><circle cx="23" cy="296.2" r="1.6"/><circle cx="23.7" cy="288.4" r="2.1"/><circle cx="29.2" cy="303.2" r="1.8"/><circle cx="35.3" cy="287.6" r="2.1"/><circle cx="31" cy="300.9" r="1.9"/><circle cx="31.2" cy="296.3" r="1.9"/></g>
<g fill="#4cbc40"><circle cx="62" cy="281.9" r="1.6"/><circle cx="60.5" cy="257.3" r="2.2"/><circle cx="60.6" cy="270.9" r="1.4"/><circle cx="52.4" cy="258.6" r="1.9"/><circle cx="63.7" cy="270.1" r="1.5"/><circle cx="64.8" cy="270.5" r="1.8"/><circle cx="54.8" cy="282.9" r="1.5"/><circle cx="49.7" cy="273.6" r="1.8"/><circle cx="60.4" cy="262.8" r="1.7"/><circle cx="43.1" cy="260.6" r="1.8"/><circle cx="47.4" cy="262.7" r="2.1"/><circle cx="39.4" cy="267.6" r="1.4"/><circle cx="65.3" cy="284.2" r="2.1"/><circle cx="40.6" cy="272.4" r="2.4"/><circle cx="40" cy="284" r="2.4"/><circle cx="45.9" cy="265.9" r="2.2"/><circle cx="41.2" cy="277.1" r="2"/><circle cx="57.2" cy="266.8" r="1.8"/><circle cx="51.6" cy="282.3" r="2.2"/><circle cx="72.1" cy="277.4" r="2.2"/><circle cx="28.9" cy="289.4" r="2.2"/><circle cx="27.8" cy="294.1" r="1.5"/><circle cx="26.7" cy="310.9" r="1.6"/><circle cx="34.3" cy="319.4" r="2.2"/><circle cx="111.3" cy="326.3" r="1.6"/><circle cx="115.4" cy="308.4" r="2.2"/><circle cx="72" cy="348" r="1.6"/><circle cx="104" cy="353" r="2"/><circle cx="108" cy="348" r="2.3"/></g>
<defs><linearGradient id="gjm" gradientUnits="userSpaceOnUse" x1="36" y1="300" x2="105" y2="320"><stop offset="0" stop-color="#ffffff"/><stop offset="0.5" stop-color="#dcdce6"/><stop offset="1" stop-color="#a8a8c0"/></linearGradient></defs>
<ellipse cx="70.5" cy="311.8" rx="34.2" ry="35.6" fill="#181e4c" transform="rotate(-12 70.5 311.8)"/>
<g fill="#2a40b0"><circle cx="65.4" cy="277.3" r="1"/><circle cx="69.7" cy="276.9" r="1"/><circle cx="76.7" cy="277.7" r="0.9"/><circle cx="64.9" cy="280.1" r="0.9"/><circle cx="79.3" cy="279.4" r="1.1"/><circle cx="56.1" cy="282.7" r="0.9"/><circle cx="66.1" cy="281.7" r="0.9"/><circle cx="63.4" cy="285.3" r="1"/><circle cx="76.6" cy="284.9" r="0.8"/><circle cx="80" cy="284.4" r="0.9"/><circle cx="86.8" cy="283.7" r="1.1"/><circle cx="53.3" cy="287" r="0.8"/><circle cx="57.4" cy="287.2" r="1"/><circle cx="73.6" cy="286" r="1.1"/><circle cx="80.3" cy="287.1" r="1.1"/><circle cx="85.6" cy="286.4" r="0.9"/><circle cx="48.3" cy="289" r="0.9"/><circle cx="52.3" cy="288.9" r="1"/><circle cx="59.9" cy="290.2" r="0.9"/><circle cx="63.7" cy="289.6" r="1.1"/><circle cx="85" cy="289.9" r="0.9"/><circle cx="51.8" cy="293.4" r="0.9"/><circle cx="57" cy="292.9" r="0.9"/><circle cx="60.3" cy="291.5" r="0.9"/><circle cx="63.4" cy="291.7" r="0.9"/><circle cx="67.6" cy="292.3" r="0.8"/><circle cx="71.2" cy="292.6" r="0.8"/><circle cx="78.6" cy="292.8" r="1"/><circle cx="49.1" cy="295.4" r="0.8"/><circle cx="57.5" cy="295.1" r="0.9"/><circle cx="71.2" cy="295.2" r="0.9"/><circle cx="79.1" cy="294.8" r="0.9"/><circle cx="90.4" cy="295.2" r="0.8"/><circle cx="51.5" cy="296.8" r="0.8"/><circle cx="60.2" cy="296.4" r="0.8"/><circle cx="64.9" cy="297.9" r="0.9"/><circle cx="54.4" cy="299.7" r="0.8"/><circle cx="61.3" cy="300" r="1.1"/><circle cx="64" cy="300.5" r="0.8"/><circle cx="79.4" cy="299.8" r="0.9"/><circle cx="90.7" cy="300.9" r="0.9"/><circle cx="95.2" cy="300.9" r="1.1"/><circle cx="44.3" cy="302.9" r="1"/><circle cx="77.1" cy="303" r="1"/><circle cx="80.8" cy="302.5" r="1"/><circle cx="87.4" cy="302.5" r="0.9"/><circle cx="70.8" cy="306.3" r="0.8"/><circle cx="37.7" cy="307.9" r="0.8"/><circle cx="56.9" cy="306.9" r="0.9"/><circle cx="74.3" cy="307.9" r="0.9"/><circle cx="85.4" cy="306.7" r="1"/><circle cx="88.6" cy="308.3" r="1"/><circle cx="95.7" cy="308.1" r="0.8"/><circle cx="98.2" cy="307.9" r="1.1"/><circle cx="53.2" cy="311" r="0.8"/><circle cx="64.3" cy="310.5" r="1"/><circle cx="91.8" cy="310.3" r="1"/><circle cx="100.7" cy="311.3" r="1"/><circle cx="45.8" cy="311.8" r="1.1"/><circle cx="53.9" cy="314.1" r="1"/><circle cx="56.2" cy="313.3" r="1"/><circle cx="61.9" cy="312.6" r="0.9"/><circle cx="71.7" cy="312.4" r="1"/><circle cx="74.9" cy="313.5" r="1.1"/><circle cx="39.3" cy="315" r="1.1"/><circle cx="43.6" cy="314.8" r="0.9"/><circle cx="68.9" cy="314.8" r="0.8"/><circle cx="80.3" cy="316.2" r="0.9"/><circle cx="85.2" cy="315.6" r="1"/><circle cx="98.1" cy="315.2" r="0.9"/><circle cx="40.5" cy="318.6" r="1"/><circle cx="53.8" cy="318.9" r="0.9"/><circle cx="79.7" cy="317.5" r="0.9"/><circle cx="86.1" cy="318.3" r="1.1"/><circle cx="88.7" cy="317.4" r="0.9"/><circle cx="39.9" cy="320.7" r="0.9"/><circle cx="67.6" cy="321.6" r="0.9"/><circle cx="75.7" cy="321.2" r="1.1"/><circle cx="79.7" cy="321.4" r="0.8"/><circle cx="100.2" cy="320.3" r="1"/><circle cx="41.7" cy="322.9" r="1"/><circle cx="55.8" cy="324.7" r="1"/><circle cx="65.7" cy="323.6" r="0.9"/><circle cx="71.4" cy="322.9" r="1"/><circle cx="74.1" cy="323" r="0.8"/><circle cx="78.3" cy="323.2" r="0.8"/><circle cx="85.8" cy="323.5" r="1"/><circle cx="98.7" cy="324.2" r="0.8"/><circle cx="48.5" cy="325.2" r="0.8"/><circle cx="84.9" cy="326.1" r="0.9"/><circle cx="47" cy="328.2" r="1"/><circle cx="69.5" cy="329" r="0.9"/><circle cx="81.7" cy="328.5" r="1"/><circle cx="54.2" cy="331.2" r="1"/><circle cx="61.6" cy="332" r="1.1"/><circle cx="87.4" cy="331.5" r="1"/><circle cx="94.9" cy="331.4" r="1"/><circle cx="49.8" cy="334.2" r="1"/><circle cx="70.9" cy="333.7" r="0.9"/><circle cx="74.1" cy="333.5" r="1"/><circle cx="77.3" cy="333.3" r="1.1"/><circle cx="88.9" cy="332.8" r="1.1"/><circle cx="94.6" cy="333.7" r="1.1"/><circle cx="49.1" cy="335.8" r="1"/><circle cx="53.3" cy="336.7" r="0.8"/><circle cx="64.6" cy="335.4" r="1.1"/><circle cx="66.8" cy="336.3" r="1"/><circle cx="70" cy="336.8" r="0.9"/><circle cx="73.3" cy="336.8" r="0.8"/><circle cx="87.6" cy="336.2" r="0.9"/><circle cx="94.6" cy="335.9" r="1"/><circle cx="49.8" cy="338.2" r="1"/><circle cx="57.4" cy="340.6" r="0.8"/><circle cx="60.2" cy="342.2" r="1.1"/><circle cx="77" cy="343.9" r="0.8"/><circle cx="79.8" cy="343.4" r="1.1"/></g>
<g fill="#3048b0"><circle cx="71.4" cy="276" r="1"/><circle cx="60.8" cy="279.6" r="1"/><circle cx="85.1" cy="280.3" r="1"/><circle cx="58.9" cy="280.9" r="0.9"/><circle cx="68" cy="282.4" r="0.8"/><circle cx="74.1" cy="282.8" r="0.8"/><circle cx="57.5" cy="285" r="0.9"/><circle cx="66.1" cy="284.7" r="0.9"/><circle cx="81.9" cy="283.3" r="1.1"/><circle cx="51.3" cy="287.9" r="0.8"/><circle cx="70.7" cy="287.3" r="0.9"/><circle cx="45.8" cy="290.7" r="0.8"/><circle cx="55.2" cy="288.8" r="0.9"/><circle cx="66.7" cy="290.6" r="0.9"/><circle cx="70.3" cy="289.2" r="0.8"/><circle cx="75.5" cy="289.7" r="1.1"/><circle cx="89.1" cy="288.9" r="1.1"/><circle cx="94.6" cy="288.8" r="0.9"/><circle cx="43.8" cy="291.9" r="0.9"/><circle cx="88.6" cy="292.6" r="0.8"/><circle cx="63.7" cy="295.8" r="0.9"/><circle cx="68" cy="294.2" r="1.1"/><circle cx="84.8" cy="294.7" r="1.1"/><circle cx="93.2" cy="294.5" r="1"/><circle cx="72.1" cy="297.5" r="0.9"/><circle cx="74.7" cy="297.6" r="1.1"/><circle cx="80.4" cy="298.3" r="1"/><circle cx="84.5" cy="296.1" r="1"/><circle cx="42.8" cy="299.1" r="1.1"/><circle cx="48.9" cy="300.5" r="0.9"/><circle cx="72.7" cy="299.8" r="1"/><circle cx="76.2" cy="299.6" r="0.9"/><circle cx="81.3" cy="300.4" r="0.9"/><circle cx="89" cy="300.2" r="0.9"/><circle cx="100.7" cy="299.6" r="0.9"/><circle cx="38" cy="303.5" r="1"/><circle cx="41.7" cy="303.5" r="1"/><circle cx="51" cy="302.3" r="0.9"/><circle cx="56.1" cy="303.8" r="1.1"/><circle cx="58.7" cy="303.5" r="0.9"/><circle cx="68.5" cy="302.5" r="0.9"/><circle cx="90.2" cy="303.6" r="0.9"/><circle cx="102.2" cy="303.1" r="0.9"/><circle cx="37.3" cy="305.1" r="1"/><circle cx="55.6" cy="304.8" r="0.9"/><circle cx="57.5" cy="305.1" r="0.8"/><circle cx="63.5" cy="305.4" r="0.9"/><circle cx="66.1" cy="304.5" r="0.9"/><circle cx="85.4" cy="304.3" r="1.1"/><circle cx="94.5" cy="304.5" r="1.1"/><circle cx="100.2" cy="304.8" r="0.9"/><circle cx="102.7" cy="305.6" r="1"/><circle cx="47.5" cy="308.6" r="0.9"/><circle cx="61.9" cy="307.8" r="1.1"/><circle cx="65.1" cy="308.5" r="1.1"/><circle cx="70.5" cy="308.4" r="1.1"/><circle cx="80.3" cy="308.6" r="1"/><circle cx="101.3" cy="307.9" r="1"/><circle cx="36.4" cy="309" r="1"/><circle cx="49" cy="309.8" r="1"/><circle cx="58.6" cy="310.4" r="0.9"/><circle cx="60.8" cy="310" r="1"/><circle cx="67.1" cy="310.6" r="0.8"/><circle cx="72.4" cy="309.4" r="1"/><circle cx="81.7" cy="309.9" r="1.1"/><circle cx="85.7" cy="311.3" r="0.9"/><circle cx="94" cy="310.2" r="1"/><circle cx="46.8" cy="312.6" r="1.1"/><circle cx="51.1" cy="311.9" r="0.8"/><circle cx="67.7" cy="313" r="1.1"/><circle cx="76.6" cy="312.3" r="0.9"/><circle cx="82.8" cy="313.6" r="0.8"/><circle cx="86.1" cy="314.3" r="0.9"/><circle cx="89.4" cy="312.4" r="0.9"/><circle cx="37.1" cy="316.3" r="0.9"/><circle cx="63.2" cy="314.9" r="0.8"/><circle cx="68.1" cy="316" r="1.1"/><circle cx="72.4" cy="315" r="1"/><circle cx="77" cy="315.9" r="1"/><circle cx="99.6" cy="314.6" r="0.8"/><circle cx="43.5" cy="318.9" r="1.1"/><circle cx="57.1" cy="318.7" r="0.8"/><circle cx="58.4" cy="319" r="0.8"/><circle cx="61.6" cy="317.4" r="0.8"/><circle cx="92.8" cy="317.9" r="0.8"/><circle cx="44" cy="320.2" r="1"/><circle cx="45.9" cy="321.3" r="1.1"/><circle cx="54.6" cy="320" r="0.9"/><circle cx="58.5" cy="321.5" r="0.9"/><circle cx="63.3" cy="320.5" r="1.1"/><circle cx="94.1" cy="319.7" r="0.9"/><circle cx="80.6" cy="322.8" r="1"/><circle cx="88.6" cy="322.2" r="0.9"/><circle cx="96.2" cy="323.5" r="0.9"/><circle cx="87" cy="325.4" r="1.1"/><circle cx="95.2" cy="326.8" r="1"/><circle cx="100.2" cy="326.9" r="1.1"/><circle cx="41.2" cy="327.7" r="0.8"/><circle cx="45.1" cy="327.7" r="1"/><circle cx="56.2" cy="329.4" r="1.1"/><circle cx="73.9" cy="328.7" r="0.9"/><circle cx="89.7" cy="328.8" r="1"/><circle cx="94.9" cy="327.6" r="1"/><circle cx="98.6" cy="328.5" r="1"/><circle cx="44.1" cy="331.7" r="0.9"/><circle cx="81.7" cy="330.2" r="0.8"/><circle cx="90.9" cy="331.3" r="1.1"/><circle cx="54.6" cy="333.5" r="1"/><circle cx="64.7" cy="334.2" r="1"/><circle cx="86.3" cy="333.3" r="1.1"/><circle cx="45.3" cy="335.7" r="1"/><circle cx="61.2" cy="336.9" r="1.1"/><circle cx="78" cy="335.7" r="1.1"/><circle cx="47.9" cy="338" r="0.9"/><circle cx="55.2" cy="340.2" r="1"/><circle cx="60.5" cy="338.8" r="0.9"/><circle cx="69.2" cy="339.4" r="1"/><circle cx="76.9" cy="339.8" r="0.8"/><circle cx="82.5" cy="338.7" r="1"/><circle cx="67.7" cy="340.7" r="1.1"/><circle cx="73.7" cy="342.4" r="0.9"/><circle cx="75.6" cy="341.7" r="1.1"/><circle cx="86" cy="342.7" r="1"/><circle cx="55.4" cy="343.3" r="1"/><circle cx="59.2" cy="344.4" r="0.9"/><circle cx="62.5" cy="344.5" r="0.9"/><circle cx="74.1" cy="343.2" r="1"/><circle cx="83.5" cy="343.1" r="1"/></g>
<g fill="#2c48bc"><circle cx="73.6" cy="277.6" r="1"/><circle cx="67.8" cy="280.4" r="1.1"/><circle cx="70.6" cy="280.4" r="1"/><circle cx="72.1" cy="278.9" r="1.1"/><circle cx="53.9" cy="281.4" r="1"/><circle cx="62" cy="282" r="1"/><circle cx="76.7" cy="280.9" r="1"/><circle cx="88.8" cy="282.5" r="1"/><circle cx="52" cy="283.6" r="0.8"/><circle cx="55.8" cy="283.4" r="1"/><circle cx="70.9" cy="283.8" r="1.1"/><circle cx="90.6" cy="283.2" r="0.9"/><circle cx="63.6" cy="286.2" r="0.9"/><circle cx="65.8" cy="286.5" r="1.1"/><circle cx="76.7" cy="287.4" r="0.9"/><circle cx="92.5" cy="287" r="0.9"/><circle cx="59.3" cy="289.2" r="0.9"/><circle cx="72.2" cy="289.4" r="0.8"/><circle cx="80.9" cy="289.6" r="1"/><circle cx="91.1" cy="288.5" r="0.9"/><circle cx="48.4" cy="293.1" r="0.9"/><circle cx="54.2" cy="293.1" r="1"/><circle cx="65.2" cy="292.9" r="1"/><circle cx="74.8" cy="293.3" r="1"/><circle cx="79.3" cy="292.5" r="0.8"/><circle cx="87.3" cy="292" r="0.9"/><circle cx="92.9" cy="293" r="1"/><circle cx="42.1" cy="294.1" r="0.9"/><circle cx="52.3" cy="294.6" r="0.8"/><circle cx="54.4" cy="294" r="1"/><circle cx="61.6" cy="296" r="1.1"/><circle cx="75.6" cy="294.4" r="1"/><circle cx="88.3" cy="294.4" r="0.8"/><circle cx="96" cy="293.6" r="1"/><circle cx="45" cy="297.7" r="0.9"/><circle cx="53.5" cy="298.6" r="1.1"/><circle cx="61.7" cy="297.8" r="0.9"/><circle cx="69.2" cy="296.8" r="1"/><circle cx="89.8" cy="297.3" r="1"/><circle cx="91.7" cy="297.1" r="0.8"/><circle cx="98.3" cy="297.8" r="1"/><circle cx="51.6" cy="301.1" r="1"/><circle cx="66.6" cy="300.6" r="0.9"/><circle cx="70.5" cy="300.1" r="1"/><circle cx="84.5" cy="302" r="1"/><circle cx="91.7" cy="302.6" r="1"/><circle cx="95.5" cy="302.3" r="1"/><circle cx="97.8" cy="302.7" r="0.8"/><circle cx="40" cy="306.5" r="0.9"/><circle cx="43.4" cy="306.4" r="1"/><circle cx="45.7" cy="305.5" r="0.9"/><circle cx="48.1" cy="304.8" r="0.9"/><circle cx="52.2" cy="305.8" r="0.8"/><circle cx="72.6" cy="304.3" r="0.8"/><circle cx="74.9" cy="304.1" r="1.1"/><circle cx="79.9" cy="305.9" r="1"/><circle cx="81.5" cy="305.3" r="0.9"/><circle cx="88.7" cy="305.9" r="0.8"/><circle cx="97.7" cy="304.8" r="1"/><circle cx="40.8" cy="308.8" r="1"/><circle cx="51.5" cy="308" r="1"/><circle cx="60.2" cy="308.8" r="0.9"/><circle cx="76.7" cy="306.6" r="1"/><circle cx="91.9" cy="307.4" r="0.9"/><circle cx="39.4" cy="310.9" r="1"/><circle cx="47.1" cy="310.3" r="1"/><circle cx="55.4" cy="310.7" r="0.9"/><circle cx="75.5" cy="309.4" r="0.8"/><circle cx="88.2" cy="311" r="1"/><circle cx="102.3" cy="309.9" r="0.9"/><circle cx="39.3" cy="312.8" r="1.1"/><circle cx="42.6" cy="311.8" r="0.9"/><circle cx="59.5" cy="313.3" r="0.9"/><circle cx="66.5" cy="313.3" r="0.8"/><circle cx="96.4" cy="313.3" r="0.9"/><circle cx="98.9" cy="312.1" r="0.9"/><circle cx="103.7" cy="312.2" r="0.8"/><circle cx="46.3" cy="315.8" r="0.8"/><circle cx="52.1" cy="315.6" r="1.1"/><circle cx="55.8" cy="314.9" r="1"/><circle cx="61.2" cy="316.5" r="0.9"/><circle cx="90.5" cy="315.8" r="1"/><circle cx="93.1" cy="314.6" r="0.9"/><circle cx="103.5" cy="316.3" r="1"/><circle cx="50.2" cy="318.7" r="1"/><circle cx="69.4" cy="317.7" r="0.9"/><circle cx="82.7" cy="317.2" r="0.9"/><circle cx="94.6" cy="318.5" r="0.9"/><circle cx="48.7" cy="321.5" r="0.9"/><circle cx="61.7" cy="321.5" r="1"/><circle cx="69.4" cy="321.5" r="0.9"/><circle cx="73.6" cy="321.8" r="0.8"/><circle cx="82.3" cy="321.5" r="0.9"/><circle cx="45.4" cy="323" r="1.1"/><circle cx="59.5" cy="322.1" r="1"/><circle cx="63" cy="322.9" r="0.9"/><circle cx="100.3" cy="322.5" r="0.8"/><circle cx="39.9" cy="325.2" r="1"/><circle cx="43.4" cy="325.1" r="0.8"/><circle cx="45.1" cy="325" r="0.9"/><circle cx="55.1" cy="326.4" r="1.1"/><circle cx="61.1" cy="326.4" r="0.9"/><circle cx="66.9" cy="327" r="1"/><circle cx="72.7" cy="326.9" r="1"/><circle cx="76" cy="325.6" r="0.8"/><circle cx="59" cy="327.4" r="0.9"/><circle cx="77.5" cy="327.7" r="1"/><circle cx="82.9" cy="328.9" r="1"/><circle cx="85.6" cy="327.4" r="0.8"/><circle cx="48.2" cy="331.4" r="0.9"/><circle cx="57.5" cy="330.7" r="1.1"/><circle cx="79.4" cy="331.1" r="0.8"/><circle cx="86.1" cy="331.5" r="1.1"/><circle cx="46.7" cy="333.1" r="1"/><circle cx="56" cy="332.8" r="0.9"/><circle cx="58.7" cy="333.8" r="0.8"/><circle cx="63.7" cy="333.1" r="0.8"/><circle cx="83.8" cy="334.7" r="1"/><circle cx="92.9" cy="334.1" r="0.9"/><circle cx="56.1" cy="337.5" r="0.9"/><circle cx="58.8" cy="336.8" r="0.8"/><circle cx="81" cy="335.8" r="0.8"/><circle cx="61.8" cy="339.9" r="1"/><circle cx="66.8" cy="338.1" r="1"/><circle cx="72.3" cy="338.2" r="1.1"/><circle cx="55.8" cy="341.1" r="1"/><circle cx="63.3" cy="342" r="1"/><circle cx="78.7" cy="341.5" r="0.9"/><circle cx="82.4" cy="340.9" r="0.9"/></g>
<g fill="#24389c"><circle cx="76.3" cy="279.7" r="0.9"/><circle cx="70.9" cy="281.6" r="1.1"/><circle cx="80.1" cy="281.3" r="0.9"/><circle cx="83.9" cy="282.3" r="0.9"/><circle cx="87.3" cy="281.8" r="0.9"/><circle cx="61.8" cy="285.6" r="1"/><circle cx="72.4" cy="285" r="0.9"/><circle cx="84.7" cy="285.4" r="0.9"/><circle cx="47.6" cy="286.6" r="0.9"/><circle cx="58.8" cy="288.2" r="1"/><circle cx="67.5" cy="286.2" r="0.9"/><circle cx="83.7" cy="286.3" r="0.8"/><circle cx="88.2" cy="286.7" r="1.1"/><circle cx="79.2" cy="289.8" r="0.8"/><circle cx="82.7" cy="293.1" r="0.8"/><circle cx="95.6" cy="291.2" r="1.1"/><circle cx="46.5" cy="294.4" r="1"/><circle cx="73.9" cy="295.2" r="0.8"/><circle cx="81" cy="295.5" r="0.8"/><circle cx="99.5" cy="294.6" r="1.1"/><circle cx="41.4" cy="297.8" r="1"/><circle cx="47.7" cy="298.1" r="1"/><circle cx="56.7" cy="296.7" r="1"/><circle cx="77.1" cy="296.7" r="1.1"/><circle cx="85.5" cy="297.1" r="1"/><circle cx="95.5" cy="297.8" r="0.9"/><circle cx="38.9" cy="300" r="1"/><circle cx="47.1" cy="300.6" r="1.1"/><circle cx="57.1" cy="300.5" r="1"/><circle cx="85" cy="299.8" r="1"/><circle cx="96.5" cy="300.4" r="0.9"/><circle cx="46.7" cy="302.1" r="0.9"/><circle cx="53.6" cy="301.7" r="1.1"/><circle cx="61.4" cy="302.7" r="1"/><circle cx="66.2" cy="303.1" r="1"/><circle cx="72.1" cy="303.2" r="1"/><circle cx="75.1" cy="302.5" r="0.9"/><circle cx="61.1" cy="304.1" r="1"/><circle cx="90.4" cy="305.8" r="0.8"/><circle cx="44.2" cy="307.7" r="0.9"/><circle cx="52.7" cy="307.4" r="0.9"/><circle cx="67.3" cy="308.2" r="0.8"/><circle cx="83.6" cy="308.6" r="1.1"/><circle cx="104" cy="307.4" r="1"/><circle cx="42.6" cy="309.5" r="1.1"/><circle cx="70.8" cy="311.3" r="0.8"/><circle cx="79.8" cy="310.7" r="1.1"/><circle cx="97.7" cy="311.2" r="1.1"/><circle cx="80.7" cy="312.1" r="1.1"/><circle cx="93.1" cy="312.3" r="1.1"/><circle cx="100.7" cy="313.9" r="1.1"/><circle cx="49.8" cy="314.4" r="0.9"/><circle cx="58.7" cy="314.9" r="0.9"/><circle cx="82.4" cy="315" r="1.1"/><circle cx="87" cy="315.4" r="1"/><circle cx="38.6" cy="317.5" r="0.8"/><circle cx="46.3" cy="317.5" r="0.8"/><circle cx="64.3" cy="317.2" r="0.9"/><circle cx="70.4" cy="316.9" r="1"/><circle cx="75.4" cy="318.6" r="0.9"/><circle cx="78.5" cy="317.2" r="1"/><circle cx="98.5" cy="318.1" r="0.9"/><circle cx="101.6" cy="317.1" r="1"/><circle cx="38" cy="321.1" r="0.9"/><circle cx="52.6" cy="319.8" r="0.9"/><circle cx="86.3" cy="321.8" r="0.8"/><circle cx="88.5" cy="322.1" r="1"/><circle cx="90.1" cy="320.8" r="0.9"/><circle cx="97.8" cy="319.6" r="1"/><circle cx="102.8" cy="321" r="1"/><circle cx="47.9" cy="322.7" r="0.9"/><circle cx="49.5" cy="322" r="0.9"/><circle cx="52.5" cy="322.7" r="0.8"/><circle cx="69.6" cy="324.6" r="0.8"/><circle cx="84.2" cy="324.6" r="0.9"/><circle cx="92.4" cy="322.5" r="0.9"/><circle cx="52.3" cy="325" r="0.9"/><circle cx="57.6" cy="324.9" r="1"/><circle cx="64.6" cy="325.9" r="0.9"/><circle cx="70.4" cy="326.9" r="0.8"/><circle cx="78" cy="326.2" r="1"/><circle cx="81.6" cy="325.9" r="1.1"/><circle cx="91.3" cy="326.2" r="1.1"/><circle cx="96.7" cy="325.9" r="0.8"/><circle cx="50.9" cy="329" r="1.1"/><circle cx="53.6" cy="328.3" r="0.8"/><circle cx="63.6" cy="328.3" r="1"/><circle cx="64.5" cy="327.5" r="1.1"/><circle cx="70.3" cy="328.9" r="0.9"/><circle cx="93.6" cy="329.2" r="0.8"/><circle cx="45.1" cy="331.2" r="1.1"/><circle cx="52.9" cy="332" r="0.8"/><circle cx="63.4" cy="331.1" r="1.1"/><circle cx="67.5" cy="331.9" r="1.1"/><circle cx="70" cy="330.1" r="0.9"/><circle cx="72.2" cy="330.3" r="0.8"/><circle cx="76.5" cy="331.2" r="1.1"/><circle cx="97.8" cy="332.3" r="0.9"/><circle cx="44.5" cy="334.3" r="1.1"/><circle cx="68" cy="334.9" r="1.1"/><circle cx="80.7" cy="332.7" r="1.1"/><circle cx="76.3" cy="337.2" r="1.1"/><circle cx="85.7" cy="335.7" r="0.8"/><circle cx="91.4" cy="335.7" r="1"/><circle cx="53.7" cy="338.9" r="0.8"/><circle cx="73.9" cy="338.2" r="0.8"/><circle cx="81.3" cy="338.8" r="0.8"/><circle cx="86.1" cy="339.5" r="1"/><circle cx="90" cy="339.3" r="0.9"/><circle cx="92.6" cy="338.6" r="1"/><circle cx="69" cy="341.2" r="1"/><circle cx="64.8" cy="343.2" r="0.8"/><circle cx="68.8" cy="343.5" r="1"/><circle cx="71.3" cy="343.8" r="1"/><circle cx="71.8" cy="345.9" r="1"/></g>
<path d="M41.9 320.5L39.8 323M41.9 320.5L39.2 319.2M39.2 319.2L38.7 319.4M38.7 319.4L38.9 323M39.8 323L38.9 323M41.5 324.5L39.8 323M41.5 324.5L41.6 325.7M39.5 307.8L39.1 309M39.5 307.8L38.4 306.4M38.1 309.7L39.1 309M42.4 316.9L44.4 316.9M42.4 316.9L42 320.2M42 320.2L45.3 318.8M44.4 316.9L45.3 318.8M51.6 285.8L50.1 285.6M51.6 285.8L53.8 284.8M53.8 284.8L53.8 283.8M49.4 287.2L50.5 290.4M49.4 287.2L50.1 285.6M52.3 287.8L50.5 290.4M52.3 287.8L51.6 285.8M46.5 292.4L48 290.8M46.5 292.4L45.5 292.6M48 290.8L46.3 288.4M44.3 293.9L45.5 292.6M49.4 287.2L46.3 288.4M102.7 308.2L100.4 309.5M100.4 309.5L102.5 311.3M73.1 344.7L72.6 343.1M73.1 344.7L70.1 345.3M72.6 343.1L71.4 341.7M71.4 341.7L70.2 342.6M70.2 342.6L70.1 345.3M41.6 325.7L43.1 326.9M43.1 326.9L43 329.5M93.5 318.8L95.9 319.6M93.5 318.8L94 316.4M96.5 316.9L95.6 315.9M96.5 316.9L96.6 318.2M96.6 318.2L95.9 319.6M94 316.4L95.2 315.8M95.2 315.8L95.6 315.9M99.3 316.4L98.4 313.6M99.3 316.4L96.5 316.9M98 313.5L98.4 313.6M98 313.5L95.6 315.9M91.5 329.5L92.9 330.9M91.5 329.5L91.7 328.2M92.9 330.9L95.4 329.5M95.4 329.5L92.9 327.3M91.7 328.2L92.9 327.3M90.7 337.8L89.7 337.4M89.7 337.4L88 338.5M88 338.5L87.8 341M90.7 337.8L92.8 336.9M73.1 344.7L75 346.1M53.8 283.8L54.5 283.1M63 278.5L62.8 279.7M60.4 281.3L62.8 279.7M63 278.5L66.4 278.8M66.4 278.8L66.5 279.9M66.5 279.9L64.1 282.3M62.8 279.7L64.1 282.3M67.3 281.1L66.5 279.9M67.3 281.1L66.5 283.1M64.1 282.9L64.1 282.3M64.1 282.9L64.6 283.2M66.5 283.1L64.6 283.2M63.6 307.2L65.4 306.4M63.6 307.2L63.2 308.7M65.4 306.4L66.2 306.7M66.2 309.1L66.2 306.7M66.2 309.1L65.6 309.8M65.6 309.8L63.2 308.7M41.1 310.3L39.1 309M41.1 310.3L42.2 307.7M39.5 307.8L41.6 307.2M42.2 307.7L41.6 307.2M39.6 304.3L41.6 305.4M39.6 304.3L39.1 304.7M39.1 304.7L38.4 306.4M41.6 307.2L41.6 305.4M41.9 320.5L42 320.2M41.9 320.5L41.9 320.5M39.2 319.2L40.4 316.8M42.4 316.9L41.7 316.3M41.7 316.3L40.4 316.8M40.4 316.8L38.4 316M48.5 316.4L44.5 316.9M48.5 316.4L47.9 314.5M44.5 316.9L45.5 314.1M47.9 314.5L45.5 314.1M50.5 290.4L50.5 290.7M48 290.8L50 291M50 291L50.5 290.7M41.3 301.1L41 299.8M41.3 301.1L39.9 301.9M39.6 304.3L39.9 301.9M42.4 301.4L41.3 301.1M42.4 301.4L43.1 304.4M41.6 305.4L43.1 304.4M43.1 296.1L43.2 297.2M43.2 297.2L41 299.8M44.3 293.9L44.3 295.1M44.3 295.1L43.1 296.1M88.9 284.3L87.6 282.8M100.4 312.3L99 313.5M100.4 312.3L101.9 312.6M99 313.5L101.5 315.2M101.9 312.6L102.6 314.3M102.6 314.3L101.7 315.2M101.7 315.2L101.5 315.2M99.7 316.6L101.5 315.2M99.7 316.6L99.3 316.4M98.4 313.6L99 313.5M102.5 311.3L101.9 312.6M103.1 318.8L101.7 315.2M94.7 312.2L94.4 313.3M94.7 312.2L95.7 311.4M94.4 313.3L95.2 315.8M98 313.5L97.8 313.1M95.7 311.4L97.8 313.1M100.4 312.3L99.2 310M97.8 313.1L99.2 310M100.4 309.5L99.5 309.5M99.5 309.5L99.2 309.7M99.2 310L99.2 309.7M99.5 309.5L99.7 306.6M98.7 306.1L99.7 306.6M98.7 306.1L96.6 306.2M99.2 309.7L97.3 309.5M96.6 306.2L97.3 309.5M95.7 311.4L95.9 310.4M95.9 310.4L97.3 309.5M102.6 307.4L101.1 306.1M101.1 306.1L101.7 304.6M102.7 308.2L102.6 307.4M99.7 306.6L101.1 306.1M92.8 288.6L90.6 286.5M90.7 285.7L90.6 286.5M88.9 284.3L88.9 284.5M88.9 284.5L90.7 285.7M74.1 340.1L75 339.6M74.1 340.1L74.7 342.3M75 339.6L77.1 341.4M74.7 342.3L75.6 343M75.6 343L77.1 342M77.1 341.4L77.1 342M78.9 338.2L75.5 338.6M78.9 338.2L79.1 339.2M75.5 338.6L75 339.6M79.1 339.2L77.1 341.4M72.6 343.1L74.7 342.3M75 346.1L75.6 343M78.2 342.9L77.1 342M69.2 332.9L69.8 334.9M69.2 332.9L66.5 333.3M69.8 334.9L68.7 336M66.5 333.3L66.4 334.8M66.4 334.8L68.7 336M70.2 342.6L68 342.3M67.1 342.7L68 342.3M63.6 343.5L65.3 340.8M67.1 342.7L65.3 340.8M70.6 338.6L71.2 340.1M70.6 338.6L71.7 336.8M71.7 336.8L73 337.4M73 337.4L73.2 340.1M71.2 340.1L71.7 340.6M71.7 340.6L73.2 340.1M72.7 334.8L71.6 335.6M72.7 334.8L75.3 335.1M71.6 335.6L71.7 336.8M75 337.2L75.3 335.1M75 337.2L73 337.4M75.5 338.6L75 337.2M74.1 340.1L73.2 340.1M71.4 341.7L71.7 340.6M68.6 340.5L68 342.3M68.6 340.5L71.2 340.1M57.7 342.8L57.9 342.7M57.9 342.7L60.8 343.5M63.6 343.5L61.7 342.6M61.7 342.6L60.8 343.5M43 329.5L43.3 329.5M43.3 329.5L45.2 332.8M45.7 334.1L45.4 332.8M45.2 332.8L45.4 332.8M96.8 327.8L96.4 329.6M96.8 327.8L98.2 326.7M96.7 329.9L96.4 329.6M101.1 324.7L98.3 326.1M98.3 326.1L98.2 326.7M99.1 319.3L98.7 321.6M99.1 319.3L100.2 318.5M98.7 321.6L101.2 321.3M101.2 321.3L101.9 319.1M101.9 319.1L100.2 318.5M99.7 316.6L100.2 318.5M96.6 318.2L99.1 319.3M101.1 324.7L98.2 322.1M98.2 322.1L98.7 321.6M103.1 318.8L101.9 319.1M93.4 332.4L94.1 334.9M93.4 332.4L96 332.6M92.9 335.7L94.1 334.9M92.9 335.7L90.9 333.6M90.9 333.6L92.9 332.1M92.9 332.1L93.4 332.4M92.9 330.9L92.9 332.1M95.4 329.5L96.4 329.6M96.7 329.9L96 332.6M92.8 336.9L92.9 335.7M89.4 321.4L90.6 322.3M89.4 321.4L88.2 319.6M92.1 319.9L92.2 320.6M92.1 319.9L90.6 318.5M88.2 319.6L90.6 318.5M90.6 322.3L92.2 320.6M84.1 339.8L82.3 339.8M84.1 339.8L84.6 340.8M84.2 341.6L84.6 340.8M84.2 341.6L81.6 342.6M82.3 339.8L80.6 340.8M81.6 342.6L80.7 341.4M80.6 340.8L80.7 341.4M81.7 337.2L83 336.5M81.7 337.2L82.3 339.8M84.6 337.6L84.1 339.8M84.6 337.6L83.9 336.7M83.9 336.7L83 336.5M88 338.5L86.7 337.6M86.7 337.6L84.6 337.6M87.8 341L84.6 340.8M78.2 342.9L80.7 341.4M79.1 339.2L80.6 340.8M83.7 327.4L84.9 329.6M83.7 327.4L86.4 326.4M84.9 329.6L87 329.3M87.9 327.3L86.4 326.4M87.9 327.3L87.5 329.2M87.5 329.2L87 329.3M91.5 329.5L89.2 330.6M91.7 328.2L89 326.4M89 326.4L87.9 327.3M89.2 330.6L87.5 329.2M81.6 329.3L83.2 327.2M81.6 329.3L80.3 329.5M83.2 327.2L79.7 327.2M79.7 327.2L79.4 328.8M79.4 328.8L80.3 329.5M83.8 331.1L84.9 329.6M83.8 331.1L81.6 329.3M83.3 327.2L83.2 327.2M83.3 327.2L83.7 327.4M80.6 331.4L83.3 332.2M80.6 331.4L80.3 329.5M83.8 331.1L83.6 332M83.6 332L83.3 332.2M90.9 333.6L90.8 333.6M89.2 330.6L89.2 330.7M90.8 333.6L89.2 330.7M89.7 337.4L89.3 334.8M90.8 333.6L89.3 334.8M78.4 315.4L76.8 317.7M78.4 315.4L79.4 316.7M76.8 317.7L77.5 319.4M77.5 319.4L78 319.7M79.4 316.7L78 319.7M69.4 278.7L70.2 278.3M69.4 278.7L67.5 277.8M70.8 277.8L70.2 278.3M66.4 278.8L67.5 277.8M72.3 277.7L70.8 277.8M53.8 284.8L55.1 285.7M54.5 283.1L58.1 283.1M55.1 285.7L58.1 283.1M58.1 283.1L58.1 283.1M53.8 288.6L53.9 290.6M53.8 288.6L55.3 286.9M55.3 286.9L57.1 288.8M53.9 290.6L55.5 291.1M55.5 291.1L57 290.5M57 290.5L57.1 288.8M52.3 287.8L53.8 288.6M52.5 291.2L50.5 290.7M52.5 291.2L53.9 290.6M55.1 285.7L55.2 286M55.2 286L55.3 286.9M55.4 293L56.1 294.1M55.4 293L55.5 291.1M56.1 294.1L59.2 293.7M59.2 293.7L58.1 291M58.1 291L57 290.5M54.9 308.4L54.8 306.9M54.9 308.4L53.9 309.2M53.9 309.2L52.8 309.2M51.5 306.7L52.8 309.2M51.5 306.7L54.3 306.2M54.3 306.2L54.8 306.9M42.4 307.8L44.5 306.3M42.4 307.8L44.7 309.8M44.7 309.8L45.5 308.9M45.5 308.9L45.9 307.5M45.9 307.5L44.5 306.3M42.2 307.7L42.4 307.8M43.1 304.4L44.2 304.8M44.5 306.3L44.2 304.8M50.4 304.3L48.8 302.5M50.4 304.3L50.1 306.1M48.8 302.5L48.8 302.5M50.1 306.1L49.3 306.9M49.3 306.9L47.4 306.6M47.4 306.6L46.4 304.1M48.8 302.5L46.4 304.1M45.9 307.5L47.4 306.6M44.2 304.8L45.7 304M45.7 304L46.4 304.1M44.5 316.9L44.4 316.9M41.7 316.3L41.6 314.1M45.5 314.1L45.2 313.7M45.2 313.7L44.1 313.1M41.6 314.1L44.1 313.1M41.1 310.3L41.3 310.8M44.7 309.8L44.6 310M44.6 310L44 310.7M41.3 310.8L44 310.7M44.6 310L46.7 311.5M46.7 311.5L45.2 313.7M44 310.7L44.1 313.1M47.8 309.6L48.1 311.5M47.8 309.6L49.3 307.9M49.3 307.9L51 310.1M51 310.1L48.7 312M48.7 312L48.1 311.5M45.5 308.9L47.8 309.6M46.7 311.5L48.1 311.5M49.3 306.9L49.3 307.9M51.5 306.7L50.1 306.1M51 310.1L52.8 309.2M51 310.1L51 310.1M47.9 314.5L48.8 312.8M48.8 312.8L48.7 312M55.4 293L53.4 294M56.1 294.1L55.8 295.3M55.8 295.3L54.4 296.5M54.4 296.5L54 296.3M54 296.3L53.4 294M52.5 291.2L52.8 293.6M53.4 294L52.8 293.6M49.8 293.7L50.8 294.6M49.8 293.7L48.2 294.4M48.2 294.4L47.3 296.2M50.9 295.3L50.8 294.6M50.9 295.3L49.5 297.3M47.3 296.2L49.5 297.3M50 291L49.8 293.7M52.8 293.6L50.8 294.6M46.5 292.4L48.2 294.4M44.3 295.1L46.9 296.4M46.9 296.4L47.3 296.2M54 296.3L53.3 296.6M53.3 296.6L50.9 295.3M49.9 298.3L49.5 297.3M49.9 298.3L50.8 299M53.3 296.6L51.5 298.9M50.8 299L51.5 298.9M87.6 282.8L85.6 282.7M86.1 285.1L85.2 283.6M86.1 285.1L86.9 285.5M88.9 284.5L86.9 285.5M85.2 283.6L85.6 282.7M85.5 281.7L85.6 282.7M82.2 279.4L82.4 280.1M85.5 281.7L82.4 280.1M84.9 292.3L83.3 294.9M84.9 292.3L82.9 291M82.9 291L81.4 291.6M80.9 293.8L81.4 291.6M80.9 293.8L82.9 295.2M82.9 295.2L83.3 294.9M78.4 315.4L78.4 314M76.8 317.7L74.5 316.2M78.4 314L76.3 314.2M74.5 316.2L74.6 315.5M76.3 314.2L74.6 315.5M70.8 314.3L73 313.5M70.8 314.3L69.8 313.1M69.7 312.9L69.8 313.1M69.7 312.9L72.4 311.1M73 313.5L73.5 311.3M72.4 311.1L73.5 311.3M74.5 316.2L73 317.5M73 317.5L70.7 315.4M70.7 315.4L70.8 314.3M74.6 315.5L73 313.5M69 309.9L71.1 309.9M69 309.9L68.8 311.2M71.1 309.9L72.4 311.1M68.8 311.2L69.7 312.9M76.3 314.2L74.7 311.2M74.7 311.2L74 311M74 311L73.5 311.3M86.9 309.5L89.8 309.5M86.9 309.5L87.3 312.4M89.8 309.5L90 310.5M90 310.5L87.7 312.7M87.3 312.4L87.7 312.7M88.9 315.6L90.7 317.6M88.9 315.6L88.9 314.3M88.9 314.3L91.1 313.6M92.4 316.2L91.2 313.7M92.4 316.2L90.7 317.6M91.2 313.7L91.1 313.6M91.3 311.9L90 310.5M91.3 311.9L91.1 313.6M88.3 313.8L87.7 312.7M88.3 313.8L88.9 314.3M94.4 313.3L91.2 313.7M94 316.4L92.4 316.2M92.1 319.9L93.5 318.8M90.6 318.5L90.7 317.6M94.7 312.2L92.6 311.1M92.6 311.1L91.3 311.9M86.9 295.4L86.7 293.6M86.9 295.4L87.8 296.4M87.8 296.4L88.9 295.9M88.9 295.9L89.8 293.6M89.8 293.6L87.5 293.2M86.7 293.6L87.5 293.2M84.9 292.3L85 292.3M85 292.3L86.7 293.6M85.3 295.8L83.3 294.9M85.3 295.8L86.9 295.4M87.7 297.9L86.9 298.7M87.7 297.9L87.8 296.4M86.9 298.7L84.3 298.2M84.3 298.2L85.3 295.8M97 298.8L98.6 299.6M97 298.8L96.8 296M98.6 299.6L100.7 297.1M100.7 297.1L97.5 295.6M97.5 295.6L96.8 296M96.5 303.8L96.8 301.8M96.5 303.8L99 303.7M96.8 301.8L98.9 301M98.9 301L100.1 302M99 303.7L100.1 302.4M100.1 302.4L100.1 302M95.8 299.4L96 301.4M95.8 299.4L97 298.8M96 301.4L96.8 301.8M98.6 299.6L98.9 301M98.7 306.1L99 303.7M101.7 304.6L100.1 302.4M89.7 287.6L87 288.1M89.7 287.6L90.4 291M88.8 290.9L90.4 291M88.8 290.9L87 289.7M87 289.7L86.8 288.5M86.8 288.5L87 288.1M86.9 285.5L87 288.1M90.6 286.5L89.7 287.6M85 292.3L87 289.7M87.5 293.2L88.8 290.9M84.2 288.1L83.1 288.5M84.2 288.1L86.8 288.5M83.1 288.5L82.9 291M84.2 288.1L84.4 286.4M86.1 285.1L84.4 286.4M68.6 340.5L67.7 339.2M65.3 340.8L65.2 340.3M67.7 339.2L65.2 340.3M70.6 338.6L68.4 337.8M67.7 339.2L68.4 337.8M69.8 334.9L71.6 335.6M68.7 336L68.3 337.6M68.4 337.8L68.3 337.6M66.4 334.8L65.8 335.5M65.8 335.5L65.5 336.9M68.3 337.6L65.5 336.9M57.1 342.4L56.3 340.5M53.7 341.2L56.3 340.5M65.5 336.9L63.9 338.2M65.2 340.3L64.3 339.6M64.3 339.6L63.9 338.2M61.7 342.6L61.7 341.5M64.3 339.6L61.7 341.5M46.6 331.7L45.4 332.8M46.6 331.7L46.6 330.3M43.3 329.5L45.4 329.5M46.6 330.3L45.4 329.5M57.7 342.8L57.1 342.4M68.8 326.1L67.3 324.7M68.8 326.1L68.7 327.5M68.7 327.5L66.9 329.2M67.3 324.7L66.3 325.3M66.3 325.3L65.8 327M65.8 327L66.7 329.2M66.7 329.2L66.9 329.2M48.7 332.9L50.5 332.1M48.7 332.9L46.6 331.7M46.6 330.3L48.6 329.2M48.6 329.2L50.6 331.6M50.5 332.1L50.6 331.6M69.2 332.9L69.4 332.4M72.7 334.8L72.3 332.3M69.4 332.4L70.9 331.9M72.3 332.3L70.9 331.9M77.5 319.4L74.2 319.9M73 317.5L72.6 319M74.2 319.9L72.6 319M69.4 316.3L69.3 316.4M69.4 316.3L70.7 315.4M72.6 319L71.3 319.9M69.3 316.4L71.3 319.9M69.9 323L67.9 323.1M69.9 323L71.3 320.4M67.9 323.1L69.1 319.9M69.1 319.9L71.2 320M71.3 320.4L71.2 320M71.2 325L71.1 325.1M71.2 325L69.9 323M71.1 325.1L68.8 326.1M67.5 323.4L67.9 323.1M67.5 323.4L67.3 324.7M71.2 325L72.8 324.5M72.8 324.5L72.8 322.9M72.8 322.9L71.3 320.4M67.5 323.4L65.4 321.5M65.4 321.5L65.8 319.5M65.8 319.5L66.7 318.8M66.7 318.8L69.1 319.9M69.3 316.4L66.8 318.3M66.8 318.3L66.7 318.8M71.3 319.9L71.2 320M72.8 322.9L74.8 321.8M74.8 321.8L74.2 319.9M69 309.9L68.9 309.6M68.9 309.6L66.2 309.1M65.6 309.8L65.5 311.6M68.8 311.2L66.7 311.9M65.5 311.6L66.7 311.9M69.8 313.1L67.6 314.4M66.7 311.9L67.6 314.4M69.4 316.3L67.5 314.4M66.8 318.3L65.8 315.4M65.8 315.4L67.5 314.4M67.5 314.4L67.6 314.4M95.9 319.6L95.9 321.3M92.2 320.6L94.4 322.1M94.4 322.1L95.9 321.3M98.2 322.1L98 322.2M95.9 321.3L98 322.2M98.3 326.1L97.3 324.5M97.3 324.5L98 322.2M93.1 326.7L93.3 324.9M93.1 326.7L96.4 327.4M93.3 324.9L93.8 324.5M93.8 324.5L95.2 324.9M96.4 327.4L95.2 324.9M92.9 327.3L93.1 326.7M89 326.4L89.4 324.7M89.4 324.7L90.4 324.1M90.4 324.1L93.3 324.9M96.8 327.8L96.4 327.4M90.6 322.3L90.4 324.1M94.4 322.1L93.8 324.5M97.3 324.5L95.2 324.9M76 335L79.3 333.9M76 335L79 337.9M79.5 337.5L79.6 334.2M79.5 337.5L79 337.9M79.6 334.2L79.3 333.9M78.9 338.2L79 337.9M75.3 335.1L75.6 334.9M75.6 334.9L76 335M81.7 337.2L79.5 337.5M82 334.2L83 336.5M82 334.2L79.6 334.2M80.6 331.4L79.1 332.7M82 334.2L83.3 332.2M79.1 332.7L79.3 333.9M87.4 332.9L87.5 334.4M87.4 332.9L86.5 332.2M86.5 332.2L84.1 332.3M87.2 334.5L87.5 334.4M87.2 334.5L85.4 334.5M85.4 334.5L84.1 332.3M89.2 330.7L87.4 332.9M89.3 334.8L87.5 334.4M87 329.3L86.5 332.2M83.6 332L84.1 332.3M86.7 337.6L87.2 334.5M83.9 336.7L85.4 334.5M79.4 316.7L81.2 317.1M78 319.7L78.1 319.8M81.2 317.1L81.5 319.3M81.5 319.3L81.1 319.6M78.1 319.8L81.1 319.6M69.4 278.7L69.4 281.2M70.2 278.3L72.4 280.8M72.4 280.8L69.4 281.2M67.3 281.1L69.4 281.2M69.4 281.2L69.4 281.2M60.4 281.3L59.9 283.6M64.1 282.9L62.8 283.5M62.8 283.5L59.9 283.6M58.1 283.1L59.7 283.7M59.9 283.6L59.7 283.7M65 299.6L65.2 301.9M65 299.6L63.2 298.9M63.2 298.9L62.9 299.1M62.9 299.1L62.1 301.1M62.1 301.1L63.8 303.2M65.2 301.9L63.9 303.2M63.8 303.2L63.9 303.2M66 295.7L66.8 296.3M66 295.7L63.4 297.4M66.8 296.3L67.2 298.4M67.2 298.4L65 299.6M63.4 297.4L63.2 298.9M54.9 308.4L56.7 309.2M56.7 309.2L58.4 308.4M54.8 306.9L56.6 305.9M58.4 308.4L59.2 306.5M56.6 305.9L59.2 306.5M64.1 312.9L64.1 312.7M64.1 312.9L61.5 314.8M64.1 312.7L62.4 311.1M61.5 314.8L60.9 314.7M60.9 314.7L60.6 311.8M62.4 311.1L60.6 311.8M65.5 311.6L64.1 312.7M65.5 315.3L65.8 315.4M65.5 315.3L64.1 312.9M63.2 308.7L62.5 309.3M62.5 309.3L62.4 311.1M62.5 309.3L61.8 309M59.7 311.5L60.6 311.8M59.7 311.5L59.6 309.7M61.8 309L59.6 309.7M46.1 299.1L47.7 299.7M46.1 299.1L45.1 299.7M45.1 299.7L44.6 300.7M47.7 299.7L48.5 302.2M48.5 302.2L44.8 300.9M44.6 300.7L44.8 300.9M46.9 296.4L46.1 299.1M49.9 298.3L47.7 299.7M43.2 297.2L45.1 299.7M42.4 301.4L44.6 300.7M48.8 302.5L50.2 301M48.8 302.5L48.5 302.2M50.2 301L50.8 299M45.7 304L44.8 300.9M60.1 298.2L61.1 296.7M60.1 298.2L58.7 298.6M58.5 298.4L58.3 296.6M58.5 298.4L58.7 298.6M61.1 296.7L59.7 293.9M58.3 296.6L59.6 293.9M59.7 293.9L59.6 293.9M63.4 297.4L62.5 296.4M62.5 296.4L61.1 296.7M62.9 299.1L60.1 298.2M59.5 301.4L59.8 301.5M59.5 301.4L58.7 298.6M59.8 301.5L62.1 301.1M62.5 296.4L62.5 293.8M62.5 293.8L61.5 293.4M61.5 293.4L59.7 293.9M55.8 295.3L58.3 296.6M59.2 293.7L59.6 293.9M58.6 290.8L58.1 291M58.6 290.8L61.8 290.7M61.8 290.7L61.5 293.4M40.8 311.9L41.3 313.7M40.8 311.9L37.4 311.5M41.3 313.7L37.4 314.3M41.6 314.1L41.3 313.7M41.3 310.8L40.8 311.9M38.1 309.7L37.4 311.5M38.4 316L37.4 314.3M54.4 296.5L55.4 298.2M51.5 298.9L52.5 299.7M52.5 299.7L55.4 298.2M58.5 298.4L56.3 298.9M56.3 298.9L55.4 298.2M52.4 302.1L53.1 300.6M52.4 302.1L52.5 303.6M52.5 303.6L53.8 304M53.1 300.6L55.5 301M53.8 304L54.5 303.6M54.5 303.6L55.7 301.8M55.7 301.8L55.5 301M50.2 301L52.4 302.1M52.5 299.7L53.1 300.6M50.4 304.3L52.5 303.6M54.3 306.2L53.8 304M56.3 298.9L55.5 301M56.6 304.6L56.6 305.9M56.6 304.6L54.5 303.6M57.5 302.5L57.6 303.6M57.5 302.5L55.7 301.8M57.6 303.6L56.6 304.6M57.5 302.5L59.5 301.4M80.4 282.9L82.1 281.6M80.4 282.9L81.5 285.6M82.1 281.6L83.5 283.9M81.5 285.6L83 284.7M83 284.7L83.5 283.9M85.2 283.6L83.5 283.9M82.4 280.1L82.1 281.6M84.4 286.4L83 284.7M95.1 295.8L93.8 296.6M95.1 295.8L96.8 296M95.8 299.4L93.4 298.8M93.4 298.8L93.8 296.6M96.6 306.2L96.2 306.1M96.5 303.8L96.1 304.2M96.1 304.2L96.2 306.1M93.4 298.8L92.8 299.5M93.8 296.6L92 295.5M90.8 296.2L92 295.5M90.8 296.2L90.8 298.9M92.8 299.5L90.8 298.9M87.7 297.9L90.5 299M86.9 300.2L86.9 298.7M86.9 300.2L89 301.8M89 301.8L90.5 299M87.5 304.2L88 304M87.5 304.2L85.7 302.7M86.9 300.2L86 301.1M88 304L89 301.9M85.7 302.7L86 301.1M89 301.8L89 301.9M88.9 295.9L90.8 296.2M90.5 299L90.8 298.9M83.3 300.6L86 301.1M83.3 300.6L82.9 298.5M84.3 298.2L82.9 298.4M82.9 298.5L82.9 298.4M80.1 301.2L80.6 299.7M80.1 301.2L82.6 302.3M83.3 300.6L82.6 302.3M82.9 298.5L80.6 299.7M82.9 295.2L82.3 297.3M82.9 298.4L82.3 297.3M78.7 301.8L80.1 301.2M78.7 301.8L77.5 301M77.5 301L77.7 298.5M77.7 298.5L78.6 298M80.6 299.7L78.6 298M69.3 295.3L69.6 293.8M69.3 295.3L70.7 296.7M69.6 293.8L72.6 294.1M72.6 294.1L72.4 296M72.4 296L70.7 296.7M66.8 296.3L69.3 295.3M67.2 298.4L68.3 299.2M68.3 299.2L70.4 298.1M70.7 296.7L70.4 298.1M68.9 309.6L69.1 307.1M66.2 306.7L68.4 305.9M69.1 307.1L68.4 305.9M71.1 309.9L72.1 307.5M69.1 307.1L72.1 307.5M74 309.4L72.6 307.2M74 309.4L74 311M72.1 307.5L72.6 307.2M74.9 306.1L76.9 304.9M74.9 306.1L73.9 306M73.9 306L73.7 303.6M73.7 303.6L75.9 303.4M76.9 304.9L75.9 303.4M76 308L74.9 306.1M76 308L77.8 308.8M77.7 305L78.6 307.5M77.7 305L76.9 304.9M77.8 308.8L78.6 307.5M74 309.4L76 308M72.6 307.2L72.9 306.6M72.9 306.6L73.9 306M78.7 301.8L78.9 303.8M78.9 303.8L77.7 305M77.5 301L76.2 301.4M76.2 301.4L75.9 303.4M91.8 294.3L90.9 292.9M91.8 294.3L94.6 293.4M90.9 292.9L91.2 291.3M91.2 291.3L92.6 290.7M92.6 290.7L93.5 291M93.5 291L94.7 292.7M94.7 292.7L94.6 293.4M89.8 293.6L90.9 292.9M92 295.5L91.8 294.3M95.1 295.8L94.6 293.4M90.4 291L91.2 291.3M92.8 288.6L92.6 290.7M54.9 335.4L55.8 335.1M54.9 335.4L54.3 337.7M57.6 338.6L56.8 335.3M57.6 338.6L56.9 338.9M56.9 338.9L55 338.6M54.3 337.7L55 338.6M55.8 335.1L56.7 335.2M56.7 335.2L56.8 335.3M53.7 341.2L55 338.6M56.3 340.5L56.9 338.9M51.8 338.1L54.3 337.7M63.2 326.8L65.8 327M63.2 326.8L64.8 329.6M66.7 329.2L65.8 329.9M65.8 329.9L64.8 329.6M66.5 333.3L65.4 332.3M65.8 335.5L63.4 334.4M63.4 334.4L65.4 332.3M69.4 332.4L68.3 330.3M68.3 330.3L66.9 329.2M65.8 329.9L65.4 332.2M65.4 332.3L65.4 332.2M63.9 338.2L63.2 337.7M63.4 334.4L62.1 334.9M63.2 337.7L62.1 334.9M50.9 336.2L50.9 336.4M50.9 336.2L48.1 334.3M50.9 336.4L48.9 337.1M48.9 337.1L46.9 336.3M48.1 334.3L47 335.2M46.9 336.3L47 335.2M51.8 338.1L50.9 336.4M52.1 334.3L52.2 334.3M52.1 334.3L50.9 336.2M52.2 334.3L54.9 335.4M48.7 332.9L48.1 334.3M50.5 332.1L52.1 334.3M45.7 334.1L47 335.2M65.4 321.5L64.8 321.9M66.3 325.3L63.7 324.6M64.8 321.9L63.7 324.6M60.9 328.9L63.2 326.7M60.9 328.9L59.6 325.6M63.2 326.7L63 325M59.6 325.6L59.9 324.7M59.9 324.7L61.2 324.2M61.2 324.2L63 325M63.2 326.8L63.2 326.7M63.7 324.6L63 325M54.4 329.5L56.1 331.1M54.4 329.5L53 330M53 330L54 332.3M56.1 331.2L56.1 331.1M56.1 331.2L55.1 332.3M55.1 332.3L54 332.3M55 328.3L56.9 327.6M55 328.3L54.4 329.5M56.9 327.6L57.8 328.7M57.8 328.7L56.1 331.1M50.6 331.6L52.6 330M52.2 334.3L54 332.3M52.6 330L53 330M55.8 335.1L55.1 332.3M56.7 335.2L58 332.3M58 332.3L56.1 331.2M70 329.5L71 330M70 329.5L69.8 328M71 330L72.2 328.7M69.8 328L71.7 327.9M71.7 327.9L72.1 328.3M72.1 328.3L72.2 328.7M68.3 330.3L70 329.5M70.9 331.9L71 330M68.7 327.5L69.8 328M71.1 325.1L71.7 327.9M72.8 324.5L74.2 325.2M74.2 325.2L74.5 326.6M74.5 326.6L72.1 328.3M84.1 320.2L87.4 319.9M84.1 320.2L83.7 319.6M83.7 319.6L84.6 317.1M84.6 317.1L86.3 316.9M87.1 317.3L87.9 319.5M87.1 317.3L86.3 316.9M87.9 319.5L87.4 319.9M88.2 319.6L87.9 319.5M88.9 315.6L87.1 317.3M88.3 313.8L86.3 315M86.3 315L86.3 316.9M81.5 319.3L83.7 319.6M81.1 319.6L81.1 321.5M84.2 322.3L82.6 323.4M84.2 322.3L84.1 320.2M81.1 321.5L82.6 323.4M84.2 322.4L85.3 324.8M84.2 322.4L87.1 322.7M87.5 323.5L85.8 324.9M87.5 323.5L87.3 323M85.8 324.9L85.3 324.8M87.3 323L87.1 322.7M84.2 322.3L84.2 322.4M83.2 325.9L82.1 324.2M83.2 325.9L85.3 324.8M82.1 324.2L82.6 323.4M87.4 319.9L87.1 322.7M89.4 324.7L87.5 323.5M86.4 326.4L85.8 324.9M89.4 321.4L87.3 323M83.3 327.2L83.2 325.9M83.1 288.5L82.4 288M81.4 291.6L80.1 291M80.1 291L80.2 288.6M80.2 288.6L82.4 288M81.5 285.6L81.5 285.6M81.5 285.6L82.4 288M82.2 279.4L78.5 280.9M80.4 282.9L78.3 282.8M78.3 282.8L78.5 280.9M78.7 286.1L81.5 285.6M78.7 286.1L78.1 283M78.3 282.8L78.1 283M74.8 287.8L75.7 286.3M74.8 287.8L77.4 289.5M75.7 286.3L78.6 286.2M77.4 289.5L78.7 287.8M78.7 287.8L78.6 286.2M80.1 291L79.1 291.1M77.5 290.6L79.1 291.1M77.5 290.6L77.4 289.5M80.2 288.6L78.7 287.8M78.7 286.1L78.6 286.2M72.9 293.8L73.1 291.6M72.9 293.8L74.4 294.3M76.4 291.7L76.6 292.7M76.4 291.7L73.6 291.1M74.4 294.3L76.6 292.7M73.6 291.1L73.1 291.6M76.4 291.7L77.5 290.6M74.8 287.8L73.8 288.2M73.6 291.1L73.8 288.2M62.8 285.5L61.9 287.9M62.8 285.5L65 285.9M61.9 287.9L64.3 287.8M65 285.9L64.3 287.8M64.6 283.2L65.1 285.7M62.8 283.5L62.8 285.5M65.1 285.7L65 285.9M57.1 288.8L60.5 288.3M57.1 288.8L58.9 286.2M58.9 286.2L59.7 285.7M59.7 285.7L61.3 287.8M60.5 288.3L61.3 287.8M58.6 290.8L60.5 288.3M57.1 288.8L57.1 288.8M55.2 286L58.9 286.2M59.7 283.7L59.7 285.7M61.7 287.9L61.9 287.9M61.7 287.9L61.3 287.8M61.7 287.9L61.9 290.4M61.8 290.7L61.9 290.4M66 295.7L65.8 295.2M62.5 293.8L63 293.8M65.8 295.2L63 293.8M61.9 290.4L65.1 291.1M63 293.8L65.1 291.1M65.6 288.9L64.3 287.8M65.6 288.9L65.1 291.1M65.1 291.1L65.1 291.1M73.1 291.6L70.8 291M73.8 288.2L72.8 287.7M72.8 287.7L71.1 288.7M71.1 288.7L70.8 291M59.8 306.2L59.6 306.2M59.8 306.2L61.9 305.7M59.6 306.2L59.5 305.4M59.5 305.4L60.2 303.1M60.2 303.1L62.9 304M61.9 305.7L62.9 304M58.4 308.4L59.6 309.7M61.8 309L59.8 306.2M59.2 306.5L59.6 306.2M63.6 307.2L61.9 305.7M57.6 303.6L59.5 305.4M59.8 301.5L60.2 303.1M63.8 303.2L62.9 304M65.4 306.4L64.6 304.1M64.6 304.1L63.9 303.2M56.7 309.2L57 311.7M59.7 311.5L57.9 312.3M57 311.7L57.9 312.3M54 315.8L55 313.8M54 315.8L51.9 313.5M51.9 313.5L52.5 312.6M52.5 312.6L54.2 312.2M55 313.8L54.8 312.5M54.2 312.2L54.8 312.5M48.8 312.8L51.5 313.7M51.5 313.7L51.9 313.5M51 310.1L52.5 312.6M53.9 309.2L54.2 312.2M57 311.7L54.8 312.5M60.9 314.7L60.3 314.9M57.9 312.3L58 313.3M60.3 314.9L58 313.3M55 313.8L57.1 314.7M58 313.3L57.1 314.7M55.4 317.2L54 316.5M55.4 317.2L57.2 316.5M54 316.5L54 315.8M57.1 314.7L57.2 316.5M65.8 319.5L63.2 318.6M65.5 315.3L63 316.6M63 316.6L63.2 318.6M61.5 314.8L62.4 316.1M63 316.6L62.4 316.1M92.6 311.1L92.8 308.9M89.8 309.5L90.4 308.7M90.4 308.7L92.8 308.9M95.9 310.4L93.7 308.3M96.2 306.1L94 307M94 307L93.7 308.3M93.7 308.3L92.8 308.9M96 301.4L93.8 302M92.8 299.5L92.9 300.8M93.8 302L92.9 300.8M96.1 304.2L93.8 303.1M93.8 302L93.8 303.1M89 301.9L90.6 302.3M92.9 300.8L90.6 302.3M77.3 294.8L77.4 294M77.3 294.8L79.3 296.7M77.4 294L78.9 293.6M79.3 296.7L79.3 296.7M79.3 296.7L80.5 293.9M80.5 293.9L78.9 293.6M79.1 291.1L78.9 293.6M76.6 292.7L77.4 294M82.3 297.3L79.3 296.7M78.6 298L79.3 296.7M80.9 293.8L80.5 293.9M73.4 296.9L73.7 298.4M73.4 296.9L75.5 295.8M76.5 298L74.2 298.9M76.5 298L75.8 295.9M74.2 298.9L73.7 298.4M75.8 295.9L75.5 295.8M72.4 296L73.4 296.9M70.4 298.1L71.6 299M71.6 299L73.7 298.4M72.6 294.1L72.9 293.8M74.4 294.3L75.5 295.8M77.7 298.5L76.5 298M76.2 301.4L74.4 300.9M74.4 300.9L74.2 298.9M77.3 294.8L75.8 295.9M86.3 315L84.3 314.1M87.3 312.4L84.5 312.7M84.3 314.1L84.5 312.7M86.4 309L85.8 309M86.4 309L86.9 309.5M85.8 309L83.5 310.9M83.5 310.9L83.4 311.3M84.5 312.7L83.4 311.3M81 311L78.6 312.6M81 311L80.5 309.9M80.5 309.9L77.9 309.1M78.6 312.6L77.5 310.4M77.5 310.4L77.9 309.1M83.5 310.9L81.9 307.7M81.9 307.7L80.5 309.9M83.4 311.3L82.8 311.4M82.8 311.4L81 311M78.4 314L78.6 313.7M74.7 311.2L77.5 310.4M78.6 313.7L78.6 312.6M77.8 308.8L77.9 309.1M81.1 307.1L81.8 307.4M81.1 307.1L80.2 304.2M81.8 307.4L83.4 306.4M83.4 306.4L83.7 305.6M83.7 305.6L83.2 303.6M80.2 304.2L82.8 303.3M83.2 303.6L82.8 303.3M78.6 307.5L81.1 307.1M81.9 307.7L81.8 307.4M78.9 303.8L80.2 304.2M85.8 309L83.4 306.4M86.4 309L87.3 306.9M86.8 305.5L87.3 306.9M86.8 305.5L83.7 305.6M87.5 304.2L86.8 305.5M85.7 302.7L83.2 303.6M82.6 302.3L82.8 303.3M64.6 304.1L67.5 304M65.2 301.9L67 302M67.5 304L67 302M68.4 305.9L68.6 305.2M67.5 304L68.6 305.2M68.3 299.2L68.6 300.7M68.6 300.7L67 302M59.7 337.5L61.6 338.2M59.7 337.5L58.1 338.7M61.6 338.2L60.2 340.4M58.1 338.7L59.2 340.3M59.2 340.3L60.2 340.4M59.9 335.4L61.3 334.4M59.9 335.4L59.7 337.5M63.2 337.7L61.6 338.2M62.1 334.9L61.3 334.4M57.6 338.6L58.1 338.7M56.8 335.3L59.9 335.4M61.7 341.5L60.2 340.4M57.9 342.7L59.2 340.3M62.7 331.8L61.2 334.3M62.7 331.8L62.1 329.9M62.1 329.9L60.8 329.2M61.2 334.3L59.3 331.9M59.3 331.9L60 329.7M60.8 329.2L60 329.7M65.4 332.2L62.7 331.8M61.3 334.4L61.2 334.3M64.8 329.6L62.1 329.9M60.9 328.9L60.8 329.2M58 332.3L59.3 331.9M57.8 328.7L60 329.7M59.6 325.6L57.1 326.9M57.1 326.9L56.9 327.6M45.4 329.5L46.3 326.6M48.6 329.2L49 327.4M49 327.4L46.8 326.4M46.3 326.6L46.8 326.4M43.1 326.9L44.4 326.2M46.3 326.6L44.4 326.2M52.6 330L51.5 327.2M49 327.4L50.1 326.7M51.5 327.2L50.1 326.7M55 328.3L53.5 326.3M51.5 327.2L53.5 326.3M56.4 325.8L54.1 325M56.4 325.8L57.1 326.9M53.5 326.3L54.1 325M74.4 331L74.4 330.7M74.4 331L75.6 332.6M74.4 330.7L76 329M75.6 332.6L78.1 331.9M78.1 331.9L77.9 329.5M77.9 329.5L76 329M72.3 332.3L74.4 331M72.2 328.7L74.4 330.7M75.6 334.9L75.6 332.6M75.8 327.8L74.5 326.6M75.8 327.8L76 329M79.1 332.7L78.1 331.9M79.4 328.8L77.9 329.5M79.7 327.2L79.6 326.9M79.6 326.9L77.1 326.7M77.1 326.7L75.8 327.8M79.5 323L79.9 324.6M79.5 323L77.9 321.1M77.9 321.1L76.2 322.8M79.8 324.7L77.1 324.6M79.8 324.7L79.9 324.6M77.1 324.6L76.1 323.9M76.2 322.8L76.1 323.9M81.1 321.5L79.5 323M82.1 324.2L79.9 324.6M78.1 319.8L77.9 321.1M74.8 321.8L76.2 322.8M79.6 326.9L79.8 324.7M77.1 326.7L77.1 324.6M74.2 325.2L76.1 323.9M78.5 280.9L77.7 279.9M77.7 278.9L77.7 279.9M77.7 278.9L75.3 278.3M72.3 277.7L74 279.8M75.3 278.3L74 279.8M65.9 291.7L66.5 293.5M65.9 291.7L68.9 290.9M66.5 293.5L69.2 292.9M69.2 292.9L69.5 291.4M68.9 290.9L69.5 291.4M65.8 295.2L66.5 293.5M65.1 291.1L65.9 291.7M69.6 293.8L69.2 292.9M70.8 291L69.5 291.4M68.8 287.8L67.9 288.5M68.8 287.8L69.7 285.5M66.6 285.8L67.5 288.4M66.6 285.8L68.3 284.2M67.5 288.4L67.9 288.5M69.7 285.5L68.7 284.3M68.3 284.2L68.7 284.3M71.1 288.7L68.8 287.8M68.9 290.9L67.9 288.5M72.8 287.7L72.2 286.5M72.2 286.5L70.4 285.6M70.4 285.6L69.7 285.5M65.1 285.7L66.6 285.8M65.6 288.9L67.5 288.4M66.5 283.1L68.3 284.2M69.4 281.2L69.5 282.8M69.5 282.8L68.7 284.3M64.8 321.9L62.7 321.6M63.2 318.6L61.4 319.5M61.4 319.5L62.7 321.6M61.2 324.2L61.3 323.6M62.7 321.6L61.3 323.6M92.4 305.3L90 307.4M92.4 305.3L92.3 304.8M92.3 304.8L91.5 304.4M91.5 304.4L89.3 304.8M89.3 304.8L89.8 307.2M89.8 307.2L90 307.4M90.4 308.7L90 307.4M94 307L92.4 305.3M93.8 303.1L92.3 304.8M90.6 302.3L91.5 304.4M88 304L89.3 304.8M87.3 306.9L89.8 307.2M83.8 316L81.4 316.6M83.8 316L83.9 314.7M83.9 314.7L80.8 314.2M81.4 316.6L80.8 314.2M80.8 314.2L80.8 314.2M81.2 317.1L81.4 316.6M84.6 317.1L83.8 316M84.3 314.1L83.9 314.7M82.8 311.4L80.8 314.2M78.6 313.7L80.8 314.2M70.7 304.4L70 304.1M70.7 304.4L73.6 303.3M70 304.1L70.2 302M70.2 302L71.6 301.3M71.6 301.3L73.3 301.7M73.6 303.3L73.3 301.7M72.9 306.6L70.7 304.4M68.6 305.2L70 304.1M73.7 303.6L73.6 303.3M68.6 300.7L70.2 302M71.6 299L71.6 301.3M74.4 300.9L73.3 301.7M51.5 313.7L50.4 316.7M54 316.5L52 317.5M52 317.5L50.4 316.7M48.5 316.4L48.9 316.9M48.9 316.9L50.4 316.7M46.8 326.4L46.8 324.4M50.1 326.7L50.2 324.2M50.2 324.2L49 323.7M46.8 324.4L49 323.7M50.2 324.2L50.6 323.8M54.1 325L54 324.3M50.6 323.8L54 324.3M72.8 281L72.3 282.8M72.8 281L74 280.3M74 280.3L74.9 281M74.9 281L76 283.1M72.3 282.8L72.5 283.2M72.5 283.2L73.8 284.3M76 283.1L75 284.3M75 284.3L73.8 284.3M72.4 280.8L72.8 281M69.5 282.8L72.3 282.8M74 279.8L74 280.3M77.7 279.9L74.9 281M78.1 283L76 283.1M70.4 285.6L72.5 283.2M72.2 286.5L73.8 284.3M75.7 286.3L75 284.3M62.4 316.1L60.1 318.1M61.4 319.5L60.7 319.5M60.7 319.5L60.1 318.1M60.3 314.9L59 316.9M60.1 318.1L59 316.9M57.2 316.5L58.1 316.9M58.1 316.9L59 316.9M44.4 326.2L44.4 323.9M46.8 324.4L46.3 323.8M46.3 323.8L44.4 323.9M41.5 324.5L43.6 323.2M41.9 320.5L43.6 321.8M43.6 321.8L43.6 323.2M43.6 323.2L44.4 323.9M51.1 321L52.1 318.2M51.1 321L51.3 321.2M51.3 321.2L53.2 321.5M53.2 321.5L53.8 319.7M52.1 318.2L53.8 319.7M52 317.5L52.1 318.2M48.9 316.9L48.2 319M48.2 319L50.5 320.8M50.5 320.8L51.1 321M49 323.7L48.3 322.2M50.6 323.8L51.3 321.2M48.3 322.2L50.5 320.8M54 324.3L54.7 322.6M54.7 322.6L53.2 321.5M55.4 317.2L55.4 318.9M55.4 318.9L53.8 319.7M60.1 320.8L60.1 320.1M60.1 320.8L58.1 323.3M60.1 320.1L57.6 320.1M57.6 320.1L56.6 320.7M56.6 320.7L56.2 322M56.2 322L57.5 323.1M57.5 323.1L58.1 323.3M61.3 323.6L60.1 320.8M60.7 319.5L60.1 320.1M59.9 324.7L58.1 323.3M58.1 316.9L57.6 320.1M55.4 318.9L56.6 320.7M54.7 322.6L56.2 322M56.4 325.8L57.5 323.1M46.5 322.3L44.2 321.5M46.5 322.3L47.2 321.5M47.2 321.5L47.2 319.6M44.2 321.5L45.8 319.3M45.8 319.3L47.2 319.6M46.3 323.8L46.5 322.3M43.6 321.8L44.2 321.5M48.3 322.2L47.2 321.5M48.2 319L47.2 319.6M45.3 318.8L45.8 319.3" stroke="url(#gjm)" stroke-width="0.7" fill="none" opacity="0.95"/>
<path d="M44.3 310.9L43 311.4M58.6 302.5L60.5 304.7M75.7 313.6L76 316.1M64.3 339.9L65.2 340.9M83.3 337.1L81.2 337.6M43.8 324L43.2 326.1M65.3 345.1L65.5 346.5M39.8 326.2L42.5 326.9M78.4 318.5L77 319.6M50.8 332.5L50.1 334M45 305.2L44.7 307.2M63.3 295.5L65.1 297.3M71 344.4L70.2 346.8M76.3 327.1L74.7 327.9M57.5 337L57 338.6M56.4 308.9L56.5 311.6M54.9 320.4L55.5 323.1M40.5 309L41.1 311.8M81.7 292.5L81.7 293.8M79.4 329.2L77 330M55.6 299.8L56.1 300.9M83.7 308.5L86.4 309.3" stroke="#f08890" stroke-width="0.6" fill="none"/>
<path d="M45.5 297.9L44 298.6M60 290.8L60.1 293.5M73.8 297.5L74.5 299.8M58.3 308L59.1 309.8M81.5 325.8L80 326.3M79.6 311.7L80 313M44.6 316.9L43.8 318.4M53.5 329.3L54.5 330.9M83.6 331.4L85 331.5M83.9 324.7L85.1 327.3M51.6 342.1L52.9 344.6M82.1 314.2L80.9 316.1M78.9 319.5L79 321.2M52.7 327.1L50.3 327.1M44.8 319.1L47.1 320.1M73.1 335.7L75.3 336.7M48.3 325.5L50.8 326.3M71.1 343L73.7 344.4" stroke="#e05060" stroke-width="0.6" fill="none"/>
<defs><radialGradient id="gjr" cx="0.5" cy="0.5" r="0.5"><stop offset="0.8" stop-color="#fff" stop-opacity="0"/><stop offset="0.95" stop-color="#e8e0f0" stop-opacity="0.45"/><stop offset="1" stop-color="#f4eaf4" stop-opacity="0.8"/></radialGradient></defs>
<ellipse cx="70.5" cy="311.8" rx="34.2" ry="35.6" fill="url(#gjr)" transform="rotate(-12 70.5 311.8)"/>
<ellipse cx="70.5" cy="311.8" rx="33.800000000000004" ry="35.2" fill="none" stroke="#f0e4f0" stroke-width="0.9" opacity="0.85" transform="rotate(-12 70.5 311.8)"/>
<g fill="#3cb8a0"><circle cx="67.4" cy="277.5" r="1.8"/><circle cx="64.4" cy="268.9" r="1.9"/><circle cx="42.7" cy="267.4" r="1.4"/></g>
<g fill="#5cc840"><circle cx="41" cy="273.5" r="1.7"/><circle cx="47.5" cy="280.8" r="2.1"/><circle cx="43.9" cy="274.6" r="2.1"/><circle cx="69.7" cy="274.6" r="1.8"/><circle cx="43.2" cy="277.6" r="2.2"/></g>
<g fill="#7cd858"><circle cx="57" cy="267.6" r="1.6"/><circle cx="42.3" cy="275.2" r="1.9"/></g>
<g fill="#6cd048"><circle cx="66" cy="266.4" r="2"/><circle cx="64.8" cy="274.3" r="2"/><circle cx="50.5" cy="267.3" r="1.7"/></g>
<g fill="#4cbc40"><circle cx="42.3" cy="276.6" r="1.6"/></g>
</g>
<text x="23.4" y="350.6" fill="#f0f0f0" stroke="#f0f0f0" font-size="5.8">50 μm</text>
<line x1="23.2" y1="353.5" x2="39.8" y2="353.5" stroke="#e8e8e8" stroke-width="1"/>
<text x="0" y="374" font-weight="bold" fill="#1a1414" stroke="#1a1414" font-size="7.9">o</text>
<text x="67.6" y="378.3" text-anchor="middle" font-size="7" transform="matrix(1 0 0 1.09 0 -34.05)">OC43</text>
<rect x="11" y="380.3" width="10" height="99" fill="#241816"/>
<text x="18.7" y="429" text-anchor="middle" font-size="7.3" transform="matrix(1 0 0 1 0 -0) rotate(-90 18.7 429)"><tspan fill="#1fa84a" stroke="#1fa84a">Mφ </tspan><tspan fill="#2a8ad6" stroke="#2a8ad6">DAPI </tspan><tspan fill="#f2f2f2" stroke="#f2f2f2">EpCAM </tspan><tspan fill="#e2262d" stroke="#e2262d">OC43-N</tspan></text>
<defs><clipPath id="co"><rect x="22.0" y="380.3" width="99.1" height="99"/></clipPath><clipPath id="coO"><path d="M14 376H73.6C78 385 88 390 96 400C103 408 106 420 103 432C100 446 94 456 84 462C74 466 62 467 50 464C40 462 32 456 26 448C22 444 18 440 14 436Z"/></clipPath></defs>
<g clip-path="url(#co)">
<rect x="22" y="380.3" width="99.1" height="99" fill="#050505"/>
<path d="M14 376H73.6C78 385 88 390 96 400C103 408 106 420 103 432C100 446 94 456 84 462C74 466 62 467 50 464C40 462 32 456 26 448C22 444 18 440 14 436Z" fill="#0c1232"/>
<defs><linearGradient id="gom" gradientUnits="userSpaceOnUse" x1="30" y1="385" x2="85" y2="462"><stop offset="0" stop-color="#7c8498"/><stop offset="0.45" stop-color="#c0c4d4"/><stop offset="1" stop-color="#f4f4fa"/></linearGradient></defs>
<g clip-path="url(#coO)">
<g fill="#2a48b8"><circle cx="27.5" cy="377.1" r="1.1"/><circle cx="19.7" cy="378.8" r="1"/><circle cx="34" cy="377.8" r="1.1"/><circle cx="44.8" cy="380.3" r="1.3"/><circle cx="54.9" cy="379.8" r="1"/><circle cx="63.2" cy="380.3" r="1.3"/><circle cx="28.2" cy="382.5" r="1.1"/><circle cx="32.7" cy="382.3" r="1"/><circle cx="53.4" cy="381.7" r="1.2"/><circle cx="65.6" cy="382.5" r="1.2"/><circle cx="14.9" cy="386.4" r="1.3"/><circle cx="23.6" cy="385.9" r="1"/><circle cx="41.7" cy="384" r="1.1"/><circle cx="59.1" cy="384.5" r="1.2"/><circle cx="72.3" cy="385.7" r="1.1"/><circle cx="17.7" cy="387.9" r="1.1"/><circle cx="32.8" cy="389.1" r="1"/><circle cx="52.8" cy="387.5" r="1.3"/><circle cx="63.7" cy="387.5" r="1.2"/><circle cx="15.3" cy="391" r="1.1"/><circle cx="21.6" cy="390.8" r="1.2"/><circle cx="36" cy="390.9" r="1.2"/><circle cx="72.7" cy="391.2" r="1.3"/><circle cx="21" cy="395.5" r="1.1"/><circle cx="29.1" cy="394.8" r="1.1"/><circle cx="35.6" cy="394.7" r="1.3"/><circle cx="39.6" cy="393.2" r="1.1"/><circle cx="74.6" cy="394.1" r="1"/><circle cx="77.9" cy="396" r="1.3"/><circle cx="19.6" cy="397.4" r="1.1"/><circle cx="40.6" cy="396.9" r="1.3"/><circle cx="50.6" cy="399.1" r="1"/><circle cx="65" cy="398.2" r="1.2"/><circle cx="69.9" cy="398.9" r="1.3"/><circle cx="77.7" cy="397.6" r="1.3"/><circle cx="85.4" cy="398.9" r="1.2"/><circle cx="17.5" cy="402.4" r="1.3"/><circle cx="21.7" cy="400.9" r="1.1"/><circle cx="43.7" cy="401.5" r="1.3"/><circle cx="67.3" cy="399.6" r="1.2"/><circle cx="80.1" cy="400.3" r="1.1"/><circle cx="29.6" cy="404.3" r="1.3"/><circle cx="45.1" cy="402.7" r="1.1"/><circle cx="51" cy="405.2" r="1.3"/><circle cx="54.8" cy="404.1" r="1.1"/><circle cx="66.9" cy="403.5" r="1.2"/><circle cx="72.1" cy="405.4" r="1.1"/><circle cx="84.5" cy="404.6" r="1.2"/><circle cx="25.6" cy="406.5" r="1.2"/><circle cx="34.5" cy="406.8" r="1.1"/><circle cx="44.2" cy="408.3" r="1.2"/><circle cx="47.5" cy="408.1" r="1.1"/><circle cx="60.6" cy="407.4" r="1.2"/><circle cx="93.4" cy="407.2" r="1.1"/><circle cx="26.9" cy="410.4" r="1.2"/><circle cx="30.5" cy="411.1" r="1"/><circle cx="37.5" cy="409" r="1.1"/><circle cx="51.4" cy="409.2" r="1.1"/><circle cx="59.1" cy="411.2" r="1.3"/><circle cx="20.9" cy="412.2" r="1"/><circle cx="25.3" cy="414.6" r="1.1"/><circle cx="28.2" cy="412.7" r="1"/><circle cx="34.8" cy="412.4" r="1.3"/><circle cx="39.2" cy="413.8" r="1.2"/><circle cx="68.1" cy="414.5" r="1"/><circle cx="26" cy="415.4" r="1.1"/><circle cx="30.3" cy="417.7" r="1.1"/><circle cx="45.3" cy="417.7" r="1.2"/><circle cx="58" cy="417.5" r="1"/><circle cx="70.5" cy="416" r="1.1"/><circle cx="75.7" cy="416.4" r="1.1"/><circle cx="17.2" cy="419.1" r="1.2"/><circle cx="22.5" cy="419.4" r="1.3"/><circle cx="32.8" cy="420.5" r="1.3"/><circle cx="71.4" cy="419.6" r="1.1"/><circle cx="88.8" cy="420.3" r="1"/><circle cx="95.6" cy="418.5" r="1.1"/><circle cx="100.5" cy="418.9" r="1.3"/><circle cx="102.7" cy="418.4" r="1.2"/><circle cx="16.4" cy="423.7" r="1.3"/><circle cx="43.4" cy="422.7" r="1.3"/><circle cx="66.7" cy="422.7" r="1.1"/><circle cx="79.2" cy="422.9" r="1.3"/><circle cx="83.3" cy="422.1" r="1.3"/><circle cx="87" cy="422.6" r="1.1"/><circle cx="91" cy="421.5" r="1"/><circle cx="94.6" cy="423.7" r="1.2"/><circle cx="23.8" cy="426.9" r="1.3"/><circle cx="87.1" cy="425.3" r="1.2"/><circle cx="24.1" cy="428.3" r="1"/><circle cx="33" cy="428.9" r="1.2"/><circle cx="40.7" cy="429.1" r="1"/><circle cx="45" cy="430.4" r="1"/><circle cx="50.5" cy="428.8" r="1.2"/><circle cx="68.9" cy="430.6" r="1.2"/><circle cx="85" cy="428.9" r="1.3"/><circle cx="87.3" cy="429.6" r="1.1"/><circle cx="20.6" cy="431.1" r="1.2"/><circle cx="32.1" cy="432" r="1.1"/><circle cx="50.4" cy="432.7" r="1.2"/><circle cx="74.4" cy="431.4" r="1.3"/><circle cx="79.6" cy="430.8" r="1.2"/><circle cx="92.6" cy="432.9" r="1.2"/><circle cx="32.4" cy="434.1" r="1.2"/><circle cx="37.3" cy="435.1" r="1.2"/><circle cx="91.6" cy="434.5" r="1"/><circle cx="58.6" cy="438.5" r="1.3"/><circle cx="67.9" cy="438.7" r="1.3"/><circle cx="76" cy="439.4" r="1.1"/><circle cx="88.4" cy="438.4" r="1.2"/><circle cx="38.6" cy="442.1" r="1.1"/><circle cx="68.5" cy="440.6" r="1"/><circle cx="84.8" cy="440.4" r="1.1"/><circle cx="95.5" cy="440.7" r="1.1"/><circle cx="28.4" cy="445.3" r="1.1"/><circle cx="49.9" cy="445.7" r="1.2"/><circle cx="53.7" cy="445" r="1.2"/><circle cx="68.2" cy="445" r="1.3"/><circle cx="71.3" cy="444.6" r="1.1"/><circle cx="76.3" cy="444.1" r="1"/><circle cx="80.3" cy="443.2" r="1.3"/><circle cx="92.6" cy="445.4" r="1.3"/><circle cx="97" cy="443.3" r="1.3"/><circle cx="36.6" cy="449.1" r="1.2"/><circle cx="40.2" cy="448.5" r="1"/><circle cx="87.1" cy="446.4" r="1.2"/><circle cx="32.3" cy="451.2" r="1.1"/><circle cx="57.3" cy="451.3" r="1.3"/><circle cx="70.4" cy="451.2" r="1.3"/><circle cx="74.6" cy="450.7" r="1.3"/><circle cx="38.9" cy="454.5" r="1.1"/><circle cx="39.5" cy="453.9" r="1.1"/><circle cx="48.8" cy="454.8" r="1.2"/><circle cx="52.8" cy="454.7" r="1"/><circle cx="60.1" cy="454.7" r="1.3"/><circle cx="80" cy="454.5" r="1.3"/><circle cx="38.4" cy="458.1" r="1.2"/><circle cx="60.8" cy="458.6" r="1.1"/><circle cx="65.6" cy="457.1" r="1.1"/><circle cx="68.7" cy="457.6" r="1.2"/><circle cx="71.3" cy="458.2" r="1.1"/><circle cx="78" cy="458.2" r="1.1"/><circle cx="40" cy="459.3" r="1"/><circle cx="43.2" cy="460.2" r="1.3"/><circle cx="51.1" cy="464" r="1.1"/><circle cx="60.1" cy="463.7" r="1.3"/><circle cx="64" cy="462.5" r="1.3"/><circle cx="67.1" cy="464" r="1.1"/></g>
<g fill="#1e38a0"><circle cx="36.4" cy="376.6" r="1.1"/><circle cx="14.9" cy="379.8" r="1.3"/><circle cx="25.2" cy="379.2" r="1.3"/><circle cx="31.2" cy="378.7" r="1.1"/><circle cx="37.2" cy="378.3" r="1.1"/><circle cx="61.5" cy="383.5" r="1.1"/><circle cx="69.5" cy="382.5" r="1.3"/><circle cx="19.2" cy="386.1" r="1"/><circle cx="29.2" cy="384.9" r="1.2"/><circle cx="25.5" cy="387.5" r="1.1"/><circle cx="42" cy="388" r="1.1"/><circle cx="60.4" cy="388.8" r="1.2"/><circle cx="75.8" cy="387.4" r="1.2"/><circle cx="18.6" cy="393.1" r="1.2"/><circle cx="30.7" cy="391" r="1.3"/><circle cx="33.7" cy="391.2" r="1.3"/><circle cx="45.5" cy="392.6" r="1"/><circle cx="52.1" cy="390.7" r="1.1"/><circle cx="66.6" cy="392" r="1.3"/><circle cx="75.8" cy="391.7" r="1.1"/><circle cx="18.3" cy="396.1" r="1.3"/><circle cx="32.4" cy="395.2" r="1.3"/><circle cx="41.8" cy="394" r="1"/><circle cx="50.2" cy="395.7" r="1.2"/><circle cx="63.8" cy="396" r="1.2"/><circle cx="69" cy="394.4" r="1.1"/><circle cx="81" cy="394" r="1.3"/><circle cx="87.1" cy="395.7" r="1.3"/><circle cx="23.5" cy="398.2" r="1.2"/><circle cx="31.5" cy="398" r="1.1"/><circle cx="44.3" cy="397.6" r="1"/><circle cx="59.5" cy="397.5" r="1.3"/><circle cx="74.6" cy="398.4" r="1.2"/><circle cx="81" cy="396.3" r="1.2"/><circle cx="87.9" cy="398.9" r="1.2"/><circle cx="91.8" cy="398.5" r="1.1"/><circle cx="32.9" cy="399.8" r="1.2"/><circle cx="52.7" cy="400.2" r="1.3"/><circle cx="70.8" cy="400.4" r="1.2"/><circle cx="74.9" cy="401.5" r="1.2"/><circle cx="94.3" cy="400.9" r="1.3"/><circle cx="22.9" cy="404" r="1"/><circle cx="26.2" cy="404.8" r="1"/><circle cx="59.6" cy="403.7" r="1.2"/><circle cx="78" cy="404.2" r="1.2"/><circle cx="91.8" cy="404.3" r="1.2"/><circle cx="20.3" cy="407.5" r="1.1"/><circle cx="71.5" cy="407.7" r="1.2"/><circle cx="83.5" cy="411.2" r="1.1"/><circle cx="91.3" cy="411.3" r="1.2"/><circle cx="18" cy="413.8" r="1.3"/><circle cx="49.5" cy="412.6" r="1.1"/><circle cx="63.8" cy="414.4" r="1.2"/><circle cx="82.1" cy="413" r="1.3"/><circle cx="40.3" cy="415.8" r="1.2"/><circle cx="51.5" cy="415.9" r="1.2"/><circle cx="56.1" cy="415.3" r="1.1"/><circle cx="61.4" cy="417.4" r="1.1"/><circle cx="87.6" cy="417.3" r="1.1"/><circle cx="99.6" cy="416.5" r="1.3"/><circle cx="24.2" cy="419.6" r="1.2"/><circle cx="39.5" cy="420.4" r="1.2"/><circle cx="45.1" cy="418.7" r="1.3"/><circle cx="50.2" cy="419.7" r="1.2"/><circle cx="58.1" cy="418.5" r="1"/><circle cx="60.3" cy="419.4" r="1.1"/><circle cx="22" cy="424.1" r="1"/><circle cx="32.8" cy="422.6" r="1.1"/><circle cx="37.2" cy="421.4" r="1"/><circle cx="55.7" cy="422.5" r="1.1"/><circle cx="59.5" cy="423.9" r="1.1"/><circle cx="100.1" cy="422.2" r="1.3"/><circle cx="101.7" cy="422.6" r="1.3"/><circle cx="16.8" cy="425.8" r="1.1"/><circle cx="22.6" cy="426.1" r="1.3"/><circle cx="28.4" cy="427" r="1.3"/><circle cx="53.2" cy="427" r="1.3"/><circle cx="71.5" cy="425.7" r="1.1"/><circle cx="75.9" cy="426.6" r="1.1"/><circle cx="79.4" cy="427.2" r="1.3"/><circle cx="83.2" cy="425.7" r="1.3"/><circle cx="90.1" cy="424.9" r="1.2"/><circle cx="92.1" cy="425.3" r="1.2"/><circle cx="96.6" cy="424.9" r="1.1"/><circle cx="100.1" cy="425.3" r="1.1"/><circle cx="25.8" cy="430.2" r="1.1"/><circle cx="38.1" cy="429" r="1"/><circle cx="47.6" cy="430" r="1.3"/><circle cx="60" cy="430" r="1.2"/><circle cx="80.3" cy="429.5" r="1.3"/><circle cx="95.2" cy="429.4" r="1.3"/><circle cx="98.9" cy="427.8" r="1.3"/><circle cx="16.6" cy="432.6" r="1.3"/><circle cx="25" cy="432.9" r="1.3"/><circle cx="28" cy="431.4" r="1.2"/><circle cx="39.5" cy="433" r="1"/><circle cx="57.5" cy="431.4" r="1.3"/><circle cx="70.8" cy="432.2" r="1"/><circle cx="85.5" cy="432.5" r="1.2"/><circle cx="88.6" cy="431.5" r="1"/><circle cx="95.5" cy="432.6" r="1.3"/><circle cx="100.8" cy="432.5" r="1"/><circle cx="20.2" cy="435.9" r="1.1"/><circle cx="41.3" cy="435.5" r="1.1"/><circle cx="50.9" cy="436.1" r="1.2"/><circle cx="79.9" cy="436.4" r="1.1"/><circle cx="88.6" cy="435.5" r="1.3"/><circle cx="95.3" cy="434.7" r="1.2"/><circle cx="40.8" cy="438.1" r="1.2"/><circle cx="61.7" cy="439.9" r="1.3"/><circle cx="93.1" cy="438.6" r="1.1"/><circle cx="97.6" cy="439.3" r="1.3"/><circle cx="22.6" cy="441.3" r="1.1"/><circle cx="27.8" cy="440.5" r="1.2"/><circle cx="56.3" cy="442.2" r="1.2"/><circle cx="63.9" cy="442.5" r="1.3"/><circle cx="66.6" cy="443" r="1.1"/><circle cx="78.3" cy="442.5" r="1"/><circle cx="38.1" cy="444.3" r="1.1"/><circle cx="42.2" cy="446" r="1.2"/><circle cx="46.6" cy="445.7" r="1.2"/><circle cx="61.7" cy="444.1" r="1.1"/><circle cx="64.7" cy="445.5" r="1.2"/><circle cx="82.5" cy="444.8" r="1.1"/><circle cx="30" cy="448.6" r="1.2"/><circle cx="34.7" cy="447.6" r="1.2"/><circle cx="43.8" cy="446.7" r="1"/><circle cx="58.4" cy="446.7" r="1.1"/><circle cx="81.3" cy="446.9" r="1.3"/><circle cx="84.4" cy="447.4" r="1.1"/><circle cx="90.9" cy="446.9" r="1.1"/><circle cx="94.4" cy="448.5" r="1.2"/><circle cx="36.5" cy="450" r="1.2"/><circle cx="39.2" cy="451.9" r="1"/><circle cx="49.3" cy="451.6" r="1.3"/><circle cx="54.9" cy="450.9" r="1.1"/><circle cx="83" cy="450.2" r="1.1"/><circle cx="90.6" cy="451.8" r="1.3"/><circle cx="64.8" cy="454.5" r="1.3"/><circle cx="88" cy="454.1" r="1.2"/><circle cx="77.1" cy="460.5" r="1.1"/><circle cx="80.3" cy="461" r="1.2"/><circle cx="85.1" cy="460.7" r="1.1"/><circle cx="56.9" cy="463.1" r="1.2"/></g>
<g fill="#2440b0"><circle cx="70.6" cy="376.9" r="1.1"/><circle cx="24" cy="380.6" r="1.3"/><circle cx="40.8" cy="380.1" r="1.3"/><circle cx="50.6" cy="379.1" r="1.3"/><circle cx="70.1" cy="378.5" r="1.2"/><circle cx="16.1" cy="382.3" r="1.2"/><circle cx="21.3" cy="383.4" r="1.3"/><circle cx="39.6" cy="383.3" r="1.2"/><circle cx="43.8" cy="383.2" r="1.1"/><circle cx="48.9" cy="381.1" r="1.2"/><circle cx="70.4" cy="382.3" r="1.2"/><circle cx="36.4" cy="386.3" r="1.3"/><circle cx="47.1" cy="384.5" r="1.1"/><circle cx="52.8" cy="385.9" r="1"/><circle cx="62.9" cy="386.3" r="1.2"/><circle cx="67" cy="386.2" r="1.2"/><circle cx="22" cy="389.3" r="1.2"/><circle cx="45.2" cy="388" r="1.3"/><circle cx="71" cy="388.6" r="1.2"/><circle cx="77.9" cy="389.4" r="1.1"/><circle cx="25.4" cy="390.9" r="1.2"/><circle cx="41.4" cy="391.9" r="1.1"/><circle cx="48.9" cy="391" r="1.2"/><circle cx="55.9" cy="392.5" r="1.3"/><circle cx="62.4" cy="391.8" r="1.1"/><circle cx="81.5" cy="391.1" r="1.1"/><circle cx="83.6" cy="391.7" r="1.3"/><circle cx="14.2" cy="394.9" r="1.2"/><circle cx="25.9" cy="394.1" r="1.2"/><circle cx="58.5" cy="395.6" r="1"/><circle cx="33" cy="398.8" r="1"/><circle cx="38" cy="397.1" r="1.1"/><circle cx="14.9" cy="400.7" r="1"/><circle cx="50.9" cy="402.1" r="1.2"/><circle cx="57.8" cy="399.9" r="1.1"/><circle cx="65.6" cy="400.1" r="1.3"/><circle cx="91.2" cy="400.4" r="1.3"/><circle cx="15" cy="403.2" r="1.2"/><circle cx="40.2" cy="404.2" r="1.1"/><circle cx="47.2" cy="404.2" r="1.1"/><circle cx="62" cy="404.1" r="1.3"/><circle cx="88" cy="404.4" r="1.2"/><circle cx="18.3" cy="407.3" r="1.3"/><circle cx="38.1" cy="408.2" r="1.2"/><circle cx="56.1" cy="407" r="1.1"/><circle cx="69" cy="405.7" r="1"/><circle cx="74.8" cy="406.5" r="1.2"/><circle cx="78.1" cy="406.9" r="1.2"/><circle cx="89.1" cy="406.4" r="1.1"/><circle cx="22.8" cy="409.7" r="1.2"/><circle cx="34.7" cy="409.5" r="1.2"/><circle cx="40.5" cy="410" r="1.3"/><circle cx="47.5" cy="410.8" r="1.2"/><circle cx="64.9" cy="409.6" r="1.2"/><circle cx="76.5" cy="411.1" r="1.3"/><circle cx="81.6" cy="409.9" r="1.3"/><circle cx="87.2" cy="409.2" r="1.2"/><circle cx="95.8" cy="410.7" r="1.3"/><circle cx="32.4" cy="412.2" r="1.2"/><circle cx="45.6" cy="413" r="1.1"/><circle cx="54" cy="412.9" r="1.2"/><circle cx="60" cy="414.2" r="1.1"/><circle cx="71.9" cy="413.9" r="1.2"/><circle cx="78.4" cy="414.2" r="1.2"/><circle cx="93.5" cy="413.9" r="1.1"/><circle cx="99.4" cy="413" r="1"/><circle cx="21.8" cy="415.2" r="1.2"/><circle cx="34.7" cy="416.2" r="1.1"/><circle cx="47.2" cy="415.2" r="1.2"/><circle cx="66.4" cy="415.8" r="1.1"/><circle cx="74.1" cy="416.9" r="1.2"/><circle cx="80" cy="415.3" r="1.3"/><circle cx="85.1" cy="416.6" r="1.1"/><circle cx="94.9" cy="416" r="1.2"/><circle cx="103.3" cy="416.6" r="1.2"/><circle cx="52.4" cy="418.8" r="1.3"/><circle cx="67.9" cy="420" r="1.3"/><circle cx="75.7" cy="419.9" r="1.3"/><circle cx="78.8" cy="420.3" r="1.3"/><circle cx="94" cy="418.4" r="1.1"/><circle cx="30.6" cy="422.1" r="1.2"/><circle cx="40.4" cy="422.5" r="1.3"/><circle cx="48.9" cy="422.3" r="1"/><circle cx="62.4" cy="422.6" r="1.2"/><circle cx="77.3" cy="422.5" r="1.2"/><circle cx="46" cy="425" r="1"/><circle cx="56.8" cy="426.9" r="1.3"/><circle cx="68.3" cy="425.2" r="1.1"/><circle cx="54.6" cy="429.1" r="1.1"/><circle cx="65.7" cy="429.8" r="1.2"/><circle cx="76.6" cy="427.6" r="1.1"/><circle cx="35.1" cy="431.5" r="1.1"/><circle cx="41.8" cy="432" r="1.1"/><circle cx="47.6" cy="430.8" r="1.1"/><circle cx="65.2" cy="430.9" r="1.2"/><circle cx="22.5" cy="434.5" r="1.1"/><circle cx="45.5" cy="436.2" r="1.1"/><circle cx="48.8" cy="436.4" r="1.3"/><circle cx="57.8" cy="436.1" r="1.3"/><circle cx="61.9" cy="435.1" r="1.2"/><circle cx="99.1" cy="435.8" r="1"/><circle cx="20.3" cy="439.4" r="1.1"/><circle cx="23.5" cy="439.3" r="1.2"/><circle cx="29.6" cy="439.3" r="1.3"/><circle cx="35.6" cy="437.4" r="1"/><circle cx="49.9" cy="438.3" r="1.2"/><circle cx="52.8" cy="437.7" r="1.1"/><circle cx="65.5" cy="438" r="1.3"/><circle cx="79.1" cy="437.6" r="1.3"/><circle cx="82.8" cy="438.8" r="1.3"/><circle cx="99.7" cy="437.6" r="1.2"/><circle cx="41.8" cy="441.5" r="1.1"/><circle cx="47.4" cy="441.1" r="1.3"/><circle cx="59.2" cy="442" r="1.2"/><circle cx="81.5" cy="442" r="1"/><circle cx="87.7" cy="442.4" r="1.1"/><circle cx="25.4" cy="445.8" r="1.1"/><circle cx="57.2" cy="445" r="1.2"/><circle cx="89.1" cy="444.8" r="1.1"/><circle cx="56.3" cy="448.7" r="1.2"/><circle cx="63" cy="447.6" r="1.1"/><circle cx="66.8" cy="447.2" r="1.1"/><circle cx="41.9" cy="449.6" r="1.1"/><circle cx="47.5" cy="450.5" r="1.1"/><circle cx="59.9" cy="452.1" r="1"/><circle cx="64.8" cy="449.9" r="1.1"/><circle cx="68.9" cy="450" r="1.1"/><circle cx="94.6" cy="451.6" r="1.1"/><circle cx="32.3" cy="454.1" r="1"/><circle cx="44.6" cy="454.3" r="1.2"/><circle cx="62.1" cy="453.8" r="1.1"/><circle cx="69.6" cy="454.8" r="1.1"/><circle cx="73.7" cy="453.8" r="1.1"/><circle cx="43.3" cy="456.5" r="1.2"/><circle cx="45.8" cy="458.2" r="1.3"/><circle cx="52.5" cy="456.9" r="1.3"/><circle cx="57.6" cy="456.6" r="1.1"/><circle cx="75.2" cy="456.5" r="1.1"/><circle cx="47.4" cy="460.1" r="1.3"/><circle cx="50.3" cy="458.8" r="1.1"/><circle cx="55.4" cy="460.2" r="1"/><circle cx="58.4" cy="459.5" r="1.3"/><circle cx="66.5" cy="460.6" r="1.2"/><circle cx="72.8" cy="459.7" r="1.2"/><circle cx="54.6" cy="464.4" r="1.1"/><circle cx="70.2" cy="463" r="1.3"/></g>
<g fill="#1a3090"><circle cx="48.2" cy="379.7" r="1.1"/><circle cx="59.7" cy="380.3" r="1.2"/><circle cx="65.5" cy="378.6" r="1.3"/><circle cx="23.7" cy="382.8" r="1.2"/><circle cx="35.6" cy="382.9" r="1.1"/><circle cx="45.1" cy="383.1" r="1.3"/><circle cx="56.6" cy="383.4" r="1.1"/><circle cx="27.5" cy="385.8" r="1.3"/><circle cx="33.9" cy="386.3" r="1.1"/><circle cx="45.6" cy="384.7" r="1.2"/><circle cx="55.8" cy="386.4" r="1"/><circle cx="68.7" cy="385.8" r="1.2"/><circle cx="14.9" cy="389.7" r="1"/><circle cx="28.6" cy="389.3" r="1.1"/><circle cx="36.5" cy="389.7" r="1.3"/><circle cx="38.1" cy="387.8" r="1.2"/><circle cx="50.2" cy="388" r="1.1"/><circle cx="57.8" cy="388.3" r="1.2"/><circle cx="68.9" cy="387.6" r="1.2"/><circle cx="58.2" cy="392" r="1.2"/><circle cx="70.9" cy="390.5" r="1.2"/><circle cx="47.5" cy="395.2" r="1"/><circle cx="53.2" cy="395.1" r="1.3"/><circle cx="61.7" cy="394.4" r="1.3"/><circle cx="71.1" cy="394.4" r="1.3"/><circle cx="14.4" cy="397.6" r="1.1"/><circle cx="26" cy="396.7" r="1.1"/><circle cx="48.7" cy="396.7" r="1.2"/><circle cx="54.1" cy="398.3" r="1.3"/><circle cx="64" cy="398.5" r="1"/><circle cx="24" cy="400.5" r="1.3"/><circle cx="27.2" cy="400.3" r="1.3"/><circle cx="35.9" cy="399.5" r="1.1"/><circle cx="39.6" cy="401.7" r="1"/><circle cx="47.6" cy="402" r="1.3"/><circle cx="61.9" cy="401.2" r="1.3"/><circle cx="81.6" cy="400" r="1.2"/><circle cx="87.1" cy="401" r="1.3"/><circle cx="19" cy="403.9" r="1"/><circle cx="34.1" cy="403.6" r="1.2"/><circle cx="36.2" cy="404.8" r="1"/><circle cx="69.9" cy="404.5" r="1.1"/><circle cx="80.2" cy="404.6" r="1.1"/><circle cx="96.5" cy="404.8" r="1.2"/><circle cx="98" cy="405.6" r="1.1"/><circle cx="27.8" cy="406.2" r="1.1"/><circle cx="33.1" cy="408.5" r="1.3"/><circle cx="49.3" cy="406" r="1.3"/><circle cx="52.4" cy="405.8" r="1.2"/><circle cx="65.6" cy="407.3" r="1.2"/><circle cx="82.7" cy="407.2" r="1"/><circle cx="87.2" cy="408.2" r="1.1"/><circle cx="97.9" cy="408" r="1.1"/><circle cx="16.2" cy="410.5" r="1.1"/><circle cx="18.5" cy="411.5" r="1"/><circle cx="45.2" cy="411.8" r="1.3"/><circle cx="55.1" cy="409.8" r="1.3"/><circle cx="62.6" cy="410.5" r="1.2"/><circle cx="69.4" cy="409.3" r="1"/><circle cx="72.3" cy="411.1" r="1.3"/><circle cx="98.4" cy="411.6" r="1.2"/><circle cx="14.5" cy="414.5" r="1.2"/><circle cx="42.8" cy="413.1" r="1.3"/><circle cx="57.9" cy="415" r="1"/><circle cx="74.9" cy="413.8" r="1"/><circle cx="85.9" cy="413.4" r="1.2"/><circle cx="90.4" cy="413.4" r="1"/><circle cx="96.7" cy="412.8" r="1.1"/><circle cx="16.9" cy="416.6" r="1.3"/><circle cx="20.5" cy="417.2" r="1.1"/><circle cx="38.1" cy="416.4" r="1.3"/><circle cx="90.9" cy="417.4" r="1"/><circle cx="28.2" cy="419.4" r="1.2"/><circle cx="35.1" cy="419.3" r="1.2"/><circle cx="43.5" cy="420.6" r="1.2"/><circle cx="64.6" cy="419" r="1"/><circle cx="81.6" cy="418.9" r="1.3"/><circle cx="86" cy="419.4" r="1.3"/><circle cx="18.9" cy="423.6" r="1.2"/><circle cx="27.2" cy="423.2" r="1.1"/><circle cx="51.3" cy="422.4" r="1.3"/><circle cx="70.3" cy="423.7" r="1.2"/><circle cx="73.8" cy="421.9" r="1.1"/><circle cx="15.5" cy="425.6" r="1.1"/><circle cx="32.7" cy="424.6" r="1"/><circle cx="35.4" cy="425.9" r="1.2"/><circle cx="40" cy="426.4" r="1.2"/><circle cx="43.9" cy="426.7" r="1.2"/><circle cx="50.5" cy="425.9" r="1.3"/><circle cx="60.2" cy="426.5" r="1.3"/><circle cx="65.5" cy="424.4" r="1.1"/><circle cx="15.6" cy="429.3" r="1.1"/><circle cx="20.2" cy="427.6" r="1.2"/><circle cx="29.8" cy="428.1" r="1.1"/><circle cx="61.4" cy="428.5" r="1.3"/><circle cx="72.6" cy="429.9" r="1.2"/><circle cx="91.1" cy="427.9" r="1.2"/><circle cx="102.1" cy="427.8" r="1.1"/><circle cx="54.7" cy="432.7" r="1.2"/><circle cx="60.3" cy="431.2" r="1.3"/><circle cx="68.2" cy="433.4" r="1.3"/><circle cx="81.8" cy="431" r="1.1"/><circle cx="16.6" cy="434.8" r="1"/><circle cx="28" cy="435.5" r="1.1"/><circle cx="30.9" cy="435.8" r="1.1"/><circle cx="56.9" cy="434.6" r="1.3"/><circle cx="65.8" cy="434.1" r="1.1"/><circle cx="70.2" cy="435.7" r="1"/><circle cx="74.5" cy="434.7" r="1.2"/><circle cx="77.4" cy="434.9" r="1.2"/><circle cx="84.3" cy="435.8" r="1.3"/><circle cx="32.9" cy="438.9" r="1"/><circle cx="43.5" cy="439.1" r="1.3"/><circle cx="47.3" cy="437.2" r="1.2"/><circle cx="72.6" cy="438.2" r="1"/><circle cx="86.1" cy="438.9" r="1.1"/><circle cx="30.4" cy="440.9" r="1"/><circle cx="33.1" cy="442.3" r="1.1"/><circle cx="45.6" cy="440.2" r="1.1"/><circle cx="52.8" cy="442" r="1.1"/><circle cx="72.5" cy="440.4" r="1.3"/><circle cx="90.6" cy="441.6" r="1.2"/><circle cx="97.7" cy="442.2" r="1.1"/><circle cx="31.2" cy="444.5" r="1.1"/><circle cx="36.3" cy="445.5" r="1.3"/><circle cx="86.2" cy="446" r="1.2"/><circle cx="48.9" cy="447.3" r="1.1"/><circle cx="52.4" cy="446.5" r="1.1"/><circle cx="68.7" cy="448.1" r="1.1"/><circle cx="72.2" cy="448.4" r="1.1"/><circle cx="78.1" cy="448.5" r="1.2"/><circle cx="29.5" cy="450.5" r="1"/><circle cx="79.3" cy="451.8" r="1.3"/><circle cx="85.2" cy="450.1" r="1.1"/><circle cx="56.5" cy="454" r="1.2"/><circle cx="77.3" cy="454.2" r="1.2"/><circle cx="85.4" cy="454.3" r="1"/><circle cx="90.2" cy="453.2" r="1.1"/><circle cx="50.3" cy="457.6" r="1.3"/><circle cx="81.7" cy="458.2" r="1"/><circle cx="84.9" cy="456.2" r="1.2"/><circle cx="89.1" cy="456.8" r="1.2"/><circle cx="63.2" cy="460.5" r="1.3"/><circle cx="69.4" cy="460.5" r="1.2"/><circle cx="46.3" cy="462.6" r="1.3"/><circle cx="74.7" cy="464.2" r="1"/></g>
<path d="M96.4 442.1L97.3 440.6M17.6 380L19.1 381.7M19.1 381.7L21.3 380.8M22.8 376.6L21.3 380.8M94.4 426.8L96.7 427.4M94.4 426.8L96.9 422.1M96.9 422.1L98.5 423.8M98.5 423.8L98.2 426.2M98.2 426.2L96.7 427.4M98.5 423.8L100.6 423.7M102.9 425.2L100.6 423.7M102.9 425.2L100.7 427.2M98.2 426.2L100.7 427.2M100.7 427.2L100.4 430M100.4 430L98.4 430.8M98.2 433.5L98.4 430.8M98.2 437.5L96.7 436.8M96.7 436.8L97.6 434M98.2 433.5L97.6 434M96.7 427.4L98.1 430.6M98.1 430.6L98.4 430.8M16.8 390L15.7 388M82.1 392.6L84 394.9M16 396L17.1 398.2M17.1 398.2L17.2 398.9M53 461.9L52.5 461.4M52.5 461.4L49.8 461.7M49.8 461.7L48.9 462.4M52.5 461.4L53 459.7M53 459.7L51.8 458.4M49.8 461.7L48.6 458.1M51.8 458.4L48.6 458.1M97.6 434L94.2 433.3M98.1 430.6L93.6 431.1M94.2 433.3L93.6 431.1M94.4 426.8L94.2 426.8M94.2 426.8L94 427M94 427L92.8 430.4M92.8 430.4L93.6 431.1M16.8 390L17.5 390.6M17.5 390.6L16.3 393M16 396L16.7 394M16.3 393L16.7 394M19.5 395.7L17.1 398.2M19.5 395.7L19.4 394.5M16.7 394L19.4 394.5M17.2 384.5L18.6 383.6M17.2 384.5L17.1 386.2M17.1 386.2L20 388.5M18.6 383.6L21.3 385.6M21.3 385.6L21.5 387.1M20 388.5L21.5 387.1M19.1 381.7L18.6 383.6M15.7 388L17.1 386.2M22.8 376.6L25.6 381.7M21.3 380.8L22.3 381.6M22.3 381.6L25.6 381.7M21.3 385.6L22.8 384.2M22.3 381.6L22.8 384.2M45.8 400L41.6 399.5M45.8 400L46.9 399M42.9 396L41.6 399.5M42.9 396L44.2 395.1M46.9 399L46.6 397.7M46.6 397.7L44.7 395.2M44.2 395.1L44.7 395.2M47.5 393.1L44.7 395.2M47.5 393.1L46.6 390.2M46.6 390.2L44 390.2M44.2 395.1L43.1 392.8M44 390.2L43.6 390.5M43.1 392.8L43.6 390.5M35.3 384.6L34.7 388M35.3 384.6L34.2 384M31.7 384.6L34.2 384M31.7 384.6L31.1 387M34.7 388L31.1 387M27.9 392.2L28 392.1M27.9 392.2L27.1 395.4M30.7 393.2L28.5 392.1M30.7 393.2L30.4 396.1M28 392.1L28.5 392.1M27.1 395.4L28.6 397.5M30.4 396.1L28.6 397.5M49.4 400.6L49.2 403.2M49.4 400.6L48.2 399.3M45.7 400.7L45.8 400M45.7 400.7L46.4 402.9M46.9 399L48.2 399.3M46.4 402.9L49.2 403.2M48.9 462.4L45.5 460.3M48.1 457L48.2 457.5M48.1 457L46.7 455.8M48.2 457.5L45.5 460.1M46.7 455.8L45.3 456.3M45.3 456.3L43.9 458.5M43.9 458.5L45.5 460.1M51.8 458.4L51.2 455.9M48.6 458.1L48.2 457.5M51.2 455.9L50.7 455.5M50.7 455.5L48.1 457M50.7 455.5L50.8 453.7M46.6 453.1L46.7 455.8M46.6 453.1L47.7 452.8M50.8 453.7L47.7 452.8M45.5 460.3L45.5 460.1M42.1 458.4L43.9 458.5M68.3 423.6L68.9 421.7M68.3 423.6L70.1 425.2M71.5 421.7L72.4 423.8M71.5 421.7L69.7 421.2M69.7 421.2L68.9 421.7M70.1 425.2L72.4 423.8M82.6 460.3L79.7 459M78.9 459.6L79.7 459M71.2 453.3L72.4 452.1M71.2 453.3L68.4 452.7M68.4 452.7L70.4 449M72.4 452.1L72.4 450.4M70.4 449L72.4 450.4M66.6 427.1L67.9 427.9M66.6 427.1L67.1 424.3M67.1 424.3L68.3 423.6M70.1 425.2L69.5 427.7M69.5 427.7L67.9 427.9M72.4 423.8L74 424.7M69.5 427.7L70.4 428.3M70.4 428.3L73.4 427.6M73.4 427.6L74 424.7M73.3 419.8L75.6 421.7M73.3 419.8L71.5 421.7M75.6 421.7L75.4 424.1M74 424.7L75.4 424.1M59.9 439.9L61.2 441.7M59.9 439.9L57.5 440.4M57.5 440.4L57.8 443.1M61.2 441.7L59.4 444M59.4 444L57.8 443.1M60.7 437.4L59.9 439.9M60.7 437.4L60.1 436.8M60.1 436.8L55.7 437.8M55.7 437.8L55.4 439.2M55.4 439.2L57.5 440.4M96.9 422.1L96.6 421.5M94.2 426.8L92.6 423.1M92.6 423.1L93.8 421.4M93.8 421.4L95.6 421.3M96.6 421.5L95.6 421.3M93.8 421.4L92 419.4M95.6 421.3L94.7 417.4M94.7 417.4L93 417.1M93 417.1L92 419.4M101.2 420.7L101.8 420.4M101.2 420.7L97.9 420M101.8 420.4L101.5 417.3M97.9 420L98 418.6M98 418.6L101.3 417.1M101.5 417.3L101.3 417.1M100.6 423.7L101.2 420.7M96.6 421.5L97.9 420M94.7 417.4L97 416.5M97 416.5L98 418.6M80.4 406.8L82.3 404.8M80.4 406.8L78.8 405.5M78.8 405.5L79.3 402.5M82.3 404.8L82.1 402.8M79.3 402.5L81.2 402.5M82.1 402.8L81.2 402.5M19.7 389.5L19.2 390.2M19.7 389.5L23.8 390.5M19.2 390.2L21.1 393M21.1 393L23 393.4M23.8 390.5L23.5 392.8M23 393.4L23.5 392.8M17.5 390.6L19.2 390.2M20 388.5L19.7 389.5M24.3 389.4L23.8 390.5M24.3 389.4L23.3 387.8M23.3 387.8L21.5 387.1M19.4 394.5L21.1 393M24.3 389.4L26.5 389.3M27.9 392.2L23.5 392.8M28 392.1L26.5 389.3M27.1 395.4L23.6 395.3M23.6 395.3L23 393.4M23.3 387.8L25.5 385.8M22.8 384.2L25.6 384.3M25.6 384.3L25.5 385.8M26.5 389.3L27.5 387.8M25.5 385.8L27.5 387.8M28.5 392.1L30.7 388.3M30.7 388.3L30.6 387.4M30.6 387.4L29.4 387.2M27.5 387.8L29.4 387.2M89.4 402.4L89 400.4M89.4 402.4L86.3 403.1M89 400.4L86.5 399.7M86.3 403.1L84.3 401.5M86.5 399.7L84.3 401.5M89.6 396.6L86.7 397.4M89.6 396.6L89.9 398.4M89.9 398.4L89 400.4M86.7 397.4L86.5 399.7M86.2 406L84.9 406.8M86.2 406L86.3 403.1M84.9 406.8L82.3 404.8M84.2 401.5L84.3 401.5M84.2 401.5L82.1 402.8M45.7 400.7L42.6 403.8M42.6 403.8L43.3 405.5M46.4 402.9L44.9 405.7M43.3 405.5L44.9 405.7M18.5 417.6L18.8 415.6M18.5 417.6L19.7 419.7M19.7 419.7L22.2 417.3M22.2 417.3L19.7 415.1M19.7 415.1L18.8 415.6M18.8 415.6L16.7 414.7M16.7 414.7L16.2 412.8M17.2 398.9L17.5 399.3M15.8 401.7L17.5 399.3M41.7 402.7L38.3 403.6M41.7 402.7L41.6 399.5M41.6 399.5L39.8 399.2M39.8 399.2L38.3 399.6M38.3 399.6L37 402.1M37 402.1L38.3 403.6M42.6 403.8L41.7 402.7M41.4 407.2L43.3 405.5M41.4 407.2L40.7 407.1M38.4 405.7L40.7 407.1M38.4 405.7L38.3 403.6M41.6 399.5L41.6 399.5M34.7 404.9L36 402.2M34.7 404.9L36.5 406.7M36 402.2L37 402.1M38.4 405.7L36.5 406.7M52.2 397.1L51.3 393.4M52.2 397.1L50.3 397.4M50.3 397.4L48.9 395.3M50.7 393.2L49 393.7M50.7 393.2L51.3 393.4M49 393.7L48.9 395.3M49.4 400.6L51.2 400.5M52.3 397.1L52.5 398.3M52.3 397.1L52.2 397.1M48.2 399.3L50.3 397.4M51.2 400.5L52.5 398.3M46.6 397.7L48.9 395.3M47.5 393.1L49 393.7M39 390.6L40.1 389.6M39 390.6L36.4 388.1M40.1 389.6L40.3 386.4M36.4 388.1L38.6 385.5M40.3 386.4L39.7 385.9M38.6 385.5L39.7 385.9M44 390.2L43.5 386.2M43.6 390.5L40.1 389.6M43.5 386.2L43.3 385.9M43.3 385.9L40.3 386.4M37.6 384.3L35.3 384.6M37.6 384.3L38.6 385.5M34.7 388L34.9 388.1M34.9 388.1L36.4 388.1M37.6 384.3L38.1 381M38.1 381L41.5 381.9M41.5 381.9L39.7 385.9M37.3 393L38.8 391.1M37.3 393L37.8 394.7M38.8 391.1L41 393.1M41 393.1L40.2 395.1M37.8 394.7L39.3 395.4M40.2 395.1L39.3 395.4M38.9 390.6L38.8 391.1M38.9 390.6L39 390.6M43.1 392.8L41 393.1M42.9 396L40.2 395.1M35.7 397.1L37.8 394.7M35.7 397.1L38.3 399.6M39.8 399.2L39.3 395.4M34.9 390L35.2 392.5M34.9 390L34.7 389.5M34.7 389.5L32.2 390.5M35.2 392.5L33.7 393.2M33.7 393.2L32.1 392.7M32.1 392.7L32.2 390.5M38.9 390.6L34.9 390M37.3 393L35.2 392.5M34.9 388.1L34.7 389.5M30.7 388.3L32.2 390.5M31.1 387L30.6 387.4M30.7 393.2L32.1 392.7M34.7 404.9L31.9 405.4M31.9 405.4L31.4 402.1M36 402.2L34.4 401.4M31.4 402.1L34.4 401.4M16.1 424.7L15.6 427.5M18.2 430.6L19.5 433.4M18.7 434.2L19.5 433.4M18.4 429.9L18.2 430.6M18.4 429.9L17.6 427.9M17.6 427.9L15.6 427.5M58.5 425.5L58.6 428.3M58.5 425.5L57.1 424.4M57.1 424.4L55.1 424.8M55.1 424.8L55.1 427.1M57.1 429.2L55.1 427.1M57.1 429.2L57.7 429.1M57.7 429.1L58.6 428.3M35.3 423.6L37.9 424.4M35.3 423.6L33.4 426.7M37.6 426.8L37.9 424.5M37.6 426.8L35.5 428.8M37.9 424.5L37.9 424.4M35.5 428.8L33.4 426.7M39.5 428.2L41.9 427.2M39.5 428.2L37.6 426.8M41.9 427.2L41.9 425M41.9 425L41.7 424.7M41.7 424.7L37.9 424.5M41.7 424.7L41.9 421.6M38.5 422.1L37.9 424.4M38.5 422.1L41.6 420.8M41.6 420.8L41.9 421.6M30.4 425.7L31.7 426.6M30.4 425.7L30.2 425.1M31.7 426.6L33.4 426.7M30.2 425.1L31.4 423.8M35.3 423.6L34.9 423.1M34.9 423.1L31.4 423.8M30.4 425.7L28.1 429.3M31.7 426.6L31.2 430.1M28.1 429.3L30.3 430.6M30.3 430.6L31.2 430.1M28 429.3L26.3 431.9M28 429.3L28.1 429.3M26.3 431.9L27 433.3M30.3 430.6L29.8 433.6M27 433.3L29.8 433.6M30.2 425.1L29.4 424.8M31.4 423.8L31.5 421.3M31.5 421.3L30.2 420M29.4 424.8L28.2 421.4M30.2 420L28.2 421.4M29 415.3L27.2 413.9M29 415.3L28.3 416.8M27.2 413.9L24.1 416.2M28.3 416.8L25.9 418M25.9 418L24.1 417.1M24.1 416.2L24.1 417.1M30.6 414.6L29 415.3M30.6 414.6L31.9 415.1M33 417.9L31.9 415.1M33 417.9L30.2 419.9M30.2 419.9L28.3 416.8M30.2 419.9L30.2 420M26.5 421.1L28.2 421.4M26.5 421.1L25.9 418M49.5 404.1L47.2 406M49.5 404.1L50.7 407M47.2 406L49.5 408.1M49.5 408.1L50.7 407.2M50.7 407L50.7 407.2M49.6 403.9L49.2 403.2M49.6 403.9L49.5 404.1M44.9 405.7L45.4 406M45.4 406L47.2 406M54 407.6L53.3 408.1M54 407.6L57.3 409M53.3 408.1L52.8 410.8M57.3 409L56.3 412M52.8 410.8L56.3 412M45.4 406L46 409.4M49.5 408.1L49.1 409.4M49.1 409.4L46 409.4M41.4 407.2L42.7 410.4M43.1 410.6L42.7 410.4M43.1 410.6L46 409.5M46 409.5L46 409.4M60.3 391L60.3 392.6M60.3 391L58.8 389.9M60.3 392.6L59.4 393.8M58.8 389.9L56.5 390.2M56.5 390.2L57.6 393.9M59.4 393.8L57.6 393.9M52.3 397.1L55.8 396.1M51.3 393.4L53.6 392.6M53.6 392.6L55.9 395.2M55.8 396.1L55.9 395.2M60.3 392.6L63.4 393.7M60.3 395.8L59.4 393.8M60.3 395.8L61.6 396.7M61.6 396.7L63.4 393.7M62.8 420.1L60.3 421.5M62.8 420.1L64.8 421.3M64.7 422.6L64.8 421.3M64.7 422.6L62.7 425.3M60.3 421.5L61.8 424.8M62.7 425.3L61.8 424.8M67.1 424.3L64.7 422.6M65.8 420.7L68.9 421.7M65.8 420.7L64.8 421.3M69.3 417.7L68.6 417.2M69.3 417.7L71.9 417.4M69.8 414L68.6 416.7M69.8 414L72.7 415.5M68.6 416.7L68.6 417.2M72.7 415.5L71.9 417.4M65.8 420.7L66.7 417.8M69.7 421.2L69.3 417.7M66.7 417.8L68.6 417.2M73.4 419.1L73.3 419.8M73.4 419.1L71.9 417.4M66.7 417.8L64.4 416.5M64.4 416.5L65.8 413.3M65.8 413.3L68.6 416.7M61 412.1L60.7 409.9M61 412.1L61.9 412.9M61.9 412.9L65 412.1M65 412.1L63 408.3M63 408.3L60.7 409.9M61.7 415.2L63.8 416.6M61.7 415.2L59.7 416.3M59.7 416.3L59.8 417.5M59.8 417.5L62.6 419M62.6 419L63.8 416.6M61.9 412.9L61.7 415.2M65 412.1L65.8 412.4M65.8 412.4L65.8 413.3M64.4 416.5L63.8 416.6M62.8 420.1L62.6 419M78.6 421.5L77.8 424.9M78.6 421.5L80.4 420.9M80.4 420.9L81.3 421.4M81.3 421.4L81.5 423.8M77.8 424.9L80.7 424.7M80.7 424.7L81.5 423.8M77 420.6L75.6 421.7M77 420.6L78.6 421.5M77.7 424.9L75.4 424.1M77.7 424.9L77.8 424.9M73.4 419.1L75.3 418.1M77 420.6L77.1 418.3M75.3 418.1L77.1 418.3M72.7 415.5L73.3 415M73.3 415L74.6 415.5M75.3 418.1L74.6 415.5M92.4 450.1L91.7 449.4M91.7 449.4L92.9 447.3M95.2 445.7L92.9 447.3M96.4 442.1L94 443.2M95.2 445.7L94 443.2M94.2 433.3L93.4 434.7M92.8 430.4L91.3 430.7M91.3 430.7L90.2 433M90.2 433L93.4 434.7M64.9 461.2L66.1 462.2M64.9 461.2L64.6 458.9M64.6 458.9L66.8 458.3M67.5 462L68 459.3M67.5 462L66.1 462.2M66.8 458.3L68 459.3M53 459.7L55.3 457.5M51.2 455.9L54.9 456.2M54.9 456.2L55.2 456.6M55.3 457.5L55.2 456.6M64.9 461.2L62 462.4M68.3 462.6L67.5 462M53 461.9L54.7 462.2M74.8 461.5L72.8 462.4M68.3 462.6L71.3 461.4M72.8 462.4L71.3 461.4M73.4 427.6L74.6 428.9M77.7 424.9L77.7 426M77.7 426L74.6 428.9M54.7 439.7L55.4 439.2M54.7 439.7L54.6 443.1M57.8 443.1L55.5 443.9M54.6 443.1L55.5 443.9M56.3 446.7L58.7 449.1M56.3 446.7L59.6 444.7M59.6 444.7L61 446.3M61 446.3L60.6 448.9M60.6 448.9L59.2 449.3M59.2 449.3L58.7 449.1M59.4 444L59.6 444.7M55.8 446.6L55.5 443.9M55.8 446.6L56.3 446.7M94 427L91 426.4M92.6 423.1L91.2 423.4M91.2 423.4L91 426.4M88.9 427.3L86.8 427.5M88.9 427.3L89.7 429.5M89.7 429.5L86.8 431.1M86.8 427.5L85.9 430.5M86.8 431.1L85.9 430.5M91.3 430.7L89.7 429.5M91 426.4L89 427.2M89 427.2L88.9 427.3M77.7 401.7L79.3 402.5M77.7 401.7L75.4 403.7M78.8 405.5L76.7 406M76.7 406L75.4 403.7M65.8 412.4L67.3 411.5M69.8 414L69.5 412.2M69.5 412.2L67.3 411.5M27.7 384.1L26 383.8M27.7 384.1L30.4 382.6M26 383.8L25.8 381.7M25.8 381.7L28.1 379.8M28.1 379.8L28.4 379.7M28.4 379.7L30.4 381.5M30.4 382.6L30.4 381.5M25.6 384.3L26 383.8M29.4 387.2L27.7 384.1M31.7 384.6L30.4 382.6M25.6 381.7L25.8 381.7M67.9 377.3L67.9 379.8M67.9 379.8L70.4 380.6M57.3 385L58.4 382.3M57.3 385L54.8 384.7M54.8 384.7L54 383.6M58.4 382.3L57.3 381.1M57.3 381.1L55.3 381.8M55.3 381.8L54 383.6M34.5 380.5L33.1 380.1M34.5 380.5L35.4 380.2M35.4 380.2L35.6 377.9M34.2 384L34.5 380.5M30.4 381.5L33.1 380.1M38.1 381L38 380.9M38 380.9L35.4 380.2M41.9 381.8L43.3 385.8M41.9 381.8L42.8 381.1M42.8 381.1L44.2 381.7M44.2 381.7L44.4 384.2M44.4 384.2L43.3 385.8M41.5 381.9L41.9 381.8M43.3 385.9L43.3 385.8M23.4 430.8L26.3 431.9M23.4 430.8L23.4 430.8M28 429.3L26.1 427.9M26.1 427.9L23.4 430.8M16.1 424.7L17.8 424.7M17.5 421.4L17.8 424.7M19.7 419.7L19.7 420.5M17.5 421.4L19.7 420.5M17.6 427.9L18.9 425.7M18.9 425.7L17.8 424.7M39.1 409L36.1 407.8M39.1 409L38.4 411.5M36.6 411.1L36 407.9M36.6 411.1L37.3 411.8M36 407.9L36.1 407.8M37.3 411.8L38.4 411.5M40.7 407.1L39.1 409M36.5 406.7L36.1 407.8M42.7 410.4L40.4 412.1M40.4 412.1L38.4 411.5M33.7 410.9L36.6 411.1M33.7 410.9L33.6 414.2M33.6 414.2L36.5 414.2M36.5 414.2L37.3 411.8M40.9 414L40.4 412.1M40.9 414L38.7 415.3M38.7 415.3L36.7 414.6M36.5 414.2L36.7 414.6M70.4 380.6L69.5 384.1M69.5 384.1L70.6 384.7M67.9 379.8L67.2 380.5M67.2 380.5L67.5 383.8M69.5 384.1L67.5 383.8M64.7 385.3L62.3 388.1M64.7 385.3L66.3 388.7M66.3 388.9L66.3 388.7M66.3 388.9L64.4 390.1M64.4 390.1L63 389.6M63 389.6L62.3 388.1M64.7 384.8L64.7 385.3M64.7 384.8L67.5 383.9M67.9 386.8L67.5 383.9M67.9 386.8L66.3 388.7M60.3 391L63 389.6M64.5 393.3L63.4 393.7M64.5 393.3L64.4 390.1M59.5 386.8L58.8 389.9M59.5 386.8L60.5 386.5M60.5 386.5L62.3 388.1M61 385.3L63.8 384.2M61 385.3L59.6 382.5M59.6 382.5L61.6 381.3M61.6 381.3L63.4 382.2M63.8 384.2L63.4 382.2M64.7 384.8L63.8 384.2M60.5 386.5L61 385.3M59.5 386.8L58 386.2M58 386.2L57.3 385M58.4 382.3L59.6 382.5M65.2 380.6L63.4 382.2M67.2 380.5L65.2 380.6M67.5 383.8L67.5 383.9M46.6 390.2L47.7 389M50.7 393.2L50.3 389.9M47.7 389L50.3 389.9M44.2 381.7L46.7 381.6M46.9 381.2L46.7 381.6M19.5 395.7L21.6 397.5M23.6 395.3L23.4 395.9M23.4 395.9L21.6 397.5M17.5 399.3L19 399.9M19 399.9L21.2 398.6M21.6 397.5L21.2 398.6M28.5 397.7L30.1 400.9M28.5 397.7L25.5 398.8M25.5 398.8L25.3 399.3M25.3 399.3L25.8 402.3M30.1 401.1L30.1 400.9M30.1 401.1L27.6 402.6M27.6 402.6L25.8 402.3M28.6 397.5L28.5 397.7M23.4 395.9L25.5 398.8M22.8 399.7L25.3 399.3M22.8 399.7L21.2 398.6M33 396.9L32.1 399M33 396.9L34.1 396.6M32.1 399L34.3 399.8M34.1 396.6L35.1 397.2M35.1 397.2L34.3 399.8M30.4 396.1L33 396.9M30.1 400.9L32.1 399M33.7 393.2L34.1 396.6M31.4 402.1L30.1 401.1M34.4 401.4L34.3 399.8M35.7 397.1L35.1 397.2M57.1 429.2L55.3 430.9M57.7 429.1L58.7 430.9M56.4 432.9L55.3 430.9M56.4 432.9L58.9 433.4M58.7 430.9L58.9 433.4M55.4 436.7L59.2 433.8M55.4 436.7L54.3 435.4M56.4 432.9L54.3 435.4M58.9 433.4L59.2 433.8M60.1 436.8L59.3 433.8M55.4 436.7L55.7 437.8M59.3 433.8L59.2 433.8M59.7 428.3L61.5 430.4M59.7 428.3L63.1 426.3M63.9 427.2L63.6 429.2M63.9 427.2L63.1 426.3M63.6 429.2L62.7 430.9M62.7 430.9L61.5 430.4M58.6 428.3L59.7 428.3M58.7 430.9L61.5 430.4M58.5 425.5L61.8 424.8M62.7 425.3L63.1 426.3M66.6 427.1L63.9 427.2M67.9 427.9L67.1 431M67.1 431L63.6 429.2M62.8 432.4L62.7 430.9M62.8 432.4L59.3 433.8M39.5 428.2L39.4 430.9M41.9 427.2L43.1 428.9M43.1 428.9L42.9 429.8M42.9 429.8L39.8 431M39.4 430.9L39.8 431M53.8 424L55.1 424.8M53.8 424L52.5 424.6M52.5 424.6L51.5 427M55.1 427.1L52.8 428.8M52.8 428.8L51.5 427M24 417.1L22.6 421.5M24 417.1L24.1 417.1M26.5 421.1L24.5 422.5M24.5 422.5L22.6 421.5M24 417.1L22.2 417.3M19.7 420.5L20.8 421.4M22.6 421.5L20.8 421.4M20 425.4L20.2 425.2M20 425.4L18.9 425.7M20.2 425.2L20.8 421.4M53.3 408.1L50.7 407.2M52.8 410.8L51.8 411.4M49.1 409.4L49.5 410.2M51.8 411.4L49.5 410.2M37.4 419.4L34.7 421.7M37.4 419.4L37.5 418.9M37.5 418.9L36.2 417.5M36.2 417.5L33.1 417.9M33.1 417.9L34.3 421.4M34.3 421.4L34.7 421.7M38.5 422.1L37.4 419.4M34.9 423.1L34.7 421.7M41.6 418.5L41.6 420.8M41.6 418.5L40.1 418.2M40.1 418.2L37.5 418.9M40.1 418.2L38.7 415.3M36.7 414.6L36.2 417.5M33 417.9L33.1 417.9M31.9 415.1L33.6 414.2M31.5 421.3L34.3 421.4M52.5 398.3L55.3 400.7M55.8 396.1L56.7 397.5M55.3 400.7L56.7 397.5M60.3 395.8L57.2 397.6M57.6 393.9L55.9 395.2M57.2 397.6L56.7 397.5M61.4 399L61.8 397.2M61.4 399L60.2 399.8M61.6 396.7L61.8 397.2M57.2 397.6L60.2 399.8M64.3 402.7L60.8 402.7M64.3 402.7L64.3 402.6M61.4 399L63.7 400.4M60.8 402.7L59.6 401.4M64.3 402.6L63.7 400.4M60.2 399.8L59.6 401.4M61.8 397.2L64.2 397.1M63.7 400.4L64.8 399.3M64.2 397.1L64.8 399.3M57.5 416.1L59.6 416.3M57.5 416.1L56.3 412.8M59.6 416.3L58.7 413M58.7 413L56.4 412.5M56.3 412.8L56.4 412.5M53.8 416.4L53.7 415.2M53.8 416.4L55.2 418.1M53.7 415.2L56.3 412.8M55.2 418.1L57.5 416.1M61 412.1L58.7 413M59.7 416.3L59.6 416.3M57.3 409L58.1 408.5M56.3 412L56.4 412.5M60.7 409.9L58.1 408.5M53.7 415.2L51.6 413.5M51.8 411.4L51.6 413.5M59.7 417.7L55.3 418.8M59.7 417.7L58.8 421.2M58.5 421.2L55.3 419.3M58.5 421.2L58.8 421.2M55.3 419.3L55.3 418.8M55.2 418.1L55.3 418.8M59.8 417.5L59.7 417.7M60.3 421.5L58.8 421.2M53.6 421L55.3 419.3M53.6 421L53.8 424M57.1 424.4L58.5 421.2M63 408.3L63.1 408M60.6 405.5L58.6 406.2M60.6 405.5L62.9 406.3M58.1 408.5L58.6 406.2M62.9 406.3L63.1 408M64.3 402.7L64.4 404.7M60.8 402.7L60.6 405.5M62.9 406.3L64.4 404.7M67.3 411.5L67.4 408.5M63.1 408L67.4 408.5M86.2 406L87.3 406.3M84.9 406.8L84.4 408.8M87.3 406.3L88.5 407.8M88.5 407.8L85.3 409.9M85.3 409.9L84.4 408.8M78.3 417.5L77.9 416M78.3 417.5L79.5 417.8M77.9 416L80.4 413.5M79.5 417.8L82.3 416.6M80.4 413.5L82.6 415.6M82.3 416.6L82.6 415.6M74.6 415.5L76.7 414.8M76.7 414.8L77.9 416M77.1 418.3L78.3 417.5M80.4 420.9L79.5 417.8M83.8 419L83.8 419.9M83.8 419L82.3 416.6M83.8 419.9L81.3 421.4M86.8 415.4L86.2 417.7M86.8 415.4L84 414.7M86.2 417.7L83.8 419M84 414.7L82.6 415.6M84.1 452.3L84 449.1M84.1 452.3L86.8 452.2M88.4 449.6L86.4 448.5M88.4 449.6L87.8 451.5M84 449.1L86.4 448.5M87.8 451.5L86.8 452.2M82.4 455.7L82.8 454.6M82.4 455.7L83.9 458.3M82.8 454.6L86.8 455.6M83.9 458.3L86.7 458.3M86.7 458.3L87 456M87 456L86.8 455.6M82.6 460.3L83.9 458.3M79.7 459L79.8 456.7M79.8 456.7L82.4 455.7M84.1 452.3L82.8 453.2M82.8 453.2L82.8 454.6M86.8 452.2L86.8 455.6M97.3 440.6L95.6 438.5M94 443.2L93.3 442.6M93.3 442.6L93.2 441.2M93.2 441.2L95.6 438.5M96.7 436.8L95.7 437.5M93.4 434.7L93.3 436.2M93.3 436.2L95.7 437.5M95.6 438.5L95.7 437.5M81.7 452.5L80.3 449.6M81.7 452.5L79 453.6M80.3 449.6L76.9 450.9M79 453.6L76.8 451.6M76.8 451.6L76.9 450.9M80.4 449.2L80.3 449.6M80.4 449.2L82.7 448.3M82.8 453.2L81.7 452.5M84 449.1L82.7 448.3M78.5 455.9L79.8 456.7M78.5 455.9L79 453.6M75.1 448.3L76.9 450.9M75.1 448.3L72.4 450.4M75.5 453L72.4 452.1M75.5 453L76.8 451.6M70.4 428.3L70.7 430.3M67.1 431L67.2 431.5M70.7 430.3L69.2 432M67.2 431.5L69.2 432M90.2 433L89.6 433.5M86.8 431.1L87.6 433.5M87.6 433.5L89.6 433.5M88.4 449.6L89.1 449.1M89.1 449.1L89.1 446.8M86.4 448.5L85.8 447.1M85.8 447.1L87.6 444.9M87.6 444.9L89.1 446.8M91.7 449.4L89.1 449.1M92.9 447.3L90.9 445.2M89.1 446.8L90.9 445.2M93.3 442.6L91.3 443.5M90.9 445.2L91.3 443.5M60.6 461.1L59 457.9M60.6 461.1L60.6 461.1M60.6 461.1L58.8 461.9M58.8 461.9L57.3 461.3M57.3 461.3L56.5 458.3M56.5 458.3L59 457.9M63.2 458.2L60.6 461.1M63.2 458.2L64.6 458.9M62 462.4L60.6 461.1M54.7 462.2L57.3 461.3M55.3 457.5L56.5 458.3M58.3 454.8L55.2 456.6M58.3 454.8L59.7 456.8M59.7 456.8L59 457.9M60.7 437.4L63 437.2M63 437.2L64.4 439.9M61.2 441.7L61.6 441.8M64.4 439.9L61.6 441.8M67.2 455.5L70.2 456.7M67.2 455.5L66.8 458.3M68 459.3L69.6 459M69.6 459L70.2 456.7M71.3 461.4L70.9 460M69.6 459L70.9 460M71.2 453.3L71.9 455.8M68.4 452.7L67.5 452.9M67.2 455.4L67.5 452.9M67.2 455.4L67.2 455.5M70.2 456.7L71.9 455.8M81.7 427.7L78.6 428.5M81.7 427.7L82.6 428.3M82.6 428.3L82.7 428.7M82.7 428.7L80.5 430.7M80.5 430.7L78.3 429.2M78.6 428.5L78.3 429.2M80.7 424.7L81.7 427.7M77.7 426L78.6 428.5M85 424.3L85.1 426.4M85 424.3L81.5 423.8M85.1 426.4L82.6 428.3M85.1 426.4L86.8 427.5M84.1 430.6L82.7 428.7M84.1 430.6L85.9 430.5M80.5 433.6L81.8 434M80.5 433.6L80.5 430.7M84.1 430.6L82.9 433.4M82.9 433.4L81.8 434M87.6 433.5L86.5 434.7M82.9 433.4L86.5 434.7M74.6 428.9L74.6 429M78.3 429.2L76.8 430.4M74.6 429L76.8 430.4M70.7 430.3L72.7 431.7M74.6 429L72.7 431.7M54.9 456.2L54.4 453.3M58.5 453.6L58 452.9M58.5 453.6L58.3 454.8M58 452.9L56 452.4M54.4 453.3L56 452.4M50.8 453.7L52.3 452.1M54.4 453.3L52.3 452.1M58 452.9L59.2 449.3M58.7 449.1L56.1 450.3M56 452.4L56.1 450.3M70.4 449L67.5 448.9M70.4 449L70.7 446.7M67.5 448.9L68.2 446.5M68.2 446.5L70.1 446.2M70.7 446.7L70.1 446.2M70.4 449L70.4 449M67.5 452.9L66.8 452.3M66.8 452.3L66.8 449.4M66.8 449.4L67.5 448.9M75.1 448.3L75.1 447M75.1 447L74.1 446.1M74.1 446.1L70.7 446.7M65.2 447.1L66.6 445.6M65.2 447.1L62.9 445.5M65.1 443.4L63.5 444M65.1 443.4L66.5 444.5M66.5 444.5L66.6 445.6M62.9 445.5L63.5 444M66.8 449.4L65.2 448.1M65.2 448.1L65.2 447.1M68.2 446.5L66.6 445.6M62 450.1L65.2 448.1M62 450.1L60.6 448.9M61 446.3L62.9 445.5M64.4 439.9L65.5 440.4M65.5 440.4L65.1 443.4M61.6 441.8L63.5 444M69.2 442.7L66.5 444.5M69.2 442.7L66.6 440.5M66.6 440.5L65.9 440.3M65.9 440.3L65.5 440.4M69.2 442.7L69.7 442.8M69.7 442.8L70.1 446.2M62.3 450.8L63.9 452.3M62.3 450.8L60.3 453.3M63.9 452.3L62.9 456M60.3 453.3L62.4 456.2M62.9 456L62.6 456.3M62.6 456.3L62.4 456.2M62 450.1L62.3 450.8M66.8 452.3L63.9 452.3M58.5 453.6L60.3 453.3M67.2 455.4L62.9 456M59.7 456.8L62.4 456.2M63.2 458.2L62.6 456.3M88.5 423.8L89.1 422.9M88.5 423.8L85.1 424.2M85.1 424.2L85.2 421.1M89.1 422.8L89.1 422.9M89.1 422.8L87.1 420.7M87.1 420.7L85.2 421.1M91.2 423.4L89.1 422.9M89 427.2L88.5 423.8M85 424.3L85.1 424.2M83.8 419.9L85.2 421.1M90.8 419.4L92 419.4M90.8 419.4L89.1 422.8M87.8 419.2L87.1 420.7M87.8 419.2L89.5 418.6M89.5 418.6L90.8 419.4M87.8 419.2L86.2 417.7M92.1 412.8L91.7 415.1M92.1 412.8L88.8 411.2M91.7 415.1L89.2 415.5M88.2 411.7L88.8 411.2M88.2 411.7L88.2 414.9M88.2 414.9L89.2 415.5M93 417.1L92.6 415.8M89.5 418.6L89.2 415.5M92.6 415.8L91.7 415.1M90.2 408.9L88.5 407.8M90.2 408.9L88.8 411.2M85.8 410.8L85.3 409.9M85.8 410.8L88.2 411.7M86.8 415.4L88.2 414.9M84 414.7L84.2 412.9M84.2 412.9L85.8 410.8M92.6 415.8L95.7 414.2M93.8 411.4L94.9 412.2M93.8 411.4L92.1 412.8M94.9 412.2L95.7 414.2M97 416.5L97.2 415.1M95.7 414.2L97.2 415.1M101.3 417.1L101.3 414.6M101.3 414.6L97.9 414.7M97.2 415.1L97.9 414.7M77.7 401.7L77.4 400.3M81.2 402.5L80.6 398.4M77.4 400.3L79.6 398.2M80.6 398.4L79.6 398.2M84.2 401.5L83 397.6M80.6 398.4L83 397.6M86.7 397.4L83.8 396M83 397.6L83.8 396M84 394.9L83.8 395.7M83.8 395.7L83.8 396M72.9 400.3L76.4 399.5M72.9 400.3L72.6 402.4M76.4 399.5L77.4 400.3M75.4 403.7L74.3 403.7M72.6 402.4L74.3 403.7M87.3 406.3L89.9 404.6M89.4 402.4L89.9 402.7M89.9 402.7L89.9 404.6M78.8 392L75.6 389.7M82.1 392.6L78.8 392.1M78.8 392.1L78.8 392M70.6 384.7L70.7 386.6M73.4 388L70.7 386.6M67.9 386.8L70.4 386.8M70.7 386.6L70.4 386.8M53 379.2L51.2 381.2M49.6 380L51.2 381.2M55.3 381.8L53 379.2M54 383.6L51.2 383.3M51.2 383.3L51.2 381.2M46.9 381.2L49.6 380M24.5 424.7L24.7 424.6M24.5 424.7L21.9 427.9M24.7 424.6L25.9 425.8M21.9 427.9L21.9 428.1M21.9 428.1L25.9 427M25.9 425.8L25.9 427M24.5 422.5L24.7 424.6M20.2 425.2L24.5 424.7M20 425.4L21.9 427.9M29.4 424.8L25.9 425.8M18.4 429.9L21.8 429M21.8 429L21.9 428.1M26.1 427.9L25.9 427M23.4 430.8L21.8 429M51.9 389L51 386.1M51.9 389L54.7 389.7M51 386.1L54.4 386.8M54.4 386.8L55 389M55 389L54.8 389.6M54.7 389.7L54.8 389.6M53.6 392.6L54.7 389.7M50.3 389.9L51.9 389M58 386.2L55 389M54.8 384.7L54.4 386.8M56.5 390.2L54.8 389.6M46.3 386.4L46.2 383.9M46.3 386.4L47.7 387.2M47.7 387.2L50.1 385M46.2 383.9L47.2 382.5M47.2 382.5L50.2 384.3M50.1 385L50.2 384.3M43.5 386.2L46.3 386.4M44.4 384.2L46.2 383.9M47.7 389L47.7 387.2M51 386.1L50.1 385M46.7 381.6L47.2 382.5M51.2 383.3L50.2 384.3M41.6 418.5L42.2 418M40.9 414L43 415.8M43 415.8L42.4 417.6M42.2 418L42.4 417.6M54.7 439.7L51.8 439.7M50.1 442.8L50.3 440.9M50.1 442.8L51.7 444.1M51.7 444.1L54.6 443.1M51.8 439.7L50.3 440.9M35.5 428.8L35.5 428.9M39.4 430.9L37.4 431.4M37.4 431.4L35.5 428.9M31.2 430.1L33.2 430.6M35.5 428.9L33.2 430.6M29.8 433.6L29.8 433.6M30.3 433.7L29.8 433.6M30.3 433.7L33.7 432.6M33.2 430.6L33.7 432.6M46.6 453.1L44.5 451.5M47.7 452.8L49.5 449.6M49.5 449.6L46.2 448.4M46.2 448.4L46.2 448.4M46.2 448.4L44.9 449.6M44.5 451.5L44.9 449.6M55.3 430.9L52.7 430.9M52.8 428.8L52.5 430.7M52.7 430.9L52.5 430.7M18.7 434.2L17 438.1M24.8 436.2L24.8 436.4M24.8 436.2L22.7 432.2M24.8 436.4L22.5 437.1M22.5 437.1L19.7 433.5M19.7 433.5L22.7 432.2M23.4 430.8L22.7 432.2M27 433.3L24.8 436.2M19.5 433.4L19.7 433.5M22 437.7L17 438.1M22 437.7L22.5 437.1M30.6 414.6L30.6 413.1M27.2 413.9L26.4 412.4M26.4 412.4L28.5 410.6M28.5 410.6L30.6 413.1M19.7 415.1L20.2 414.2M24.1 416.2L23.1 413.5M20.2 414.2L23.1 413.5M26.4 412.4L24.5 411.8M24.5 411.8L23.8 412.2M23.1 413.5L23.8 412.2M55.4 401.5L56.9 402.5M55.4 401.5L53.3 402.4M54.2 406.1L52.9 404.4M54.2 406.1L57.1 404.5M57.1 404.5L56.9 402.5M53.3 402.4L52.7 403.5M52.7 403.5L52.9 404.4M55.3 400.7L55.4 401.5M59.6 401.4L56.9 402.5M51.2 400.5L53.3 402.4M54 407.6L54.2 406.1M50.7 407L52.9 404.4M58.6 406.2L57.1 404.5M49.6 403.9L52.7 403.5M64.3 402.6L67 401.6M64.8 399.3L66.2 399.1M66.2 399.1L67 401.6M72.3 399.2L72.1 397.1M72.3 399.2L69 400.3M72.1 397.1L70 396.6M69 400.3L68.1 397.1M70 396.6L68.1 397.1M66.2 399.1L67.8 397M69 400.3L68.6 401.9M68.6 401.9L67 401.6M68.1 397.1L67.8 397M64.2 397.1L66.5 395.7M67.8 397L66.5 395.7M64.5 393.3L66.2 394.4M66.2 394.4L66.5 395.7M81.9 411.5L83.3 409.1M81.9 411.5L80 412.1M80 412.1L79.2 411.5M79.2 411.5L78.7 409.5M78.7 409.5L80.3 408M80.3 408L83.3 409.1M84.2 412.9L81.9 411.5M84.4 408.8L83.3 409.1M80.4 413.5L80 412.1M76.7 414.8L76.7 413.1M76.7 413.1L79.2 411.5M80.4 406.8L80.3 408M76.7 406L76.3 408.5M76.3 408.5L78.7 409.5M74.3 409.1L74.4 409.2M74.3 409.1L71.4 409.6M74.4 409.2L74.4 411.7M69.9 412.1L71.4 409.6M69.9 412.1L73.4 412.7M73.4 412.7L74.4 411.7M76.3 408.5L74.4 409.2M74.3 403.7L73 406.7M73 406.7L74.3 409.1M76.7 413.1L74.4 411.7M73.3 415L73.4 412.7M69.5 412.2L69.9 412.1M90.1 455.1L88.1 451.8M88.1 451.8L92.5 453.1M87.8 451.5L88.1 451.8M87 456L90.1 455.1M92.4 450.1L92.5 453.1M63.5 433L66.6 432.1M63.5 433L64.1 435.7M66.6 432.1L67.8 435.8M64.1 435.7L67.4 436.1M67.4 436.1L67.7 436M67.7 436L67.8 435.8M62.8 432.4L63.5 433M67.2 431.5L66.6 432.1M63 437.2L64.1 435.7M69.2 432L70 433.8M70 433.8L67.8 435.8M65.9 440.3L67.4 436.1M82.7 448.3L83.4 446.1M85.8 447.1L84 445.7M83.4 446.1L84 445.7M93.2 441.2L90.9 439M93.3 436.2L90.9 437.3M90.9 439L90.9 437.3M89.6 433.5L90.8 437.2M90.9 437.3L90.8 437.2M69.7 442.8L70.6 442.2M74.1 446.1L73.7 443M70.6 442.2L73.7 443M87.6 444.9L87.5 444.5M84.8 443.3L84 445.7M84.8 443.3L85.2 443.2M85.2 443.2L87.5 444.5M91.3 443.5L89.6 442.9M87.5 444.5L89.6 442.9M90.9 439L88.6 440.6M89.6 442.9L88.6 440.6M72.8 456.3L73.3 457.7M72.8 456.3L75.5 454.6M73.3 457.7L75.2 459.1M75.5 454.6L77.1 456.1M77.1 456.1L75.9 458.7M75.9 458.7L75.2 459.1M70.9 460L73.3 457.7M71.9 455.8L72.8 456.3M75.5 453L75.5 454.6M74.8 461.5L75.2 459.1M78.5 455.9L77.1 456.1M78.9 459.6L75.9 458.7M80.5 433.6L79.9 433.7M76.8 430.4L77 432.3M79.9 433.7L77 432.3M54.8 447.2L51.8 444.6M54.8 447.2L53.8 448.8M53.8 448.8L51.9 449.8M51.8 444.6L50.8 447.6M50.8 447.6L51.1 449.3M51.1 449.3L51.9 449.8M55.8 446.6L54.8 447.2M51.7 444.1L51.8 444.6M56.1 450.3L53.8 448.8M52.3 452.1L51.9 449.8M50.1 442.8L48.4 443.7M48.3 445.9L48.4 443.7M48.3 445.9L50.8 447.6M49.5 449.6L51.1 449.3M46.2 448.4L48.3 445.9M97.3 411.2L98.1 412.5M97.3 411.2L97.8 409.7M94.9 412.2L97.3 411.2M97.9 414.7L98.1 412.5M76.7 393.9L75.4 396.5M76.7 393.9L78.4 393.1M78.4 393.1L79.5 394.9M75.7 396.8L79.1 396.9M75.7 396.8L75.4 396.5M79.5 394.9L79.1 396.9M78.8 392.1L78.4 393.1M83.8 395.7L79.5 394.9M76.4 399.5L75.7 396.8M79.6 398.2L79.1 396.9M72.3 399.2L72.9 400.3M72.1 397.1L73 396.5M73 396.5L75.4 396.5M73 406.7L70.8 406.3M71.4 409.6L69.7 407.7M70.8 406.3L69.7 407.7M64.4 404.7L66.9 405.6M67.4 408.5L67.7 408.1M66.9 405.6L67.7 408.1M69.7 407.7L67.7 408.1M92.3 402.1L94.1 403.4M92.3 402.1L92.7 400M89.9 398.4L92.7 400M89.9 402.7L92.3 402.1M94.1 404.9L91.2 406.4M94.1 404.9L95.6 406.9M95.4 408.2L95.6 406.9M95.4 408.2L93.6 409.6M93.6 409.6L90.9 408.5M90.9 408.5L91.2 406.4M89.9 404.6L91.2 406.4M94.1 403.4L94.1 404.9M96.6 406.4L95.6 406.9M97.8 409.7L95.4 408.2M93.8 411.4L93.6 409.6M90.2 408.9L90.9 408.5M73 396.5L72.8 393.1M76.7 393.9L74.1 392.4M74.1 392.4L72.8 393.1M75.6 389.7L74.5 389.7M74.1 392.4L74.5 389.7M73.4 388L73.5 388.8M74.5 389.7L73.5 388.8M41.9 421.6L46.3 422M42.2 418L46.6 421M46.6 421L46.3 422M43.9 424.8L41.9 425M43.9 424.8L46.3 422.4M46.3 422.4L46.3 422M47.7 413L47.9 413.5M47.7 413L46.5 412M47.9 413.5L44.9 415.3M46.5 412L44.2 412.9M44.2 412.9L44 415.2M44 415.2L44.9 415.3M49.5 410.2L47.7 413M51.6 413.5L49.3 414.7M49.3 414.7L47.9 413.5M46 409.5L46.5 412M43.1 410.6L44.2 412.9M43 415.8L44 415.2M50.4 417.7L49.2 417.4M50.4 417.7L52 420.5M49.2 417.4L48.1 418M47.3 420.3L50.3 421.5M47.3 420.3L47.9 418.4M47.9 418.4L48.1 418M52 420.5L50.3 421.5M53.8 416.4L50.4 417.7M49.3 414.7L49.2 417.4M53.6 421L52 420.5M44.9 415.3L48.1 418M50.1 423.8L48.2 424.6M50.1 423.8L50.3 421.5M48.2 424.6L46.3 422.4M46.6 421L47.3 420.3M42.4 417.6L47.9 418.4M52.5 424.6L50.1 423.8M50.3 440.9L48 439.3M48 439.3L47.5 439.3M48.4 443.7L45.3 443.2M47.5 439.3L45.3 443.2M37.4 431.4L36.9 432.8M33.7 432.6L35.2 434M35.2 434L36.9 432.8M39.8 431L41.2 433.5M41.2 433.5L39.4 435.1M36.9 432.8L39.4 435.1M48 439.3L48.6 437.7M48.6 437.7L47.3 435.1M47.5 439.3L45.5 438.2M45.5 438.2L47.3 435.1M42.9 429.8L44.6 433.2M41.2 433.5L43.7 433.9M44.6 433.2L43.7 433.9M45.3 456.3L42.2 454.6M44.5 451.5L42.4 452.6M42.2 454.6L42.4 452.6M42.1 458.4L40.8 456.7M42.2 454.6L40.8 456.7M53 434.8L52.4 434.1M53 434.8L51.3 437.8M52.4 434.1L49.6 434.5M49.6 434.5L50 437M51.3 437.8L50 437M54.3 435.4L53 434.8M52.7 430.9L52.4 434.1M51.8 439.7L51.3 437.8M48.6 437.7L50 437M29.8 433.6L29.1 437.1M26.3 438L27.2 438M26.3 438L24.8 436.4M29.1 437.1L27.2 438M22 439.8L25.2 441.8M25.3 442.6L25.2 441.8M22 437.7L22 439.8M27.1 448.3L27.1 448.2M27.1 448.2L26.5 443.1M26.5 443.1L25.3 442.6M26.3 438L25.2 441.8M30.3 407.9L32.4 410.3M30.3 407.9L30.6 406.9M31.6 406.1L30.6 406.9M31.6 406.1L34.8 408.1M34.8 408.1L33 410.4M33 410.4L32.4 410.3M28.5 410.6L28.8 408.9M28.8 408.9L30.3 407.9M30.6 413.1L32.4 410.3M31.9 405.4L31.6 406.1M27.6 402.6L28 404.9M28 404.9L30.6 406.9M36 407.9L34.8 408.1M33.7 410.9L33 410.4M16.2 412.8L17.2 412.1M20.2 414.2L19.5 412.6M17.2 412.1L19.5 412.6M17.2 412.1L17.9 409.2M15.8 401.7L17 404.4M19 399.9L19.5 401.6M17 404.4L19.5 401.6M17 404.4L16.9 404.9M81.8 434L82.2 436.5M82.2 436.5L80.8 438.3M79.9 433.7L78.4 436.2M80.8 438.3L78.4 436.2M80.8 438.3L80.4 439.8M78.5 440.1L76.5 437.1M78.5 440.1L79.5 440.3M78.4 436.2L76.5 437.1M79.5 440.3L80.4 439.8M84.4 438.9L84.5 437.7M84.4 438.9L86.9 440.6M84.5 437.7L86.5 436.4M86.9 440.6L87.4 440.4M87.4 440.4L87.2 437M86.5 436.4L87.2 437M82.2 436.5L84.5 437.7M82.8 440.8L80.4 439.8M82.8 440.8L84.4 438.9M84.8 443.3L83.6 442.5M85.2 443.2L86.9 440.6M82.8 440.8L83.6 442.5M86.5 434.7L86.5 436.4M88.6 440.6L87.4 440.4M90.8 437.2L87.2 437M70.6 442.2L70.8 439.3M74.9 441.8L74.3 439.5M74.9 441.8L73.7 443M70.8 439.3L74.3 439.5M66.6 440.5L70.2 438.3M70.8 439.3L70.2 438.3M67.7 436L70.2 438.2M70.2 438.3L70.2 438.2M71.4 402.9L70.6 405.7M71.4 402.9L68.8 402.2M70.6 405.7L68 404.6M68.8 402.2L68 404.6M72.6 402.4L71.4 402.9M70.8 406.3L70.6 405.7M68.6 401.9L68.8 402.2M66.9 405.6L68 404.6M72.1 389.7L71.4 392.6M72.1 389.7L69.3 389.7M68.6 390.2L69.3 389.7M68.6 390.2L68.9 392M68.9 392L70.2 392.7M70.2 392.7L71.4 392.6M72.8 393.1L71.4 392.6M73.5 388.8L72.1 389.7M70.4 386.8L69.3 389.7M66.3 388.9L68.6 390.2M66.2 394.4L68.9 392M70 396.6L70.2 392.7M46.2 448.4L44.6 444.7M45.3 443.2L44.6 443.3M44.6 444.7L44.6 443.3M44.9 449.6L42.2 447.7M42.2 447.7L42.1 447.6M44.6 444.7L42.1 447.6M30.3 433.7L33.3 436.3M35.2 434L35 434.8M33.3 436.3L35 434.8M51.5 427L48.2 427.4M52.5 430.7L49.8 430.4M49.8 430.4L48.2 427.4M43.9 424.8L46.5 427.7M43.1 428.9L46.5 427.8M46.5 427.7L46.5 427.8M48.2 424.6L47.9 427.2M46.5 427.7L47.9 427.2M47.9 427.2L48.2 427.4M47.8 433.8L49.2 431.1M47.8 433.8L47.4 433.9M47.4 433.9L45.4 433.1M49.2 431.1L46.4 430.2M45.4 433.1L46.4 430.2M49.6 434.5L47.8 433.8M49.8 430.4L49.2 431.1M47.3 435.1L47.4 433.9M43.2 436.9L43.7 433.9M43.2 436.9L45.4 438.2M45.4 438.2L45.5 438.2M44.6 433.2L45.4 433.1M46.5 427.8L46.4 430.2M42.4 452.6L41.5 452.2M42.2 447.7L40.3 450.4M41.5 452.2L40.3 450.4M26.5 443.1L29 442.9M27.2 438L28.9 440.3M28.9 440.3L29 442.9M30.3 446.4L27.1 448.2M30.3 446.4L29.1 443M29.1 443L29 442.9M19.5 412.6L20.6 410M17.9 409.2L18.6 409.1M18.6 409.1L20.6 410M16.9 404.9L19.7 405.8M18.6 409.1L19.7 405.8M23.8 412.2L20.7 410M20.7 410L20.6 410M22.8 399.7L22.8 402.2M25.8 402.3L25 402.9M22.8 402.2L25 402.9M19.5 401.6L21 402.8M22.8 402.2L21 402.8M19.7 405.8L21 405.5M21 402.8L21 405.5M20.7 410L22.9 406.8M21 405.5L22.9 406.8M79.7 441.9L81.4 443.5M79.7 441.9L78.2 444.7M81.4 443.5L80.6 445.2M80.6 445.2L78.9 446M78.2 444.7L78.4 445.8M78.9 446L78.4 445.8M83.6 442.5L81.4 443.5M79.5 440.3L79.7 441.9M76.1 441.8L78.5 440.1M76.1 441.8L78.2 444.7M83.4 446.1L80.6 445.2M80.4 449.2L78.9 446M75.1 447L78.4 445.8M76.1 441.8L74.9 441.8M75.7 436.9L76 433.1M75.7 436.9L75.1 437.1M75.1 437.1L72.5 436M76 433.1L73 432.9M72.5 436L72 434.1M72 434.1L73 432.9M77 432.3L76 433.1M76.5 437.1L75.7 436.9M74.3 439.5L75.1 437.1M70.2 438.2L72.5 436M72.7 431.7L73 432.9M70 433.8L72 434.1M45.4 438.2L43.9 441.2M44.6 443.3L44.4 443.2M43.9 441.2L44.4 443.2M40.1 446.1L42.1 447.6M40.1 446.1L40.9 443.7M44.4 443.2L40.9 443.7M29.1 437.1L31.1 438M28.9 440.3L31.2 439.4M31.1 438L31.2 439.4M33.3 436.3L33.3 436.6M31.1 438L33.3 436.6M39.4 435.1L39.3 436.2M35 434.8L38 437.6M39.3 436.2L38 437.6M43.2 436.9L42.5 437.3M39.3 436.2L42.5 437.3M43.9 441.2L41.7 439.4M42.5 437.3L41.7 439.4M40.8 456.7L40.7 456.7M41.5 452.2L38.4 453.2M38.4 453.2L40.7 456.7M35.5 455.8L40.4 456.8M40.4 456.8L40.7 456.7M38.4 453.2L36.3 453M35.5 455.8L35.8 453.3M35.8 453.3L36.3 453M24.5 405.2L22.9 406.8M24.5 405.2L26.6 405.9M22.9 406.8L25 408.8M26.6 405.9L26.9 408.4M26.9 408.4L25 408.8M25 402.9L24.5 405.2M22.9 406.8L22.9 406.8M28 404.9L26.6 405.9M24.5 411.8L25 408.8M28.8 408.9L26.9 408.4M29.1 443L30.9 442.4M31.2 439.4L31.9 440.5M30.9 442.4L31.9 440.5M38 437.6L37.8 439.1M41.7 439.4L39.9 440.2M37.8 439.1L39.9 440.2M33.3 436.6L35.7 440.5M37.8 439.1L35.7 440.5M40.9 443.7L40.6 443.4M40.6 443.4L39.9 440.2M31.9 440.5L35.7 440.5M35.7 440.5L35.7 440.5M35.8 453.3L34.8 452.4M34.8 452.4L30.3 452.7M27.1 448.3L30.9 450.1M30.3 452.7L30.9 450.1M30.3 446.4L32 446.9M30.9 450.1L32.4 448.6M32 446.9L32.4 448.6M34.8 452.4L34.1 449.7M32.4 448.6L34.1 449.7M40.6 443.4L36.4 443.1M35.7 440.5L35.7 442.6M36.4 443.1L35.7 442.6M30.9 442.4L33.9 444.3M35.7 442.6L33.9 444.3M32 446.9L33.6 445.3M33.9 444.3L33.6 445.3M35.3 448.8L36.3 447.2M35.3 448.8L38.1 450.1M36.3 447.2L38 446.8M38.7 449.6L38.1 450.1M38.7 449.6L38.4 447M38.4 447L38 446.8M34.1 449.7L35.3 448.8M33.6 445.3L36.3 447.2M36.3 453L38.1 450.1M36.4 443.1L38 446.8M40.3 450.4L38.7 449.6M40.1 446.1L38.4 447" stroke="url(#gom)" stroke-width="0.75" fill="none" opacity="0.95"/>
</g>
<path d="M22 441C28 452 38 460 50 464C62 467 74 466 84 462C94 456 100 446 103 432C105 422 104 414 100 406" fill="none" stroke="#c8d0f0" stroke-width="1.3" opacity="0.85"/>
<path d="M73.6 380C80 386 88 391 96 400C99 403 101 406 102 409" fill="none" stroke="#8890c0" stroke-width="0.9" opacity="0.7"/>
<path d="M73.6 380C80 392 86 410 88 428C89 440 90 448 90 455" fill="none" stroke="#c0c4dc" stroke-width="0.8" opacity="0.6"/>
<ellipse cx="42.1" cy="398.6" rx="1.8" ry="1.2" fill="#e0606e" stroke="#fbe0e6" stroke-width="0.5" transform="rotate(-20 42.1 398.6)"/>
<ellipse cx="46.7" cy="415.0" rx="3.0" ry="1.7" fill="#e0606e" stroke="#fbe0e6" stroke-width="0.5" transform="rotate(-25 46.7 415.0)"/>
<ellipse cx="29" cy="416" rx="7" ry="1.1" fill="#e0606e" stroke="#fbe0e6" stroke-width="0.5" transform="rotate(-8 29 416)"/>
<ellipse cx="30" cy="423.5" rx="8" ry="1.2" fill="#e0606e" stroke="#fbe0e6" stroke-width="0.5" transform="rotate(4 30 423.5)"/>
<ellipse cx="61" cy="421" rx="4.5" ry="1.3" fill="#e0606e" stroke="#fbe0e6" stroke-width="0.5" transform="rotate(-35 61 421)"/>
<ellipse cx="90.5" cy="408" rx="2.2" ry="3.0" fill="#e0606e" stroke="#fbe0e6" stroke-width="0.5" transform="rotate(-30 90.5 408)"/>
<ellipse cx="26" cy="420" rx="3.5" ry="1.0" fill="#e0606e" stroke="#fbe0e6" stroke-width="0.5" transform="rotate(10 26 420)"/>
<g fill="#e06a8a"><circle cx="115.5" cy="464.7" r="1.5"/><circle cx="110.6" cy="437.5" r="1.6"/><circle cx="107.8" cy="446.9" r="1.2"/><circle cx="114.5" cy="430.8" r="1.5"/><circle cx="105" cy="437.9" r="1.5"/><circle cx="107.3" cy="446.7" r="1.4"/><circle cx="111.5" cy="440.2" r="1.8"/><circle cx="110.7" cy="445.6" r="1.2"/><circle cx="107.9" cy="479.2" r="1.3"/><circle cx="119.7" cy="444.1" r="1.6"/><circle cx="113.9" cy="463.9" r="1.7"/><circle cx="104.5" cy="419.3" r="1.4"/><circle cx="120.1" cy="453.5" r="1.2"/><circle cx="117.5" cy="437.7" r="2"/><circle cx="111" cy="431.3" r="1.7"/><circle cx="112.2" cy="435.2" r="1.9"/><circle cx="111.7" cy="470.2" r="1.7"/><circle cx="120.6" cy="423.5" r="1.5"/><circle cx="118.8" cy="447.9" r="1.4"/><circle cx="110.5" cy="473.7" r="1.5"/><circle cx="107.4" cy="444.4" r="1.3"/><circle cx="104.8" cy="448.7" r="2"/><circle cx="121.3" cy="437.1" r="1.3"/><circle cx="109.1" cy="469.1" r="1.6"/><circle cx="105.8" cy="422.6" r="1.6"/><circle cx="107" cy="476.9" r="1.5"/><circle cx="109.2" cy="433.7" r="1.4"/><circle cx="115" cy="444.5" r="1.3"/><circle cx="111.6" cy="454.3" r="2"/><circle cx="105.3" cy="446.6" r="1.9"/><circle cx="106.4" cy="444.2" r="2.1"/><circle cx="118.4" cy="448.7" r="1.9"/><circle cx="115.2" cy="475.2" r="1.6"/><circle cx="105.2" cy="441.1" r="1.6"/><circle cx="107.9" cy="422.5" r="1.3"/><circle cx="105.1" cy="446.7" r="2.1"/><circle cx="22.1" cy="479.4" r="1.2"/><circle cx="85" cy="386" r="1.4"/></g>
<g fill="#39c050"><circle cx="108.2" cy="440.7" r="1.5"/><circle cx="107.9" cy="460.2" r="2.1"/><circle cx="111.9" cy="478.5" r="1.5"/><circle cx="114.9" cy="443.4" r="1.3"/><circle cx="119.1" cy="452" r="1.3"/><circle cx="106" cy="477.2" r="1.5"/><circle cx="106.4" cy="424" r="1.4"/><circle cx="112.3" cy="429.2" r="1.4"/><circle cx="111" cy="462" r="1.3"/><circle cx="114.1" cy="419.3" r="1.6"/><circle cx="107" cy="427.9" r="1.6"/><circle cx="121.7" cy="478.6" r="1.3"/><circle cx="119.2" cy="439.7" r="1.5"/><circle cx="120.5" cy="440.8" r="1.9"/><circle cx="121.9" cy="474.2" r="1.6"/><circle cx="121.5" cy="444.8" r="1.8"/><circle cx="109.6" cy="478.4" r="1.6"/><circle cx="120.9" cy="441.6" r="1.7"/><circle cx="113.1" cy="479" r="1.7"/><circle cx="108.6" cy="442.5" r="1.6"/><circle cx="108.2" cy="448.2" r="1.4"/><circle cx="121.7" cy="422.2" r="1.2"/><circle cx="106.3" cy="428.7" r="1.7"/><circle cx="122" cy="421.7" r="1.7"/><circle cx="114.4" cy="439.5" r="1.4"/><circle cx="121.7" cy="450.1" r="1.7"/><circle cx="113.1" cy="444.4" r="1.6"/><circle cx="108.5" cy="448.7" r="2"/><circle cx="113.5" cy="455.9" r="2"/><circle cx="117.8" cy="479.5" r="1.4"/><circle cx="107.1" cy="442.4" r="2"/><circle cx="109.6" cy="478.9" r="1.3"/><circle cx="118.4" cy="455.7" r="1.7"/><circle cx="105.6" cy="426.7" r="1.4"/><circle cx="105" cy="456.3" r="2"/><circle cx="112.6" cy="432.6" r="1.9"/><circle cx="110.9" cy="466.9" r="1.3"/><circle cx="24.5" cy="473.2" r="1.6"/><circle cx="31.1" cy="477.7" r="1.8"/><circle cx="22.8" cy="479" r="1.9"/></g>
<g fill="#3a60d0"><circle cx="114.1" cy="457.5" r="1.6"/><circle cx="107.5" cy="425.8" r="1.9"/><circle cx="105.3" cy="440.7" r="1.3"/><circle cx="119.3" cy="421.1" r="1.4"/><circle cx="106.4" cy="474.8" r="1.9"/><circle cx="115.2" cy="447.7" r="1.7"/><circle cx="114.6" cy="474.6" r="1.3"/><circle cx="107.7" cy="468.2" r="1.7"/><circle cx="106.5" cy="425.4" r="2"/><circle cx="107" cy="422.7" r="2.1"/><circle cx="114.7" cy="453.5" r="1.2"/><circle cx="112.2" cy="472.2" r="1.3"/><circle cx="118.8" cy="461.6" r="1.9"/><circle cx="111.1" cy="468.8" r="1.4"/><circle cx="117" cy="451.2" r="1.3"/><circle cx="108.7" cy="467.2" r="2"/><circle cx="116.8" cy="479.8" r="1.5"/><circle cx="111.8" cy="450.2" r="1.9"/><circle cx="118" cy="478.2" r="1.3"/><circle cx="116.3" cy="445.3" r="1.9"/><circle cx="120.7" cy="427.3" r="1.6"/><circle cx="109.5" cy="463.7" r="2"/><circle cx="110" cy="437.6" r="2"/><circle cx="109.3" cy="451.1" r="1.2"/><circle cx="118.5" cy="468.8" r="2"/><circle cx="121.1" cy="442.3" r="1.9"/><circle cx="104.7" cy="425.7" r="1.6"/><circle cx="106.5" cy="478.6" r="2.1"/><circle cx="119.3" cy="442" r="1.2"/><circle cx="104.9" cy="427.7" r="1.7"/><circle cx="118.4" cy="448.7" r="1.3"/><circle cx="108.7" cy="458.8" r="1.3"/><circle cx="106.7" cy="424.4" r="1.4"/><circle cx="106.8" cy="421" r="1.6"/><circle cx="115" cy="446.5" r="1.2"/><circle cx="109.5" cy="452.2" r="1.7"/><circle cx="28.6" cy="473.6" r="1.6"/><circle cx="35.3" cy="461.3" r="1.7"/><circle cx="42.2" cy="476" r="1.7"/><circle cx="88" cy="384" r="1.5"/><circle cx="84" cy="399" r="1.9"/></g>
<g fill="#c0e070"><circle cx="117.1" cy="432.7" r="1.6"/><circle cx="121.2" cy="477.6" r="1.3"/><circle cx="121.7" cy="473" r="1.8"/><circle cx="112.9" cy="476.3" r="1.5"/><circle cx="110.4" cy="441.8" r="1.3"/><circle cx="105.3" cy="447.5" r="1.8"/><circle cx="120.2" cy="426.1" r="1.7"/><circle cx="119.3" cy="422.7" r="1.4"/><circle cx="118.1" cy="467.2" r="1.2"/><circle cx="109.4" cy="462" r="1.3"/><circle cx="113.2" cy="421" r="1.7"/><circle cx="120.4" cy="447.1" r="1.5"/><circle cx="108.8" cy="455.8" r="1.7"/><circle cx="118.4" cy="432.4" r="1.5"/><circle cx="112.4" cy="456" r="1.7"/><circle cx="108" cy="423.3" r="1.7"/><circle cx="111.8" cy="435.2" r="2.1"/><circle cx="105.3" cy="422.6" r="1.7"/><circle cx="109.7" cy="429.9" r="1.4"/><circle cx="114.1" cy="437.6" r="1.2"/><circle cx="110.8" cy="425.3" r="1.4"/><circle cx="108.7" cy="442.3" r="1.3"/><circle cx="108.2" cy="477.7" r="1.8"/><circle cx="115.8" cy="456.1" r="1.8"/><circle cx="114.3" cy="458.9" r="1.5"/><circle cx="114" cy="421.6" r="1.3"/><circle cx="119.6" cy="429.6" r="1.3"/><circle cx="108.6" cy="477.7" r="2.1"/><circle cx="121" cy="441.1" r="1.5"/><circle cx="114.9" cy="454.4" r="2"/><circle cx="109.5" cy="438.8" r="1.9"/><circle cx="105.8" cy="440" r="1.7"/><circle cx="110.6" cy="437" r="1.2"/><circle cx="37.6" cy="476.7" r="1.6"/></g>
<g fill="#50c8a0"><circle cx="118.4" cy="422.2" r="1.9"/><circle cx="118.5" cy="470.2" r="1.3"/><circle cx="120.3" cy="429.6" r="1.7"/><circle cx="107.2" cy="471.8" r="1.9"/><circle cx="104.8" cy="420" r="1.7"/><circle cx="112.7" cy="479.1" r="2"/><circle cx="110.7" cy="478.3" r="2"/><circle cx="109" cy="461.2" r="2"/><circle cx="112.1" cy="425.1" r="1.3"/><circle cx="107.9" cy="444.4" r="1.5"/><circle cx="113.8" cy="431.6" r="1.4"/><circle cx="105.3" cy="437.8" r="1.6"/><circle cx="104.6" cy="438.1" r="1.7"/><circle cx="108.8" cy="432" r="1.4"/><circle cx="112.4" cy="444.5" r="1.4"/><circle cx="111.7" cy="477.2" r="1.6"/><circle cx="115" cy="466.8" r="1.8"/><circle cx="119.3" cy="421.4" r="1.4"/><circle cx="117.7" cy="443.7" r="1.6"/><circle cx="120.1" cy="424.4" r="1.3"/><circle cx="121.3" cy="479.6" r="1.9"/><circle cx="119.9" cy="463.2" r="1.2"/><circle cx="109.4" cy="473.9" r="1.7"/><circle cx="110.9" cy="420.6" r="1.5"/><circle cx="119.2" cy="470.6" r="1.8"/><circle cx="120.9" cy="473.6" r="2"/><circle cx="112.2" cy="470.6" r="1.6"/><circle cx="105.4" cy="474.9" r="1.9"/><circle cx="120.1" cy="430" r="1.7"/><circle cx="117.1" cy="460.3" r="1.5"/><circle cx="119.5" cy="472.1" r="1.7"/><circle cx="39.4" cy="458.4" r="1.8"/></g>
<g fill="#4ad060"><circle cx="118.7" cy="420.7" r="1.8"/><circle cx="119.3" cy="424.5" r="1.6"/><circle cx="111.8" cy="455.5" r="1.8"/><circle cx="116.1" cy="443.4" r="1.8"/><circle cx="106.5" cy="432.6" r="1.2"/><circle cx="120.2" cy="470.3" r="1.3"/><circle cx="111.1" cy="440.1" r="1.9"/><circle cx="105.8" cy="427.7" r="1.9"/><circle cx="113.7" cy="428.6" r="1.4"/><circle cx="110.9" cy="474.6" r="1.3"/><circle cx="120.4" cy="420.4" r="1.5"/><circle cx="107.7" cy="445.9" r="1.5"/><circle cx="114.3" cy="471.3" r="1.6"/><circle cx="106.3" cy="472.8" r="1.5"/><circle cx="105.6" cy="423.2" r="1.3"/><circle cx="108.8" cy="438.1" r="1.3"/><circle cx="114.2" cy="474.4" r="1.4"/><circle cx="115.6" cy="478.2" r="1.4"/><circle cx="109.6" cy="427" r="1.8"/><circle cx="104.9" cy="474.1" r="1.6"/><circle cx="111.9" cy="477.7" r="1.3"/><circle cx="110.6" cy="427.2" r="1.5"/><circle cx="120.9" cy="451.7" r="1.2"/><circle cx="105.8" cy="429.6" r="1.6"/><circle cx="118.1" cy="470.4" r="1.3"/><circle cx="109.9" cy="447.3" r="1.8"/><circle cx="118" cy="465" r="1.3"/><circle cx="110.9" cy="477.7" r="1.9"/><circle cx="110.5" cy="471.8" r="1.7"/><circle cx="117.5" cy="478.9" r="1.2"/><circle cx="39.5" cy="474.8" r="1.6"/><circle cx="29" cy="458.8" r="2"/><circle cx="40.3" cy="477.7" r="1.4"/><circle cx="22.4" cy="470.3" r="1.5"/><circle cx="40.1" cy="462.3" r="1.6"/><circle cx="29.2" cy="458.2" r="2"/></g>
<g fill="#2fb848"><circle cx="120.5" cy="479.8" r="1.6"/><circle cx="106.3" cy="478.3" r="1.6"/><circle cx="119.6" cy="453.7" r="1.7"/><circle cx="107" cy="449.4" r="1.3"/><circle cx="120" cy="442.9" r="1.6"/><circle cx="106.5" cy="469.1" r="1.4"/><circle cx="112.8" cy="432.5" r="1.6"/><circle cx="108.3" cy="473.3" r="1.6"/><circle cx="118" cy="425.6" r="1.6"/><circle cx="108.1" cy="476.6" r="1.7"/><circle cx="114.9" cy="477.4" r="1.4"/><circle cx="112.5" cy="431.9" r="1.3"/><circle cx="116.9" cy="471.8" r="1.8"/><circle cx="111.2" cy="462.9" r="1.7"/><circle cx="106.5" cy="420.1" r="1.9"/><circle cx="113.4" cy="471.6" r="1.4"/><circle cx="108.5" cy="442" r="1.5"/><circle cx="105.2" cy="429.9" r="1.7"/><circle cx="111.5" cy="455.3" r="1.2"/><circle cx="118.1" cy="465.3" r="1.8"/><circle cx="115.4" cy="477.1" r="1.4"/><circle cx="114.4" cy="458.2" r="1.8"/><circle cx="120.4" cy="467.4" r="1.6"/><circle cx="104.8" cy="426" r="1.5"/><circle cx="112.2" cy="464.9" r="1.9"/><circle cx="121.2" cy="443" r="1.9"/><circle cx="114.8" cy="478.3" r="2.1"/><circle cx="32.8" cy="476.8" r="1.9"/><circle cx="32.4" cy="461" r="1.5"/><circle cx="33.2" cy="475.5" r="1.5"/></g>
</g>
<text x="26.2" y="474" fill="#d8d8e8" stroke="#d8d8e8" font-size="5.8">50 μm</text>
<line x1="24" y1="478.5" x2="41" y2="478.5" stroke="#a0a0d8" stroke-width="1"/>
</svg></body></html>
